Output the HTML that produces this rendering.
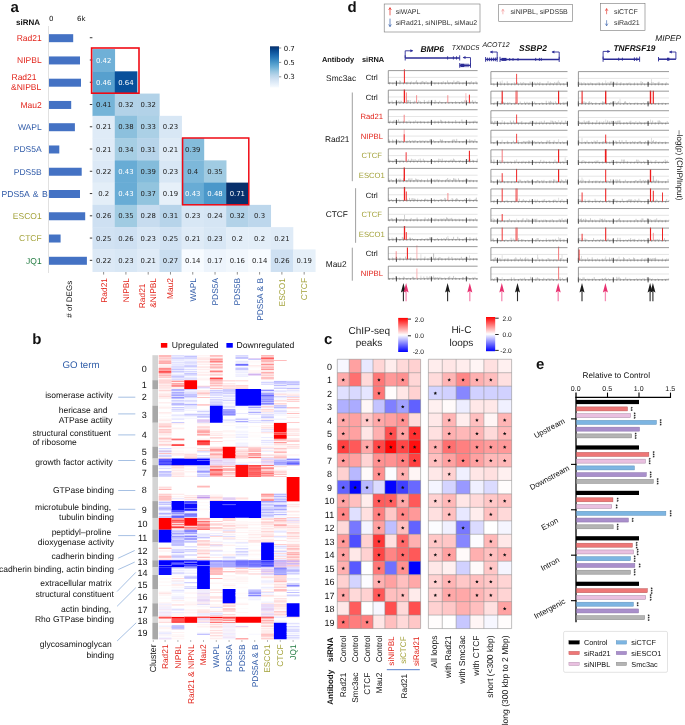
<!DOCTYPE html>
<html lang="en"><head><meta charset="utf-8"><title>Figure</title>
<style>
html,body{margin:0;padding:0;background:#fff}
body{width:685px;height:725px;overflow:hidden}
svg{display:block;text-rendering:geometricPrecision;font-family:"Liberation Sans",sans-serif}

</style></head><body>
<svg width="685" height="725" viewBox="0 0 685 725">
<rect width="685" height="725" fill="#fff"/>
<g fill="#111" style="filter:blur(0.3px)">
<g id="panel-a">
<text x="10.5" y="12.3" font-size="15" font-weight="bold">a</text>
<text x="16" y="25.4" font-size="8" font-weight="bold">siRNA</text>
<text x="49" y="20.7" font-size="7" font-family="DejaVu Sans, sans-serif">0</text>
<text x="77" y="20.7" font-size="7" font-family="DejaVu Sans, sans-serif">6k</text>
<line x1="48.5" y1="26" x2="48.5" y2="273" stroke="#d9d9d9" stroke-width="0.8"/>
<rect x="49" y="34.18" width="24.2" height="8" fill="#4472c4"/>
<text x="41.7" y="41.03" font-size="8.5" fill="#e2231a" text-anchor="end">Rad21</text>
<line x1="89.8" y1="37.73" x2="92.4" y2="37.73" stroke="#222" stroke-width="0.9"/>
<rect x="49" y="56.44" width="31" height="8" fill="#4472c4"/>
<text x="41.7" y="63.29" font-size="8.5" fill="#e2231a" text-anchor="end">NIPBL</text>
<line x1="89.8" y1="59.99" x2="92.4" y2="59.99" stroke="#222" stroke-width="0.9"/>
<rect x="49" y="78.7" width="32" height="8" fill="#4472c4"/>
<text x="11.5" y="80.25" font-size="8.5" fill="#e2231a">Rad21</text>
<text x="11" y="90.05" font-size="8.5" fill="#e2231a">&amp;NIPBL</text>
<line x1="89.8" y1="82.25" x2="92.4" y2="82.25" stroke="#222" stroke-width="0.9"/>
<rect x="49" y="100.96" width="22.2" height="8" fill="#4472c4"/>
<text x="41.7" y="107.81" font-size="8.5" fill="#e2231a" text-anchor="end">Mau2</text>
<line x1="89.8" y1="104.51" x2="92.4" y2="104.51" stroke="#222" stroke-width="0.9"/>
<rect x="49" y="123.22" width="25.9" height="8" fill="#4472c4"/>
<text x="41.7" y="130.07" font-size="8.5" fill="#2f5aa8" text-anchor="end">WAPL</text>
<line x1="89.8" y1="126.77" x2="92.4" y2="126.77" stroke="#222" stroke-width="0.9"/>
<rect x="49" y="145.48" width="10.3" height="8" fill="#4472c4"/>
<text x="41.7" y="152.33" font-size="8.5" fill="#2f5aa8" text-anchor="end">PDS5A</text>
<line x1="89.8" y1="149.03" x2="92.4" y2="149.03" stroke="#222" stroke-width="0.9"/>
<rect x="49" y="167.74" width="32.7" height="8" fill="#4472c4"/>
<text x="41.7" y="174.59" font-size="8.5" fill="#2f5aa8" text-anchor="end">PDS5B</text>
<line x1="89.8" y1="171.29" x2="92.4" y2="171.29" stroke="#222" stroke-width="0.9"/>
<rect x="49" y="190" width="31" height="8" fill="#4472c4"/>
<text x="1.5" y="196.85" font-size="8.6" fill="#2f5aa8" word-spacing="1.1">PDS5A &amp; B</text>
<line x1="89.8" y1="193.55" x2="92.4" y2="193.55" stroke="#222" stroke-width="0.9"/>
<rect x="49" y="212.26" width="36.2" height="8" fill="#4472c4"/>
<text x="41.7" y="219.11" font-size="8.5" fill="#a3a23a" text-anchor="end">ESCO1</text>
<line x1="89.8" y1="215.81" x2="92.4" y2="215.81" stroke="#222" stroke-width="0.9"/>
<rect x="49" y="234.52" width="11.6" height="8" fill="#4472c4"/>
<text x="41.7" y="241.37" font-size="8.5" fill="#a3a23a" text-anchor="end">CTCF</text>
<line x1="89.8" y1="238.07" x2="92.4" y2="238.07" stroke="#222" stroke-width="0.9"/>
<rect x="49" y="256.78" width="37.9" height="8" fill="#4472c4"/>
<text x="41.7" y="263.63" font-size="8.5" fill="#1f7a3f" text-anchor="end">JQ1</text>
<line x1="89.8" y1="260.33" x2="92.4" y2="260.33" stroke="#222" stroke-width="0.9"/>
<rect x="92.5" y="49.06" width="22.58" height="22.56" fill="#6fb0d7"/>
<rect x="92.5" y="71.32" width="22.58" height="22.56" fill="#57a0ce"/>
<rect x="114.78" y="71.32" width="22.58" height="22.56" fill="#08509b"/>
<rect x="92.5" y="93.58" width="22.58" height="22.56" fill="#75b4d8"/>
<rect x="114.78" y="93.58" width="22.58" height="22.56" fill="#b2d2e8"/>
<rect x="137.06" y="93.58" width="22.58" height="22.56" fill="#b2d2e8"/>
<rect x="92.5" y="115.84" width="22.58" height="22.56" fill="#dfebf7"/>
<rect x="114.78" y="115.84" width="22.58" height="22.56" fill="#8cc0dd"/>
<rect x="137.06" y="115.84" width="22.58" height="22.56" fill="#abd0e6"/>
<rect x="159.34" y="115.84" width="22.58" height="22.56" fill="#d8e7f5"/>
<rect x="92.5" y="138.1" width="22.58" height="22.56" fill="#dfebf7"/>
<rect x="114.78" y="138.1" width="22.58" height="22.56" fill="#a6cee4"/>
<rect x="137.06" y="138.1" width="22.58" height="22.56" fill="#b7d4ea"/>
<rect x="159.34" y="138.1" width="22.58" height="22.56" fill="#dfebf7"/>
<rect x="181.62" y="138.1" width="22.58" height="22.56" fill="#84bcdb"/>
<rect x="92.5" y="160.36" width="22.58" height="22.56" fill="#dce9f6"/>
<rect x="114.78" y="160.36" width="22.58" height="22.56" fill="#68acd5"/>
<rect x="137.06" y="160.36" width="22.58" height="22.56" fill="#84bcdb"/>
<rect x="159.34" y="160.36" width="22.58" height="22.56" fill="#d8e7f5"/>
<rect x="181.62" y="160.36" width="22.58" height="22.56" fill="#7db8da"/>
<rect x="203.9" y="160.36" width="22.58" height="22.56" fill="#a0cbe2"/>
<rect x="92.5" y="182.62" width="22.58" height="22.56" fill="#e3eef8"/>
<rect x="114.78" y="182.62" width="22.58" height="22.56" fill="#68acd5"/>
<rect x="137.06" y="182.62" width="22.58" height="22.56" fill="#92c4de"/>
<rect x="159.34" y="182.62" width="22.58" height="22.56" fill="#e6f0f9"/>
<rect x="181.62" y="182.62" width="22.58" height="22.56" fill="#68acd5"/>
<rect x="203.9" y="182.62" width="22.58" height="22.56" fill="#4b98ca"/>
<rect x="226.18" y="182.62" width="22.58" height="22.56" fill="#08306b"/>
<rect x="92.5" y="204.88" width="22.58" height="22.56" fill="#cee0f2"/>
<rect x="114.78" y="204.88" width="22.58" height="22.56" fill="#a0cbe2"/>
<rect x="137.06" y="204.88" width="22.58" height="22.56" fill="#c7dcef"/>
<rect x="159.34" y="204.88" width="22.58" height="22.56" fill="#b7d4ea"/>
<rect x="181.62" y="204.88" width="22.58" height="22.56" fill="#d8e7f5"/>
<rect x="203.9" y="204.88" width="22.58" height="22.56" fill="#d5e5f4"/>
<rect x="226.18" y="204.88" width="22.58" height="22.56" fill="#b2d2e8"/>
<rect x="248.46" y="204.88" width="22.58" height="22.56" fill="#bdd7ec"/>
<rect x="92.5" y="227.14" width="22.58" height="22.56" fill="#d1e2f3"/>
<rect x="114.78" y="227.14" width="22.58" height="22.56" fill="#cee0f2"/>
<rect x="137.06" y="227.14" width="22.58" height="22.56" fill="#d8e7f5"/>
<rect x="159.34" y="227.14" width="22.58" height="22.56" fill="#d1e2f3"/>
<rect x="181.62" y="227.14" width="22.58" height="22.56" fill="#dfebf7"/>
<rect x="203.9" y="227.14" width="22.58" height="22.56" fill="#d8e7f5"/>
<rect x="226.18" y="227.14" width="22.58" height="22.56" fill="#e3eef8"/>
<rect x="248.46" y="227.14" width="22.58" height="22.56" fill="#e3eef8"/>
<rect x="270.74" y="227.14" width="22.58" height="22.56" fill="#dfebf7"/>
<rect x="92.5" y="249.4" width="22.58" height="22.56" fill="#dce9f6"/>
<rect x="114.78" y="249.4" width="22.58" height="22.56" fill="#d8e7f5"/>
<rect x="137.06" y="249.4" width="22.58" height="22.56" fill="#dfebf7"/>
<rect x="159.34" y="249.4" width="22.58" height="22.56" fill="#cadef0"/>
<rect x="181.62" y="249.4" width="22.58" height="22.56" fill="#f7fbff"/>
<rect x="203.9" y="249.4" width="22.58" height="22.56" fill="#edf4fc"/>
<rect x="226.18" y="249.4" width="22.58" height="22.56" fill="#f1f7fd"/>
<rect x="248.46" y="249.4" width="22.58" height="22.56" fill="#f7fbff"/>
<rect x="270.74" y="249.4" width="22.58" height="22.56" fill="#cee0f2"/>
<rect x="293.02" y="249.4" width="22.58" height="22.56" fill="#e6f0f9"/>
<text x="103.64" y="62.59" font-size="6.9" fill="#fff" text-anchor="middle" font-family="DejaVu Sans, sans-serif">0.42</text>
<text x="103.64" y="84.85" font-size="6.9" fill="#fff" text-anchor="middle" font-family="DejaVu Sans, sans-serif">0.46</text>
<text x="125.92" y="84.85" font-size="6.9" fill="#fff" text-anchor="middle" font-family="DejaVu Sans, sans-serif">0.64</text>
<text x="103.64" y="107.11" font-size="6.9" fill="#222" text-anchor="middle" font-family="DejaVu Sans, sans-serif">0.41</text>
<text x="125.92" y="107.11" font-size="6.9" fill="#222" text-anchor="middle" font-family="DejaVu Sans, sans-serif">0.32</text>
<text x="148.2" y="107.11" font-size="6.9" fill="#222" text-anchor="middle" font-family="DejaVu Sans, sans-serif">0.32</text>
<text x="103.64" y="129.37" font-size="6.9" fill="#222" text-anchor="middle" font-family="DejaVu Sans, sans-serif">0.21</text>
<text x="125.92" y="129.37" font-size="6.9" fill="#222" text-anchor="middle" font-family="DejaVu Sans, sans-serif">0.38</text>
<text x="148.2" y="129.37" font-size="6.9" fill="#222" text-anchor="middle" font-family="DejaVu Sans, sans-serif">0.33</text>
<text x="170.48" y="129.37" font-size="6.9" fill="#222" text-anchor="middle" font-family="DejaVu Sans, sans-serif">0.23</text>
<text x="103.64" y="151.63" font-size="6.9" fill="#222" text-anchor="middle" font-family="DejaVu Sans, sans-serif">0.21</text>
<text x="125.92" y="151.63" font-size="6.9" fill="#222" text-anchor="middle" font-family="DejaVu Sans, sans-serif">0.34</text>
<text x="148.2" y="151.63" font-size="6.9" fill="#222" text-anchor="middle" font-family="DejaVu Sans, sans-serif">0.31</text>
<text x="170.48" y="151.63" font-size="6.9" fill="#222" text-anchor="middle" font-family="DejaVu Sans, sans-serif">0.21</text>
<text x="192.76" y="151.63" font-size="6.9" fill="#222" text-anchor="middle" font-family="DejaVu Sans, sans-serif">0.39</text>
<text x="103.64" y="173.89" font-size="6.9" fill="#222" text-anchor="middle" font-family="DejaVu Sans, sans-serif">0.22</text>
<text x="125.92" y="173.89" font-size="6.9" fill="#fff" text-anchor="middle" font-family="DejaVu Sans, sans-serif">0.43</text>
<text x="148.2" y="173.89" font-size="6.9" fill="#222" text-anchor="middle" font-family="DejaVu Sans, sans-serif">0.39</text>
<text x="170.48" y="173.89" font-size="6.9" fill="#222" text-anchor="middle" font-family="DejaVu Sans, sans-serif">0.23</text>
<text x="192.76" y="173.89" font-size="6.9" fill="#222" text-anchor="middle" font-family="DejaVu Sans, sans-serif">0.4</text>
<text x="215.04" y="173.89" font-size="6.9" fill="#222" text-anchor="middle" font-family="DejaVu Sans, sans-serif">0.35</text>
<text x="103.64" y="196.15" font-size="6.9" fill="#222" text-anchor="middle" font-family="DejaVu Sans, sans-serif">0.2</text>
<text x="125.92" y="196.15" font-size="6.9" fill="#fff" text-anchor="middle" font-family="DejaVu Sans, sans-serif">0.43</text>
<text x="148.2" y="196.15" font-size="6.9" fill="#222" text-anchor="middle" font-family="DejaVu Sans, sans-serif">0.37</text>
<text x="170.48" y="196.15" font-size="6.9" fill="#222" text-anchor="middle" font-family="DejaVu Sans, sans-serif">0.19</text>
<text x="192.76" y="196.15" font-size="6.9" fill="#fff" text-anchor="middle" font-family="DejaVu Sans, sans-serif">0.43</text>
<text x="215.04" y="196.15" font-size="6.9" fill="#fff" text-anchor="middle" font-family="DejaVu Sans, sans-serif">0.48</text>
<text x="237.32" y="196.15" font-size="6.9" fill="#fff" text-anchor="middle" font-family="DejaVu Sans, sans-serif">0.71</text>
<text x="103.64" y="218.41" font-size="6.9" fill="#222" text-anchor="middle" font-family="DejaVu Sans, sans-serif">0.26</text>
<text x="125.92" y="218.41" font-size="6.9" fill="#222" text-anchor="middle" font-family="DejaVu Sans, sans-serif">0.35</text>
<text x="148.2" y="218.41" font-size="6.9" fill="#222" text-anchor="middle" font-family="DejaVu Sans, sans-serif">0.28</text>
<text x="170.48" y="218.41" font-size="6.9" fill="#222" text-anchor="middle" font-family="DejaVu Sans, sans-serif">0.31</text>
<text x="192.76" y="218.41" font-size="6.9" fill="#222" text-anchor="middle" font-family="DejaVu Sans, sans-serif">0.23</text>
<text x="215.04" y="218.41" font-size="6.9" fill="#222" text-anchor="middle" font-family="DejaVu Sans, sans-serif">0.24</text>
<text x="237.32" y="218.41" font-size="6.9" fill="#222" text-anchor="middle" font-family="DejaVu Sans, sans-serif">0.32</text>
<text x="259.6" y="218.41" font-size="6.9" fill="#222" text-anchor="middle" font-family="DejaVu Sans, sans-serif">0.3</text>
<text x="103.64" y="240.67" font-size="6.9" fill="#222" text-anchor="middle" font-family="DejaVu Sans, sans-serif">0.25</text>
<text x="125.92" y="240.67" font-size="6.9" fill="#222" text-anchor="middle" font-family="DejaVu Sans, sans-serif">0.26</text>
<text x="148.2" y="240.67" font-size="6.9" fill="#222" text-anchor="middle" font-family="DejaVu Sans, sans-serif">0.23</text>
<text x="170.48" y="240.67" font-size="6.9" fill="#222" text-anchor="middle" font-family="DejaVu Sans, sans-serif">0.25</text>
<text x="192.76" y="240.67" font-size="6.9" fill="#222" text-anchor="middle" font-family="DejaVu Sans, sans-serif">0.21</text>
<text x="215.04" y="240.67" font-size="6.9" fill="#222" text-anchor="middle" font-family="DejaVu Sans, sans-serif">0.23</text>
<text x="237.32" y="240.67" font-size="6.9" fill="#222" text-anchor="middle" font-family="DejaVu Sans, sans-serif">0.2</text>
<text x="259.6" y="240.67" font-size="6.9" fill="#222" text-anchor="middle" font-family="DejaVu Sans, sans-serif">0.2</text>
<text x="281.88" y="240.67" font-size="6.9" fill="#222" text-anchor="middle" font-family="DejaVu Sans, sans-serif">0.21</text>
<text x="103.64" y="262.93" font-size="6.9" fill="#222" text-anchor="middle" font-family="DejaVu Sans, sans-serif">0.22</text>
<text x="125.92" y="262.93" font-size="6.9" fill="#222" text-anchor="middle" font-family="DejaVu Sans, sans-serif">0.23</text>
<text x="148.2" y="262.93" font-size="6.9" fill="#222" text-anchor="middle" font-family="DejaVu Sans, sans-serif">0.21</text>
<text x="170.48" y="262.93" font-size="6.9" fill="#222" text-anchor="middle" font-family="DejaVu Sans, sans-serif">0.27</text>
<text x="192.76" y="262.93" font-size="6.9" fill="#222" text-anchor="middle" font-family="DejaVu Sans, sans-serif">0.14</text>
<text x="215.04" y="262.93" font-size="6.9" fill="#222" text-anchor="middle" font-family="DejaVu Sans, sans-serif">0.17</text>
<text x="237.32" y="262.93" font-size="6.9" fill="#222" text-anchor="middle" font-family="DejaVu Sans, sans-serif">0.16</text>
<text x="259.6" y="262.93" font-size="6.9" fill="#222" text-anchor="middle" font-family="DejaVu Sans, sans-serif">0.14</text>
<text x="281.88" y="262.93" font-size="6.9" fill="#222" text-anchor="middle" font-family="DejaVu Sans, sans-serif">0.26</text>
<text x="304.16" y="262.93" font-size="6.9" fill="#222" text-anchor="middle" font-family="DejaVu Sans, sans-serif">0.19</text>
<rect x="91.6" y="48" width="47.4" height="45.2" fill="none" stroke="#f00a14" stroke-width="1.6"/>
<rect x="182.6" y="138" width="66.2" height="66.8" fill="none" stroke="#f00a14" stroke-width="1.5"/>
<line x1="103.64" y1="272" x2="103.64" y2="274.6" stroke="#444" stroke-width="0.6"/>
<text x="106.64" y="278" font-size="8.4" fill="#e2231a" text-anchor="end" transform="rotate(-90 106.64 278)">Rad21</text>
<line x1="125.92" y1="272" x2="125.92" y2="274.6" stroke="#444" stroke-width="0.6"/>
<text x="128.92" y="278" font-size="8.4" fill="#e2231a" text-anchor="end" transform="rotate(-90 128.92 278)">NIPBL</text>
<line x1="148.2" y1="272" x2="148.2" y2="274.6" stroke="#444" stroke-width="0.6"/>
<text x="145" y="283.5" font-size="8.4" fill="#e2231a" text-anchor="end" transform="rotate(-90 145 283.5)">Rad21</text>
<text x="155.6" y="278" font-size="8.4" fill="#e2231a" text-anchor="end" transform="rotate(-90 155.6 278)">&amp;NIPBL</text>
<line x1="170.48" y1="272" x2="170.48" y2="274.6" stroke="#444" stroke-width="0.6"/>
<text x="173.48" y="278" font-size="8.4" fill="#e2231a" text-anchor="end" transform="rotate(-90 173.48 278)">Mau2</text>
<line x1="192.76" y1="272" x2="192.76" y2="274.6" stroke="#444" stroke-width="0.6"/>
<text x="195.76" y="278" font-size="8.4" fill="#2f5aa8" text-anchor="end" transform="rotate(-90 195.76 278)">WAPL</text>
<line x1="215.04" y1="272" x2="215.04" y2="274.6" stroke="#444" stroke-width="0.6"/>
<text x="218.04" y="278" font-size="8.4" fill="#2f5aa8" text-anchor="end" transform="rotate(-90 218.04 278)">PDS5A</text>
<line x1="237.32" y1="272" x2="237.32" y2="274.6" stroke="#444" stroke-width="0.6"/>
<text x="240.32" y="278" font-size="8.4" fill="#2f5aa8" text-anchor="end" transform="rotate(-90 240.32 278)">PDS5B</text>
<line x1="259.6" y1="272" x2="259.6" y2="274.6" stroke="#444" stroke-width="0.6"/>
<text x="262.6" y="278" font-size="8.4" fill="#2f5aa8" text-anchor="end" transform="rotate(-90 262.6 278)">PDS5A &amp; B</text>
<line x1="281.88" y1="272" x2="281.88" y2="274.6" stroke="#444" stroke-width="0.6"/>
<text x="284.88" y="278" font-size="8.4" fill="#a3a23a" text-anchor="end" transform="rotate(-90 284.88 278)">ESCO1</text>
<line x1="304.16" y1="272" x2="304.16" y2="274.6" stroke="#444" stroke-width="0.6"/>
<text x="307.16" y="278" font-size="8.4" fill="#a3a23a" text-anchor="end" transform="rotate(-90 307.16 278)">CTCF</text>
<text x="71.7" y="280.8" font-size="8" text-anchor="end" transform="rotate(-90 71.7 280.8)"># of DEGs</text>
<defs><linearGradient id="gb" x1="0" y1="1" x2="0" y2="0">
<stop offset="0.0" stop-color="#f7fbff"/>
<stop offset="0.1" stop-color="#e3eef9"/>
<stop offset="0.2" stop-color="#d0e1f2"/>
<stop offset="0.3" stop-color="#b7d4ea"/>
<stop offset="0.4" stop-color="#94c4df"/>
<stop offset="0.5" stop-color="#6aaed6"/>
<stop offset="0.6" stop-color="#4a98c9"/>
<stop offset="0.7" stop-color="#2e7ebc"/>
<stop offset="0.8" stop-color="#1764ab"/>
<stop offset="0.9" stop-color="#084a91"/>
<stop offset="1.0" stop-color="#08306b"/>
</linearGradient></defs>
<rect x="270" y="46.3" width="9" height="41.2" fill="url(#gb)"/>
<line x1="279" y1="48" x2="281.2" y2="48" stroke="#444" stroke-width="0.6"/>
<text x="283.7" y="50.5" font-size="7" font-family="DejaVu Sans, sans-serif">0.7</text>
<line x1="279" y1="62.4" x2="281.2" y2="62.4" stroke="#444" stroke-width="0.6"/>
<text x="283.7" y="64.9" font-size="7" font-family="DejaVu Sans, sans-serif">0.5</text>
<line x1="279" y1="76.8" x2="281.2" y2="76.8" stroke="#444" stroke-width="0.6"/>
<text x="283.7" y="79.3" font-size="7" font-family="DejaVu Sans, sans-serif">0.3</text>
</g>
<g id="panel-b">
<path fill="#ffa4a4" d="M158.7 355.2h12.8v0.86h-12.8zM209.9 468.27h12.8v0.84h-12.8zM158.7 497.89h12.8v0.85h-12.8zM286.7 553.79h12.8v0.86h-12.8zM273.9 581.22h12.8v0.83h-12.8z"/>
<path fill="#ffafaf" d="M158.7 356.01h12.8v0.86h-12.8zM209.9 357.62h12.8v0.86h-12.8zM197.1 392.98h12.8v0.85h-12.8zM273.9 473.83h12.8v0.84h-12.8zM222.7 571.15h12.8v0.82h-12.8zM209.9 578.11h12.8v0.83h-12.8zM261.1 622.04h12.8v0.81h-12.8z"/>
<path fill="#ffa1a1" d="M158.7 356.81h12.8v0.86h-12.8zM158.7 372.94h12.8v0.86h-12.8zM197.1 523.41h12.8v0.84h-12.8zM286.7 554.6h12.8v0.86h-12.8z"/>
<path fill="#fff4f4" d="M158.7 357.62h12.8v0.86h-12.8zM158.7 361.65h12.8v0.86h-12.8zM158.7 364.07h12.8v1.66h-12.8zM197.1 377.78h12.8v0.86h-12.8zM261.1 369.72h12.8v0.86h-12.8zM261.1 371.33h12.8v0.86h-12.8zM261.1 376.17h12.8v0.86h-12.8zM261.1 379.39h12.8v0.86h-12.8zM286.7 389h12.8v0.85h-12.8zM222.7 430.7h12.8v0.85h-12.8zM171.5 448.27h12.8v0.84h-12.8zM184.3 450.63h12.8v0.84h-12.8zM209.9 452.21h12.8v0.84h-12.8zM222.7 521.83h12.8v0.84h-12.8zM248.3 521.83h12.8v0.84h-12.8zM248.3 553.79h12.8v0.86h-12.8zM171.5 575.78h12.8v0.83h-12.8zM222.7 575h12.8v0.83h-12.8zM222.7 578.89h12.8v1.61h-12.8zM222.7 586.67h12.8v0.83h-12.8zM235.5 576.56h12.8v0.83h-12.8zM235.5 578.11h12.8v0.83h-12.8zM235.5 579.67h12.8v0.83h-12.8zM184.3 603.3h12.8v0.84h-12.8zM235.5 611.97h12.8v0.84h-12.8z"/>
<path fill="#ff9c9c" d="M158.7 358.43h12.8v0.86h-12.8zM261.1 360.85h12.8v0.86h-12.8zM209.9 388.2h12.8v0.85h-12.8zM209.9 454.57h12.8v0.84h-12.8zM273.9 525.77h12.8v0.84h-12.8z"/>
<path fill="#ffd9d9" d="M158.7 359.23h12.8v0.86h-12.8zM209.9 373.75h12.8v0.86h-12.8zM158.7 443.5h12.8v0.85h-12.8zM261.1 460.15h12.8v0.88h-12.8zM222.7 537.64h12.8v0.84h-12.8zM286.7 540.81h12.8v0.84h-12.8zM158.7 547.28h12.8v0.86h-12.8zM261.1 571.92h12.8v0.82h-12.8zM273.9 578.11h12.8v0.83h-12.8zM209.9 592.18h12.8v0.84h-12.8zM261.1 628.3h12.8v0.84h-12.8z"/>
<path fill="#ffdada" d="M158.7 360.04h12.8v0.86h-12.8zM158.7 425.1h12.8v0.85h-12.8zM197.1 425.9h12.8v0.85h-12.8zM248.3 457.71h12.8v0.84h-12.8zM273.9 472.24h12.8v0.84h-12.8zM286.7 504.3h12.8v0.85h-12.8zM222.7 526.55h12.8v0.84h-12.8zM209.9 544.03h12.8v0.86h-12.8zM286.7 544.03h12.8v0.86h-12.8zM273.9 575.78h12.8v0.83h-12.8zM273.9 577.33h12.8v0.83h-12.8z"/>
<path fill="#ff9595" d="M158.7 360.85h12.8v0.86h-12.8zM261.1 372.14h12.8v0.86h-12.8zM184.3 528.13h12.8v0.84h-12.8z"/>
<path fill="#ff7676" d="M158.7 362.46h12.8v0.86h-12.8z"/>
<path fill="#ff9e9e" d="M158.7 363.26h12.8v0.86h-12.8zM209.9 449.06h12.8v0.84h-12.8z"/>
<path fill="#ffdddd" d="M158.7 365.68h12.8v0.86h-12.8zM209.9 437.9h12.8v0.85h-12.8zM286.7 445.9h12.8v0.85h-12.8zM222.7 518.69h12.8v0.84h-12.8zM273.9 540.02h12.8v0.84h-12.8zM197.1 547.28h12.8v0.86h-12.8zM158.7 592.97h12.8v0.84h-12.8z"/>
<path fill="#ffeeee" d="M158.7 366.49h12.8v0.86h-12.8zM158.7 374.55h12.8v0.86h-12.8zM197.1 361.65h12.8v0.86h-12.8zM261.1 410.56h12.8v0.86h-12.8zM286.7 408.13h12.8v0.86h-12.8zM158.7 426.7h12.8v0.85h-12.8zM171.5 442.7h12.8v0.85h-12.8zM286.7 454.57h12.8v0.84h-12.8zM197.1 520.26h12.8v0.84h-12.8zM248.3 524.19h12.8v0.84h-12.8zM261.1 519.47h12.8v0.84h-12.8zM222.7 536.84h12.8v0.84h-12.8zM261.1 530.49h12.8v0.84h-12.8zM209.9 542.4h12.8v0.86h-12.8zM222.7 585.11h12.8v0.83h-12.8zM261.1 583.56h12.8v0.83h-12.8zM171.5 597.74h12.8v0.84h-12.8zM222.7 618.99h12.8v0.81h-12.8zM222.7 620.51h12.8v1.57h-12.8zM171.5 629.09h12.8v0.84h-12.8z"/>
<path fill="#ffd2d2" d="M158.7 367.3h12.8v0.86h-12.8zM209.9 376.97h12.8v0.86h-12.8zM261.1 378.59h12.8v0.86h-12.8zM158.7 381.8h12.8v0.85h-12.8zM222.7 380.2h12.8v0.85h-12.8zM222.7 387.4h12.8v0.85h-12.8zM158.7 394.57h12.8v0.85h-12.8zM209.9 441.1h12.8v0.85h-12.8zM235.5 447.49h12.8v0.84h-12.8zM261.1 469.07h12.8v0.84h-12.8zM209.9 529.7h12.8v0.84h-12.8zM222.7 531.29h12.8v0.84h-12.8zM273.9 557.86h12.8v0.86h-12.8zM248.3 568.84h12.8v0.82h-12.8zM273.9 601.71h12.8v0.84h-12.8zM209.9 615.12h12.8v0.84h-12.8zM261.1 618.23h12.8v0.81h-12.8z"/>
<path fill="#ff8b8b" d="M158.7 368.1h12.8v0.86h-12.8zM222.7 472.24h12.8v0.84h-12.8z"/>
<path fill="#ff7d7d" d="M158.7 368.91h12.8v0.86h-12.8z"/>
<path fill="#ff8181" d="M158.7 369.72h12.8v0.86h-12.8zM261.1 500.3h12.8v0.85h-12.8zM171.5 521.05h12.8v0.84h-12.8zM197.1 525.77h12.8v0.84h-12.8z"/>
<path fill="#ff8888" d="M158.7 370.52h12.8v0.86h-12.8zM273.9 517.9h12.8v0.84h-12.8z"/>
<path fill="#ff2b2b" d="M158.7 371.33h12.8v0.86h-12.8zM171.5 618.23h12.8v0.81h-12.8z"/>
<path fill="#ff4646" d="M158.7 372.14h12.8v0.86h-12.8zM248.3 465.1h12.8v0.84h-12.8zM248.3 473.03h12.8v0.84h-12.8z"/>
<path fill="#ffa5a5" d="M158.7 373.75h12.8v0.86h-12.8zM273.9 456.93h12.8v0.84h-12.8zM235.5 572.69h12.8v0.82h-12.8z"/>
<path fill="#ff9292" d="M158.7 375.36h12.8v0.86h-12.8z"/>
<path fill="#ffd0d0" d="M158.7 376.17h12.8v0.86h-12.8zM222.7 475.41h12.8v0.84h-12.8zM273.9 465.89h12.8v0.84h-12.8zM273.9 552.98h12.8v0.86h-12.8zM158.7 622.04h12.8v0.81h-12.8zM209.9 632.23h12.8v0.84h-12.8z"/>
<path fill="#ffacac" d="M158.7 376.97h12.8v0.86h-12.8zM286.7 412.99h12.8v0.86h-12.8zM273.9 452.21h12.8v0.84h-12.8zM197.1 518.69h12.8v0.84h-12.8zM209.9 572.69h12.8v0.82h-12.8zM235.5 570.38h12.8v0.82h-12.8z"/>
<path fill="#fff7f7" d="M158.7 377.78h12.8v1.66h-12.8zM209.9 356.81h12.8v0.86h-12.8zM209.9 368.91h12.8v0.86h-12.8zM248.3 360.85h12.8v0.86h-12.8zM261.1 356.81h12.8v0.86h-12.8zM248.3 425.9h12.8v0.85h-12.8zM273.9 442.7h12.8v0.85h-12.8zM273.9 445.1h12.8v1.65h-12.8zM184.3 455.35h12.8v0.84h-12.8zM273.9 447.49h12.8v0.84h-12.8zM273.9 450.63h12.8v0.84h-12.8zM273.9 452.99h12.8v0.84h-12.8zM158.7 494.67h12.8v0.85h-12.8zM158.7 500.3h12.8v0.85h-12.8zM197.1 501.9h12.8v0.85h-12.8zM235.5 528.13h12.8v0.84h-12.8zM248.3 523.41h12.8v0.84h-12.8zM248.3 528.13h12.8v0.84h-12.8zM248.3 529.7h12.8v0.84h-12.8zM286.7 542.4h12.8v1.68h-12.8zM286.7 547.28h12.8v0.86h-12.8zM286.7 550.54h12.8v0.86h-12.8zM235.5 568.84h12.8v1.59h-12.8zM235.5 573.46h12.8v1.59h-12.8zM158.7 585.11h12.8v0.83h-12.8zM273.9 583.56h12.8v0.83h-12.8zM273.9 585.11h12.8v1.61h-12.8zM273.9 587.44h12.8v1.61h-12.8zM158.7 597.74h12.8v0.84h-12.8zM235.5 592.97h12.8v0.84h-12.8zM184.3 604.88h12.8v0.84h-12.8zM273.9 622.04h12.8v0.81h-12.8zM286.7 617.46h12.8v0.81h-12.8z"/>
<path fill="#ffc9c9" d="M158.7 379.39h12.8v0.86h-12.8zM261.1 408.94h12.8v0.86h-12.8zM158.7 427.5h12.8v0.85h-12.8zM235.5 457.71h12.8v0.84h-12.8zM261.1 473.83h12.8v0.84h-12.8zM184.3 498.69h12.8v0.85h-12.8zM222.7 524.98h12.8v0.84h-12.8zM261.1 521.83h12.8v0.84h-12.8zM261.1 531.29h12.8v0.84h-12.8zM158.7 555.42h12.8v0.86h-12.8zM197.1 544.03h12.8v0.86h-12.8zM209.9 627.51h12.8v0.84h-12.8zM209.9 629.87h12.8v0.84h-12.8z"/>
<path fill="#d6d6ff" d="M171.5 355.2h12.8v0.86h-12.8zM184.3 400.93h12.8v0.85h-12.8zM171.5 418.65h12.8v0.86h-12.8zM222.7 419.46h12.8v0.86h-12.8zM248.3 408.94h12.8v0.86h-12.8zM158.7 472.24h12.8v0.84h-12.8zM197.1 466.69h12.8v0.84h-12.8zM273.9 514.7h12.8v0.85h-12.8zM184.3 585.89h12.8v0.83h-12.8zM171.5 608.82h12.8v0.84h-12.8zM286.7 626.73h12.8v0.84h-12.8z"/>
<path fill="#f8f8ff" d="M171.5 356.01h12.8v0.86h-12.8zM171.5 360.85h12.8v0.86h-12.8zM171.5 363.26h12.8v0.86h-12.8zM171.5 372.94h12.8v1.66h-12.8zM171.5 378.59h12.8v0.86h-12.8zM184.3 356.81h12.8v0.86h-12.8zM184.3 359.23h12.8v1.66h-12.8zM184.3 367.3h12.8v1.66h-12.8zM184.3 369.72h12.8v1.66h-12.8zM184.3 372.14h12.8v0.86h-12.8zM184.3 375.36h12.8v2.47h-12.8zM222.7 559.49h12.8v0.86h-12.8zM261.1 582.78h12.8v0.83h-12.8z"/>
<path fill="#bdbdff" d="M171.5 356.81h12.8v0.86h-12.8zM184.3 391.39h12.8v0.85h-12.8zM209.9 404.9h12.8v0.85h-12.8zM273.9 396.16h12.8v0.85h-12.8zM197.1 414.6h12.8v0.86h-12.8zM261.1 417.03h12.8v0.86h-12.8zM158.7 504.3h12.8v0.85h-12.8zM184.3 548.91h12.8v0.86h-12.8zM184.3 576.56h12.8v0.83h-12.8z"/>
<path fill="#eaeaff" d="M171.5 357.62h12.8v0.86h-12.8zM235.5 371.33h12.8v0.86h-12.8zM286.7 385h12.8v0.85h-12.8zM184.3 409.75h12.8v0.86h-12.8zM235.5 405.7h12.8v0.86h-12.8zM273.9 405.7h12.8v0.86h-12.8zM235.5 437.1h12.8v0.85h-12.8zM222.7 542.4h12.8v0.86h-12.8z"/>
<path fill="#b1b1ff" d="M171.5 358.43h12.8v0.86h-12.8zM171.5 366.49h12.8v0.86h-12.8zM171.5 376.17h12.8v0.86h-12.8zM158.7 455.35h12.8v0.84h-12.8zM273.9 508.3h12.8v0.85h-12.8zM184.3 567.3h12.8v0.82h-12.8z"/>
<path fill="#e8e8ff" d="M171.5 359.23h12.8v0.86h-12.8zM171.5 364.88h12.8v0.86h-12.8zM286.7 385.8h12.8v0.85h-12.8zM222.7 396.16h12.8v0.85h-12.8zM197.1 410.56h12.8v0.86h-12.8zM171.5 514.7h12.8v0.85h-12.8zM171.5 529.7h12.8v0.84h-12.8zM171.5 554.6h12.8v0.86h-12.8zM184.3 582.78h12.8v0.83h-12.8zM197.1 589h12.8v0.84h-12.8zM197.1 591.38h12.8v0.84h-12.8zM197.1 595.36h12.8v0.84h-12.8zM261.1 593.77h12.8v0.84h-12.8zM261.1 601.71h12.8v0.84h-12.8z"/>
<path fill="#e9e9ff" d="M171.5 360.04h12.8v0.86h-12.8zM171.5 369.72h12.8v0.86h-12.8zM235.5 376.17h12.8v0.86h-12.8zM209.9 398.54h12.8v0.85h-12.8zM235.5 427.5h12.8v0.85h-12.8zM235.5 433.9h12.8v0.85h-12.8zM158.7 505.9h12.8v0.85h-12.8zM261.1 506.7h12.8v0.85h-12.8zM184.3 551.35h12.8v0.86h-12.8zM273.9 548.1h12.8v0.86h-12.8zM171.5 611.97h12.8v0.84h-12.8zM286.7 622.8h12.8v0.84h-12.8z"/>
<path fill="#e4e4ff" d="M171.5 361.65h12.8v0.86h-12.8zM171.5 377.78h12.8v0.86h-12.8zM184.3 363.26h12.8v0.86h-12.8zM286.7 391.39h12.8v0.85h-12.8zM184.3 407.32h12.8v0.86h-12.8zM248.3 409.75h12.8v0.86h-12.8zM273.9 412.99h12.8v0.86h-12.8zM222.7 558.67h12.8v0.86h-12.8zM171.5 571.92h12.8v0.82h-12.8zM171.5 573.46h12.8v0.82h-12.8zM171.5 591.38h12.8v0.84h-12.8zM171.5 609.61h12.8v0.84h-12.8z"/>
<path fill="#d3d3ff" d="M171.5 362.46h12.8v0.86h-12.8zM184.3 368.91h12.8v0.86h-12.8zM286.7 382.6h12.8v0.85h-12.8zM273.9 501.9h12.8v0.85h-12.8zM235.5 542.4h12.8v0.86h-12.8zM171.5 568.07h12.8v0.82h-12.8z"/>
<path fill="#e7e7ff" d="M171.5 364.07h12.8v0.86h-12.8zM184.3 389.8h12.8v0.85h-12.8zM184.3 398.54h12.8v0.85h-12.8zM184.3 401.72h12.8v0.85h-12.8zM184.3 403.31h12.8v0.85h-12.8zM273.9 391.39h12.8v0.85h-12.8zM184.3 408.13h12.8v0.86h-12.8zM261.1 417.84h12.8v0.86h-12.8zM273.9 530.49h12.8v1.64h-12.8zM222.7 557.86h12.8v0.86h-12.8zM286.7 628.3h12.8v0.84h-12.8z"/>
<path fill="#e2e2ff" d="M171.5 365.68h12.8v0.86h-12.8zM171.5 368.1h12.8v0.86h-12.8zM171.5 370.52h12.8v0.86h-12.8zM171.5 414.6h12.8v0.86h-12.8zM197.1 535.26h12.8v0.84h-12.8zM222.7 530.49h12.8v0.84h-12.8zM209.9 554.6h12.8v0.86h-12.8zM286.7 568.07h12.8v0.82h-12.8z"/>
<path fill="#dcdcff" d="M171.5 367.3h12.8v0.86h-12.8zM222.7 407.32h12.8v0.86h-12.8zM248.3 420.27h12.8v0.86h-12.8zM197.1 469.07h12.8v0.84h-12.8zM158.7 512.3h12.8v0.85h-12.8zM171.5 532.08h12.8v0.84h-12.8zM222.7 529.7h12.8v0.84h-12.8zM184.3 559.49h12.8v0.86h-12.8zM286.7 629.09h12.8v1.62h-12.8z"/>
<path fill="#b8b8ff" d="M171.5 368.91h12.8v0.86h-12.8zM235.5 368.91h12.8v0.86h-12.8zM273.9 388.2h12.8v0.85h-12.8zM171.5 400.13h12.8v0.85h-12.8zM273.9 498.69h12.8v0.85h-12.8zM171.5 625.16h12.8v0.84h-12.8z"/>
<path fill="#bebeff" d="M171.5 371.33h12.8v0.86h-12.8zM171.5 404.11h12.8v0.85h-12.8zM209.9 396.95h12.8v0.85h-12.8zM261.1 392.18h12.8v0.85h-12.8zM222.7 405.7h12.8v0.86h-12.8zM261.1 504.3h12.8v0.85h-12.8zM273.9 510.7h12.8v0.85h-12.8z"/>
<path fill="#ddddff" d="M171.5 372.14h12.8v0.86h-12.8zM273.9 387.4h12.8v0.85h-12.8zM184.3 392.18h12.8v0.85h-12.8zM197.1 468.27h12.8v0.84h-12.8zM273.9 494.67h12.8v0.85h-12.8zM171.5 598.53h12.8v0.84h-12.8z"/>
<path fill="#e0e0ff" d="M171.5 374.55h12.8v0.86h-12.8zM184.3 360.85h12.8v0.86h-12.8zM235.5 367.3h12.8v0.86h-12.8zM171.5 415.41h12.8v0.86h-12.8zM261.1 448.27h12.8v0.84h-12.8zM261.1 450.63h12.8v0.84h-12.8zM171.5 497.89h12.8v0.85h-12.8zM171.5 567.3h12.8v0.82h-12.8z"/>
<path fill="#d8d8ff" d="M171.5 375.36h12.8v0.86h-12.8zM235.5 363.26h12.8v0.86h-12.8zM184.3 404.9h12.8v0.85h-12.8zM261.1 401.72h12.8v0.85h-12.8zM273.9 390.59h12.8v0.85h-12.8zM248.3 406.51h12.8v0.86h-12.8zM261.1 441.9h12.8v0.85h-12.8zM158.7 514.7h12.8v0.85h-12.8zM209.9 535.26h12.8v0.84h-12.8zM171.5 550.54h12.8v0.86h-12.8zM273.9 559.49h12.8v0.86h-12.8zM197.1 604.09h12.8v0.84h-12.8zM209.9 607.24h12.8v0.84h-12.8zM209.9 614.34h12.8v0.84h-12.8zM286.7 623.59h12.8v0.84h-12.8z"/>
<path fill="#cacaff" d="M171.5 376.97h12.8v0.86h-12.8zM184.3 374.55h12.8v0.86h-12.8zM158.7 468.27h12.8v0.84h-12.8zM171.5 549.72h12.8v0.86h-12.8zM273.9 550.54h12.8v0.86h-12.8z"/>
<path fill="#bbbbff" d="M171.5 379.39h12.8v0.86h-12.8zM222.7 391.39h12.8v0.85h-12.8z"/>
<path fill="#e3e3ff" d="M184.3 355.2h12.8v0.86h-12.8zM184.3 414.6h12.8v0.86h-12.8zM235.5 412.99h12.8v0.86h-12.8zM261.1 421.89h12.8v0.86h-12.8zM209.9 532.88h12.8v0.84h-12.8zM235.5 548.91h12.8v0.86h-12.8zM273.9 555.42h12.8v0.86h-12.8zM286.7 574.23h12.8v0.82h-12.8zM261.1 580.44h12.8v0.83h-12.8zM261.1 607.24h12.8v0.84h-12.8zM261.1 615.91h12.8v0.84h-12.8z"/>
<path fill="#b3b3ff" d="M184.3 356.01h12.8v0.86h-12.8zM158.7 503.5h12.8v0.85h-12.8zM261.1 503.5h12.8v0.85h-12.8zM171.5 628.3h12.8v0.84h-12.8z"/>
<path fill="#b6b6ff" d="M184.3 357.62h12.8v0.86h-12.8zM184.3 372.94h12.8v0.86h-12.8zM273.9 383.4h12.8v0.85h-12.8zM184.3 404.11h12.8v0.85h-12.8zM261.1 390.59h12.8v0.85h-12.8zM197.1 416.22h12.8v0.86h-12.8zM273.9 406.51h12.8v0.86h-12.8zM261.1 457.71h12.8v0.84h-12.8z"/>
<path fill="#d4d4ff" d="M184.3 358.43h12.8v0.86h-12.8zM209.9 400.93h12.8v0.85h-12.8zM222.7 392.18h12.8v0.85h-12.8zM273.9 459.32h12.8v0.88h-12.8zM158.7 517.1h12.8v0.85h-12.8zM261.1 513.9h12.8v0.85h-12.8zM273.9 509.9h12.8v0.85h-12.8zM184.3 534.46h12.8v0.84h-12.8zM197.1 537.64h12.8v0.84h-12.8zM171.5 551.35h12.8v0.86h-12.8zM209.9 544.84h12.8v0.86h-12.8zM273.9 546.47h12.8v0.86h-12.8zM184.3 578.11h12.8v0.83h-12.8z"/>
<path fill="#dfdfff" d="M184.3 361.65h12.8v0.86h-12.8zM261.1 429.1h12.8v0.85h-12.8zM158.7 502.7h12.8v0.85h-12.8zM197.1 620.51h12.8v0.81h-12.8z"/>
<path fill="#c9c9ff" d="M184.3 362.46h12.8v0.86h-12.8zM261.1 382.6h12.8v0.85h-12.8zM235.5 419.46h12.8v0.86h-12.8zM158.7 476.21h12.8v0.84h-12.8zM273.9 545.65h12.8v0.86h-12.8z"/>
<path fill="#ebebff" d="M184.3 364.07h12.8v0.86h-12.8zM222.7 399.34h12.8v0.85h-12.8zM158.7 465.89h12.8v0.84h-12.8zM222.7 539.23h12.8v0.84h-12.8zM235.5 545.65h12.8v0.86h-12.8zM158.7 632.23h12.8v0.84h-12.8z"/>
<path fill="#cbcbff" d="M184.3 364.88h12.8v0.86h-12.8zM184.3 371.33h12.8v0.86h-12.8zM261.1 384.2h12.8v0.85h-12.8zM286.7 387.4h12.8v0.85h-12.8zM184.3 415.41h12.8v0.86h-12.8zM248.3 411.37h12.8v0.86h-12.8zM261.1 416.22h12.8v0.86h-12.8zM197.1 456.93h12.8v0.84h-12.8zM235.5 553.79h12.8v0.86h-12.8z"/>
<path fill="#c8c8ff" d="M184.3 365.68h12.8v0.86h-12.8zM235.5 368.1h12.8v0.86h-12.8zM286.7 381h12.8v0.85h-12.8zM184.3 400.13h12.8v0.85h-12.8zM209.9 404.11h12.8v0.85h-12.8zM158.7 473.03h12.8v0.84h-12.8zM158.7 509.1h12.8v0.85h-12.8zM273.9 502.7h12.8v0.85h-12.8zM184.3 532.08h12.8v0.84h-12.8z"/>
<path fill="#b4b4ff" d="M184.3 366.49h12.8v0.86h-12.8zM184.3 389h12.8v0.85h-12.8zM197.1 476.21h12.8v0.84h-12.8zM261.1 509.9h12.8v0.85h-12.8zM273.9 512.3h12.8v0.85h-12.8zM184.3 535.26h12.8v0.84h-12.8z"/>
<path fill="#c5c5ff" d="M184.3 373.75h12.8v0.86h-12.8zM222.7 400.13h12.8v0.85h-12.8zM171.5 408.94h12.8v0.86h-12.8zM273.9 504.3h12.8v0.85h-12.8zM197.1 533.67h12.8v0.84h-12.8zM171.5 557.05h12.8v0.86h-12.8zM184.3 546.47h12.8v0.86h-12.8zM184.3 575.78h12.8v0.83h-12.8z"/>
<path fill="#c2c2ff" d="M184.3 377.78h12.8v0.86h-12.8zM222.7 389h12.8v0.85h-12.8zM222.7 390.59h12.8v0.85h-12.8zM261.1 511.5h12.8v0.85h-12.8zM261.1 515.5h12.8v0.85h-12.8zM171.5 544.03h12.8v0.86h-12.8zM171.5 572.69h12.8v0.82h-12.8zM286.7 595.36h12.8v0.84h-12.8z"/>
<path fill="#eeeeff" d="M184.3 378.59h12.8v0.86h-12.8zM222.7 398.54h12.8v0.85h-12.8zM235.5 436.3h12.8v0.85h-12.8zM261.1 455.35h12.8v0.84h-12.8zM184.3 510.7h12.8v0.85h-12.8zM184.3 512.3h12.8v0.85h-12.8zM184.3 517.1h12.8v0.85h-12.8zM273.9 532.08h12.8v0.84h-12.8zM273.9 536.84h12.8v0.84h-12.8zM248.3 598.53h12.8v0.84h-12.8zM273.9 621.27h12.8v0.81h-12.8zM158.7 633.8h12.8v0.84h-12.8z"/>
<path fill="#d0d0ff" d="M184.3 379.39h12.8v0.86h-12.8zM235.5 356.01h12.8v0.86h-12.8zM261.1 381.8h12.8v0.85h-12.8zM222.7 402.52h12.8v0.85h-12.8zM158.7 456.14h12.8v0.84h-12.8zM273.9 458.5h12.8v0.88h-12.8zM286.7 625.94h12.8v0.84h-12.8z"/>
<path fill="#fff1f1" d="M197.1 355.2h12.8v0.86h-12.8zM273.9 395.36h12.8v0.85h-12.8zM273.9 404.11h12.8v0.85h-12.8zM171.5 427.5h12.8v0.85h-12.8zM197.1 445.1h12.8v0.85h-12.8zM261.1 445.9h12.8v0.85h-12.8zM184.3 447.49h12.8v0.84h-12.8zM273.9 466.69h12.8v0.84h-12.8zM286.7 507.5h12.8v0.85h-12.8zM235.5 522.62h12.8v0.84h-12.8zM248.3 538.43h12.8v0.84h-12.8zM248.3 550.54h12.8v0.86h-12.8zM171.5 585.11h12.8v0.83h-12.8zM261.1 596.15h12.8v0.84h-12.8zM171.5 613.55h12.8v0.84h-12.8zM184.3 604.09h12.8v0.84h-12.8zM235.5 604.09h12.8v0.84h-12.8zM273.9 603.3h12.8v0.84h-12.8zM197.1 624.37h12.8v0.84h-12.8zM261.1 626.73h12.8v0.84h-12.8z"/>
<path fill="#fff8f8" d="M197.1 356.01h12.8v0.86h-12.8zM197.1 365.68h12.8v0.86h-12.8zM197.1 370.52h12.8v0.86h-12.8zM248.3 362.46h12.8v0.86h-12.8zM158.7 419.46h12.8v0.86h-12.8zM222.7 433.9h12.8v0.85h-12.8zM248.3 432.3h12.8v0.85h-12.8zM248.3 434.7h12.8v0.85h-12.8zM171.5 449.85h12.8v0.84h-12.8zM197.1 517.1h12.8v0.85h-12.8zM286.7 503.5h12.8v0.85h-12.8zM235.5 521.05h12.8v0.84h-12.8zM248.3 517.9h12.8v0.84h-12.8zM209.9 533.67h12.8v0.84h-12.8zM248.3 555.42h12.8v0.86h-12.8zM222.7 576.56h12.8v0.83h-12.8zM222.7 581.22h12.8v0.83h-12.8zM235.5 597.74h12.8v0.84h-12.8zM171.5 615.12h12.8v0.84h-12.8zM209.9 610.39h12.8v0.84h-12.8zM171.5 637.73h12.8v0.84h-12.8z"/>
<path fill="#ffe0e0" d="M197.1 357.62h12.8v0.86h-12.8zM197.1 359.23h12.8v0.86h-12.8zM197.1 360.85h12.8v0.86h-12.8zM197.1 374.55h12.8v0.86h-12.8zM286.7 395.36h12.8v0.85h-12.8zM273.9 444.3h12.8v0.85h-12.8zM286.7 448.27h12.8v0.84h-12.8zM286.7 505.9h12.8v0.85h-12.8zM222.7 532.08h12.8v0.84h-12.8zM235.5 571.92h12.8v0.82h-12.8zM197.1 615.91h12.8v0.84h-12.8zM209.9 605.66h12.8v0.84h-12.8z"/>
<path fill="#ffe6e6" d="M197.1 358.43h12.8v0.86h-12.8zM261.1 359.23h12.8v0.86h-12.8zM158.7 383.4h12.8v0.85h-12.8zM222.7 381h12.8v0.85h-12.8zM158.7 412.18h12.8v0.86h-12.8zM261.1 427.5h12.8v0.85h-12.8zM286.7 521.05h12.8v0.84h-12.8zM286.7 522.62h12.8v0.84h-12.8zM222.7 538.43h12.8v0.84h-12.8zM261.1 532.88h12.8v0.84h-12.8zM235.5 567.3h12.8v0.82h-12.8zM273.9 582h12.8v0.83h-12.8zM171.5 604.09h12.8v0.84h-12.8zM261.1 630.66h12.8v0.84h-12.8z"/>
<path fill="#ffe1e1" d="M197.1 362.46h12.8v0.86h-12.8zM158.7 388.2h12.8v0.85h-12.8zM158.7 391.39h12.8v0.85h-12.8zM261.1 411.37h12.8v0.86h-12.8zM197.1 438.7h12.8v0.85h-12.8zM171.5 452.99h12.8v0.84h-12.8zM273.9 449.06h12.8v0.84h-12.8zM197.1 498.69h12.8v0.85h-12.8zM209.9 494.67h12.8v0.85h-12.8zM261.1 521.05h12.8v0.84h-12.8zM261.1 535.26h12.8v0.84h-12.8zM286.7 535.26h12.8v0.84h-12.8zM222.7 567.3h12.8v0.82h-12.8zM273.9 600.12h12.8v0.84h-12.8zM209.9 637.73h12.8v0.84h-12.8z"/>
<path fill="#ffefef" d="M197.1 364.07h12.8v0.86h-12.8zM248.3 372.14h12.8v0.86h-12.8zM286.7 411.37h12.8v0.86h-12.8zM286.7 415.41h12.8v0.86h-12.8zM209.9 433.1h12.8v0.85h-12.8zM222.7 431.5h12.8v0.85h-12.8zM222.7 435.5h12.8v0.85h-12.8zM286.7 429.9h12.8v0.85h-12.8zM209.9 467.48h12.8v0.84h-12.8zM209.9 474.62h12.8v0.84h-12.8zM209.9 476.21h12.8v0.84h-12.8zM171.5 496.28h12.8v0.85h-12.8zM235.5 526.55h12.8v0.84h-12.8zM261.1 526.55h12.8v0.84h-12.8zM261.1 536.84h12.8v0.84h-12.8zM273.9 535.26h12.8v0.84h-12.8zM248.3 549.72h12.8v0.86h-12.8zM273.9 549.72h12.8v0.86h-12.8zM171.5 600.12h12.8v0.84h-12.8zM184.3 601.71h12.8v0.84h-12.8zM184.3 611.97h12.8v0.84h-12.8zM171.5 632.23h12.8v0.84h-12.8zM171.5 636.16h12.8v0.84h-12.8zM261.1 636.94h12.8v0.84h-12.8z"/>
<path fill="#ffdede" d="M197.1 366.49h12.8v0.86h-12.8zM261.1 409.75h12.8v0.86h-12.8zM158.7 437.1h12.8v0.85h-12.8zM184.3 453.78h12.8v0.84h-12.8zM209.9 496.28h12.8v0.85h-12.8zM286.7 501.1h12.8v0.85h-12.8zM261.1 539.23h12.8v0.84h-12.8zM209.9 549.72h12.8v0.86h-12.8zM171.5 578.11h12.8v0.83h-12.8zM209.9 596.15h12.8v0.84h-12.8zM273.9 608.03h12.8v0.84h-12.8z"/>
<path fill="#ffe5e5" d="M197.1 367.3h12.8v0.86h-12.8zM158.7 433.9h12.8v0.85h-12.8zM171.5 423.5h12.8v0.85h-12.8zM273.9 454.57h12.8v0.84h-12.8zM171.5 493.87h12.8v0.85h-12.8zM235.5 524.98h12.8v0.84h-12.8zM222.7 534.46h12.8v0.84h-12.8zM209.9 589h12.8v0.84h-12.8zM171.5 604.88h12.8v0.84h-12.8zM197.1 603.3h12.8v0.84h-12.8zM158.7 621.27h12.8v0.81h-12.8zM209.9 626.73h12.8v0.84h-12.8zM261.1 633.01h12.8v0.84h-12.8z"/>
<path fill="#ffe9e9" d="M197.1 368.91h12.8v0.86h-12.8zM248.3 364.88h12.8v0.86h-12.8zM158.7 418.65h12.8v0.86h-12.8zM286.7 428.3h12.8v0.85h-12.8zM286.7 439.5h12.8v0.85h-12.8zM171.5 469.86h12.8v1.64h-12.8zM261.1 528.91h12.8v0.84h-12.8zM261.1 532.08h12.8v0.84h-12.8zM286.7 551.35h12.8v0.86h-12.8zM158.7 592.18h12.8v0.84h-12.8zM209.9 589.79h12.8v0.84h-12.8zM197.1 610.39h12.8v0.84h-12.8zM158.7 627.51h12.8v0.84h-12.8z"/>
<path fill="#fff9f9" d="M197.1 371.33h12.8v0.86h-12.8zM248.3 367.3h12.8v0.86h-12.8zM158.7 416.22h12.8v0.86h-12.8zM158.7 428.3h12.8v0.85h-12.8zM158.7 433.1h12.8v0.85h-12.8zM158.7 435.5h12.8v1.65h-12.8zM158.7 439.5h12.8v0.85h-12.8zM158.7 442.7h12.8v0.85h-12.8zM158.7 445.9h12.8v0.85h-12.8zM171.5 424.3h12.8v0.85h-12.8zM222.7 425.1h12.8v0.85h-12.8zM184.3 452.21h12.8v0.84h-12.8zM235.5 448.27h12.8v0.84h-12.8zM184.3 475.41h12.8v0.84h-12.8zM209.9 495.48h12.8v0.85h-12.8zM197.1 509.1h12.8v0.85h-12.8zM261.1 520.26h12.8v0.84h-12.8zM261.1 524.98h12.8v0.84h-12.8zM261.1 527.34h12.8v0.84h-12.8zM286.7 524.19h12.8v0.84h-12.8zM286.7 525.77h12.8v0.84h-12.8zM286.7 528.13h12.8v0.84h-12.8zM197.1 541.61h12.8v0.84h-12.8zM209.9 537.64h12.8v0.84h-12.8zM235.5 535.26h12.8v0.84h-12.8zM235.5 540.81h12.8v0.84h-12.8zM197.1 545.65h12.8v1.68h-12.8zM197.1 548.1h12.8v1.68h-12.8zM197.1 554.6h12.8v1.68h-12.8zM197.1 557.86h12.8v1.68h-12.8zM222.7 553.79h12.8v0.86h-12.8zM158.7 578.11h12.8v0.83h-12.8zM158.7 582h12.8v0.83h-12.8zM222.7 578.11h12.8v0.83h-12.8zM235.5 596.94h12.8v0.84h-12.8zM209.9 608.82h12.8v0.84h-12.8zM273.9 607.24h12.8v0.84h-12.8zM273.9 609.61h12.8v1.63h-12.8zM273.9 612.76h12.8v0.84h-12.8zM273.9 615.91h12.8v0.84h-12.8zM158.7 618.99h12.8v0.81h-12.8zM158.7 620.51h12.8v0.81h-12.8zM261.1 624.37h12.8v0.84h-12.8zM261.1 627.51h12.8v0.84h-12.8zM261.1 629.09h12.8v0.84h-12.8z"/>
<path fill="#ffecec" d="M197.1 372.14h12.8v0.86h-12.8zM197.1 373.75h12.8v0.86h-12.8zM158.7 440.3h12.8v0.85h-12.8zM197.1 431.5h12.8v0.85h-12.8zM197.1 433.1h12.8v0.85h-12.8zM286.7 437.9h12.8v0.85h-12.8zM171.5 451.42h12.8v0.84h-12.8zM261.1 449.85h12.8v0.84h-12.8zM273.9 446.7h12.8v0.84h-12.8zM286.7 514.7h12.8v0.85h-12.8zM184.3 525.77h12.8v0.84h-12.8zM209.9 541.61h12.8v0.84h-12.8zM261.1 540.81h12.8v0.84h-12.8zM158.7 550.54h12.8v0.86h-12.8zM209.9 557.05h12.8v0.86h-12.8zM222.7 544.84h12.8v0.86h-12.8zM286.7 555.42h12.8v0.86h-12.8zM209.9 582.78h12.8v0.83h-12.8zM273.9 582.78h12.8v0.83h-12.8zM209.9 638.51h12.8v0.84h-12.8z"/>
<path fill="#ffe7e7" d="M197.1 379.39h12.8v0.86h-12.8zM209.9 368.1h12.8v0.86h-12.8zM248.3 365.68h12.8v0.86h-12.8zM209.9 382.6h12.8v0.85h-12.8zM209.9 387.4h12.8v0.85h-12.8zM158.7 434.7h12.8v0.85h-12.8zM273.9 453.78h12.8v0.84h-12.8zM184.3 465.89h12.8v0.84h-12.8zM184.3 471.45h12.8v0.84h-12.8zM286.7 465.1h12.8v0.84h-12.8zM158.7 487.44h12.8v1.66h-12.8zM286.7 528.91h12.8v0.84h-12.8zM197.1 553.79h12.8v0.86h-12.8zM261.1 577.33h12.8v0.83h-12.8z"/>
<path fill="#ffa9a9" d="M209.9 355.2h12.8v0.86h-12.8zM261.1 472.24h12.8v0.84h-12.8zM158.7 496.28h12.8v0.85h-12.8z"/>
<path fill="#ffbaba" d="M209.9 356.01h12.8v0.86h-12.8zM261.1 361.65h12.8v0.86h-12.8zM286.7 396.95h12.8v0.85h-12.8zM273.9 439.5h12.8v0.85h-12.8zM235.5 455.35h12.8v0.84h-12.8zM261.1 469.86h12.8v0.84h-12.8zM171.5 524.98h12.8v0.84h-12.8zM222.7 603.3h12.8v0.84h-12.8zM261.1 635.37h12.8v0.84h-12.8z"/>
<path fill="#ffaaaa" d="M209.9 358.43h12.8v0.86h-12.8zM171.5 517.9h12.8v0.84h-12.8zM197.1 519.47h12.8v0.84h-12.8zM209.9 571.15h12.8v0.82h-12.8z"/>
<path fill="#ff8282" d="M209.9 359.23h12.8v0.86h-12.8zM209.9 449.85h12.8v0.84h-12.8z"/>
<path fill="#ffc6c6" d="M209.9 360.04h12.8v0.86h-12.8zM235.5 385h12.8v0.85h-12.8zM158.7 429.1h12.8v0.85h-12.8zM222.7 608.03h12.8v0.84h-12.8z"/>
<path fill="#ff5b5b" d="M209.9 360.85h12.8v0.86h-12.8z"/>
<path fill="#ff6e6e" d="M209.9 361.65h12.8v0.86h-12.8z"/>
<path fill="#ffb1b1" d="M209.9 362.46h12.8v0.86h-12.8zM209.9 364.07h12.8v0.86h-12.8zM158.7 450.63h12.8v0.84h-12.8zM222.7 469.07h12.8v0.84h-12.8zM261.1 466.69h12.8v0.84h-12.8zM184.3 526.55h12.8v0.84h-12.8zM209.9 574.23h12.8v0.82h-12.8z"/>
<path fill="#fff0f0" d="M209.9 363.26h12.8v0.86h-12.8zM209.9 364.88h12.8v0.86h-12.8zM209.9 372.14h12.8v1.66h-12.8zM158.7 387.4h12.8v0.85h-12.8zM171.5 381.8h12.8v1.65h-12.8zM171.5 386.6h12.8v2.45h-12.8zM158.7 396.95h12.8v0.85h-12.8zM158.7 441.9h12.8v0.85h-12.8zM171.5 422.7h12.8v0.85h-12.8zM184.3 452.99h12.8v0.84h-12.8zM235.5 452.21h12.8v0.84h-12.8zM248.3 451.42h12.8v1.62h-12.8zM184.3 465.1h12.8v0.84h-12.8zM261.1 465.89h12.8v0.84h-12.8zM261.1 470.65h12.8v0.84h-12.8zM171.5 498.69h12.8v0.85h-12.8zM197.1 550.54h12.8v0.86h-12.8zM248.3 558.67h12.8v0.86h-12.8zM158.7 604.88h12.8v0.84h-12.8zM158.7 609.61h12.8v0.84h-12.8zM158.7 615.91h12.8v0.84h-12.8zM184.3 609.61h12.8v0.84h-12.8zM222.7 631.44h12.8v0.84h-12.8zM222.7 635.37h12.8v0.84h-12.8z"/>
<path fill="#ff7c7c" d="M209.9 365.68h12.8v0.86h-12.8zM273.9 441.9h12.8v0.85h-12.8z"/>
<path fill="#ffd5d5" d="M209.9 366.49h12.8v0.86h-12.8zM222.7 383.4h12.8v0.85h-12.8zM235.5 380.2h12.8v0.85h-12.8zM184.3 456.14h12.8v0.84h-12.8zM209.9 497.08h12.8v0.85h-12.8zM235.5 497.89h12.8v0.85h-12.8zM286.7 511.5h12.8v0.85h-12.8zM261.1 524.19h12.8v0.84h-12.8zM261.1 576.56h12.8v0.83h-12.8zM261.1 591.38h12.8v0.84h-12.8zM273.9 600.92h12.8v0.84h-12.8zM273.9 613.55h12.8v0.84h-12.8z"/>
<path fill="#ffa2a2" d="M209.9 367.3h12.8v0.86h-12.8zM209.9 385h12.8v0.85h-12.8z"/>
<path fill="#ffeaea" d="M209.9 369.72h12.8v0.86h-12.8zM158.7 384.2h12.8v0.85h-12.8zM158.7 392.98h12.8v0.85h-12.8zM197.1 428.3h12.8v0.85h-12.8zM261.1 428.3h12.8v0.85h-12.8zM171.5 453.78h12.8v0.84h-12.8zM171.5 519.47h12.8v0.84h-12.8zM171.5 522.62h12.8v0.84h-12.8zM171.5 525.77h12.8v0.84h-12.8zM171.5 528.13h12.8v1.62h-12.8zM222.7 528.91h12.8v0.84h-12.8zM197.1 552.16h12.8v0.86h-12.8zM209.9 600.92h12.8v0.84h-12.8zM209.9 618.23h12.8v0.81h-12.8zM209.9 621.27h12.8v0.81h-12.8zM261.1 623.59h12.8v0.84h-12.8zM261.1 629.87h12.8v0.84h-12.8z"/>
<path fill="#ff8a8a" d="M209.9 370.52h12.8v0.86h-12.8zM273.9 438.7h12.8v0.85h-12.8z"/>
<path fill="#ff6a6a" d="M209.9 371.33h12.8v0.86h-12.8zM261.1 468.27h12.8v0.84h-12.8zM261.1 475.41h12.8v0.84h-12.8z"/>
<path fill="#ffbbbb" d="M209.9 374.55h12.8v0.86h-12.8zM261.1 364.88h12.8v0.86h-12.8zM261.1 372.94h12.8v0.86h-12.8zM286.7 399.34h12.8v0.85h-12.8zM273.9 456.14h12.8v0.84h-12.8zM158.7 618.23h12.8v0.81h-12.8z"/>
<path fill="#ff2e2e" d="M209.9 377.78h12.8v0.86h-12.8zM197.1 441.9h12.8v0.85h-12.8z"/>
<path fill="#ff2d2d" d="M209.9 378.59h12.8v0.86h-12.8zM158.7 616.7h12.8v0.81h-12.8zM171.5 618.99h12.8v0.81h-12.8zM197.1 617.46h12.8v0.81h-12.8z"/>
<path fill="#ffaeae" d="M209.9 379.39h12.8v0.86h-12.8zM261.1 367.3h12.8v0.86h-12.8zM273.9 471.45h12.8v0.84h-12.8zM158.7 556.23h12.8v0.86h-12.8z"/>
<path fill="#cdcdff" d="M235.5 355.2h12.8v0.86h-12.8zM184.3 511.5h12.8v0.85h-12.8zM171.5 535.26h12.8v0.84h-12.8zM286.7 631.44h12.8v0.84h-12.8z"/>
<path fill="#f4f4ff" d="M235.5 356.81h12.8v0.86h-12.8zM235.5 375.36h12.8v0.86h-12.8zM171.5 391.39h12.8v0.85h-12.8zM171.5 396.16h12.8v0.85h-12.8zM171.5 398.54h12.8v1.64h-12.8zM171.5 402.52h12.8v0.85h-12.8zM286.7 390.59h12.8v0.85h-12.8zM184.3 417.84h12.8v0.86h-12.8zM248.3 412.99h12.8v0.86h-12.8zM235.5 432.3h12.8v0.85h-12.8zM197.1 465.1h12.8v0.84h-12.8zM197.1 469.86h12.8v0.84h-12.8zM197.1 473.03h12.8v0.84h-12.8zM235.5 549.72h12.8v0.86h-12.8zM286.7 582.78h12.8v0.83h-12.8zM286.7 584.33h12.8v0.83h-12.8zM286.7 586.67h12.8v0.83h-12.8zM158.7 635.37h12.8v0.84h-12.8zM286.7 634.59h12.8v0.84h-12.8z"/>
<path fill="#9292ff" d="M235.5 357.62h12.8v0.86h-12.8zM171.5 392.18h12.8v0.85h-12.8zM171.5 513.1h12.8v0.85h-12.8z"/>
<path fill="#e6e6ff" d="M235.5 360.85h12.8v0.86h-12.8zM235.5 373.75h12.8v0.86h-12.8zM261.1 412.18h12.8v0.86h-12.8zM261.1 414.6h12.8v0.86h-12.8zM273.9 418.65h12.8v0.86h-12.8zM235.5 442.7h12.8v0.85h-12.8zM235.5 445.9h12.8v0.85h-12.8zM222.7 459.32h12.8v0.88h-12.8zM222.7 460.98h12.8v0.88h-12.8zM222.7 463.45h12.8v0.88h-12.8zM273.9 500.3h12.8v0.85h-12.8zM286.7 517.9h12.8v0.84h-12.8zM286.7 519.47h12.8v0.84h-12.8zM171.5 553.79h12.8v0.86h-12.8zM286.7 633.01h12.8v0.84h-12.8z"/>
<path fill="#dedeff" d="M235.5 361.65h12.8v0.86h-12.8zM273.9 386.6h12.8v0.85h-12.8zM171.5 401.72h12.8v0.85h-12.8zM235.5 421.89h12.8v0.86h-12.8zM261.1 505.9h12.8v0.85h-12.8zM171.5 539.23h12.8v0.84h-12.8zM222.7 536.05h12.8v0.84h-12.8z"/>
<path fill="#5b5bff" d="M235.5 364.07h12.8v0.86h-12.8z"/>
<path fill="#3d3dff" d="M235.5 364.88h12.8v0.86h-12.8z"/>
<path fill="#f6f6ff" d="M235.5 365.68h12.8v0.86h-12.8zM235.5 407.32h12.8v0.86h-12.8zM273.9 412.18h12.8v0.86h-12.8zM235.5 431.5h12.8v0.85h-12.8zM235.5 439.5h12.8v0.85h-12.8zM261.1 442.7h12.8v0.85h-12.8zM273.9 557.05h12.8v0.86h-12.8zM171.5 587.44h12.8v0.83h-12.8zM261.1 575h12.8v0.83h-12.8zM171.5 601.71h12.8v0.84h-12.8zM209.9 613.55h12.8v0.84h-12.8zM158.7 625.16h12.8v0.84h-12.8z"/>
<path fill="#cfcfff" d="M235.5 369.72h12.8v0.86h-12.8zM171.5 404.9h12.8v0.85h-12.8zM197.1 473.83h12.8v0.84h-12.8zM261.1 505.1h12.8v0.85h-12.8zM261.1 508.3h12.8v0.85h-12.8zM273.9 551.35h12.8v0.86h-12.8zM286.7 594.56h12.8v0.84h-12.8zM286.7 635.37h12.8v0.84h-12.8z"/>
<path fill="#f7f7ff" d="M235.5 370.52h12.8v0.86h-12.8zM273.9 380.2h12.8v0.85h-12.8zM273.9 385.8h12.8v0.85h-12.8zM286.7 380.2h12.8v0.85h-12.8zM286.7 386.6h12.8v0.85h-12.8zM184.3 390.59h12.8v0.85h-12.8zM184.3 397.75h12.8v0.85h-12.8zM184.3 399.34h12.8v0.85h-12.8zM184.3 402.52h12.8v0.85h-12.8zM273.9 392.98h12.8v0.85h-12.8zM235.5 406.51h12.8v0.86h-12.8zM235.5 420.27h12.8v0.86h-12.8zM273.9 408.13h12.8v2.48h-12.8zM248.3 462.62h12.8v0.88h-12.8zM273.9 497.08h12.8v0.85h-12.8zM158.7 505.1h12.8v0.85h-12.8zM158.7 510.7h12.8v1.65h-12.8zM158.7 515.5h12.8v0.85h-12.8zM261.1 502.7h12.8v0.85h-12.8zM261.1 513.1h12.8v0.85h-12.8zM261.1 517.1h12.8v0.85h-12.8zM273.9 503.5h12.8v0.85h-12.8zM273.9 507.5h12.8v0.85h-12.8zM273.9 511.5h12.8v0.85h-12.8zM273.9 513.1h12.8v0.85h-12.8zM273.9 515.5h12.8v2.45h-12.8zM171.5 545.65h12.8v3.3h-12.8zM171.5 552.98h12.8v0.86h-12.8zM171.5 557.86h12.8v0.86h-12.8zM197.1 632.23h12.8v1.62h-12.8zM248.3 633.8h12.8v0.84h-12.8z"/>
<path fill="#ececff" d="M235.5 372.14h12.8v0.86h-12.8zM273.9 547.28h12.8v0.86h-12.8zM171.5 596.94h12.8v0.84h-12.8z"/>
<path fill="#f0f0ff" d="M235.5 374.55h12.8v0.86h-12.8zM209.9 390.59h12.8v0.85h-12.8zM222.7 403.31h12.8v0.85h-12.8zM197.1 409.75h12.8v0.86h-12.8zM273.9 414.6h12.8v0.86h-12.8zM261.1 444.3h12.8v0.85h-12.8zM158.7 467.48h12.8v0.84h-12.8zM184.3 533.67h12.8v0.84h-12.8zM184.3 536.84h12.8v0.84h-12.8zM184.3 540.02h12.8v0.84h-12.8zM158.7 604.09h12.8v0.84h-12.8zM158.7 608.03h12.8v0.84h-12.8zM158.7 611.18h12.8v0.84h-12.8zM158.7 614.34h12.8v0.84h-12.8zM158.7 625.94h12.8v0.84h-12.8zM222.7 622.8h12.8v0.84h-12.8zM222.7 630.66h12.8v0.84h-12.8zM222.7 633.8h12.8v1.62h-12.8zM222.7 638.51h12.8v0.84h-12.8zM286.7 637.73h12.8v0.84h-12.8z"/>
<path fill="#cba6ec" d="M248.3 358.43h12.8v0.86h-12.8zM286.7 560.3h12.8v0.83h-12.8z"/>
<path fill="#bfbfff" d="M248.3 359.23h12.8v0.86h-12.8zM197.1 387.4h12.8v0.85h-12.8zM209.9 389.8h12.8v0.85h-12.8zM184.3 413.8h12.8v0.86h-12.8zM235.5 559.49h12.8v0.86h-12.8zM273.9 561.08h12.8v0.83h-12.8zM171.5 570.38h12.8v0.82h-12.8zM286.7 571.15h12.8v0.82h-12.8zM184.3 577.33h12.8v0.83h-12.8z"/>
<path fill="#ffeded" d="M248.3 370.52h12.8v0.86h-12.8zM235.5 381h12.8v0.85h-12.8zM286.7 397.75h12.8v0.85h-12.8zM158.7 412.99h12.8v0.86h-12.8zM261.1 425.1h12.8v0.85h-12.8zM171.5 446.7h12.8v0.84h-12.8zM235.5 449.06h12.8v0.84h-12.8zM184.3 476.21h12.8v0.84h-12.8zM235.5 497.08h12.8v0.85h-12.8zM235.5 524.19h12.8v0.84h-12.8zM248.3 530.49h12.8v0.84h-12.8zM248.3 540.81h12.8v0.84h-12.8zM286.7 557.86h12.8v0.86h-12.8zM248.3 571.15h12.8v0.82h-12.8zM248.3 574.23h12.8v0.82h-12.8zM158.7 594.56h12.8v0.84h-12.8zM158.7 602.51h12.8v0.84h-12.8zM209.9 600.12h12.8v0.84h-12.8zM273.9 596.15h12.8v0.84h-12.8zM273.9 605.66h12.8v0.84h-12.8zM273.9 608.82h12.8v0.84h-12.8z"/>
<path fill="#b37be3" d="M248.3 373.75h12.8v0.86h-12.8z"/>
<path fill="#d5b7f0" d="M248.3 374.55h12.8v0.86h-12.8zM273.9 564.19h12.8v0.83h-12.8z"/>
<path fill="#ffa3a3" d="M261.1 355.2h12.8v0.86h-12.8zM248.3 447.49h12.8v0.84h-12.8zM273.9 451.42h12.8v0.84h-12.8zM209.9 573.46h12.8v0.82h-12.8z"/>
<path fill="#ffc1c1" d="M261.1 356.01h12.8v0.86h-12.8zM261.1 363.26h12.8v0.86h-12.8zM158.7 432.3h12.8v0.85h-12.8zM209.9 457.71h12.8v0.84h-12.8zM235.5 446.7h12.8v0.84h-12.8zM158.7 493.87h12.8v0.85h-12.8zM171.5 523.41h12.8v0.84h-12.8zM197.1 552.98h12.8v0.86h-12.8zM273.9 579.67h12.8v0.83h-12.8z"/>
<path fill="#ff3232" d="M261.1 357.62h12.8v0.86h-12.8zM171.5 444.3h12.8v0.85h-12.8z"/>
<path fill="#ff3333" d="M261.1 358.43h12.8v0.86h-12.8z"/>
<path fill="#ffb7b7" d="M261.1 360.04h12.8v0.86h-12.8zM286.7 407.32h12.8v0.86h-12.8z"/>
<path fill="#ffe2e2" d="M261.1 362.46h12.8v0.86h-12.8zM261.1 370.52h12.8v0.86h-12.8zM261.1 405.7h12.8v0.86h-12.8zM261.1 419.46h12.8v0.86h-12.8zM286.7 429.1h12.8v0.85h-12.8zM209.9 499.49h12.8v0.85h-12.8zM235.5 499.49h12.8v0.85h-12.8zM222.7 571.92h12.8v0.82h-12.8z"/>
<path fill="#ff9090" d="M261.1 364.07h12.8v0.86h-12.8zM273.9 524.19h12.8v0.84h-12.8zM222.7 618.23h12.8v0.81h-12.8z"/>
<path fill="#fff5f5" d="M261.1 365.68h12.8v0.86h-12.8zM209.9 384.2h12.8v0.85h-12.8zM209.9 386.6h12.8v0.85h-12.8zM222.7 429.9h12.8v0.85h-12.8zM222.7 437.1h12.8v0.85h-12.8zM222.7 440.3h12.8v0.85h-12.8zM222.7 465.1h12.8v0.84h-12.8zM222.7 466.69h12.8v1.64h-12.8zM222.7 470.65h12.8v1.64h-12.8zM222.7 474.62h12.8v0.84h-12.8zM273.9 518.69h12.8v0.84h-12.8zM273.9 523.41h12.8v0.84h-12.8zM273.9 526.55h12.8v0.84h-12.8zM273.9 528.13h12.8v1.62h-12.8zM248.3 532.08h12.8v0.84h-12.8zM235.5 578.89h12.8v0.83h-12.8zM184.3 592.97h12.8v0.84h-12.8zM184.3 612.76h12.8v0.84h-12.8zM209.9 604.09h12.8v0.84h-12.8zM261.1 618.99h12.8v0.81h-12.8zM261.1 621.27h12.8v0.81h-12.8zM158.7 634.59h12.8v0.84h-12.8z"/>
<path fill="#ff9b9b" d="M261.1 366.49h12.8v0.86h-12.8zM222.7 469.86h12.8v0.84h-12.8zM184.3 528.91h12.8v0.84h-12.8z"/>
<path fill="#ffcece" d="M261.1 368.1h12.8v0.86h-12.8zM209.9 434.7h12.8v0.85h-12.8z"/>
<path fill="#ff7a7a" d="M261.1 368.91h12.8v0.86h-12.8z"/>
<path fill="#ffd8d8" d="M261.1 373.75h12.8v0.86h-12.8zM197.1 390.59h12.8v0.85h-12.8zM184.3 456.93h12.8v0.84h-12.8zM209.9 456.14h12.8v0.84h-12.8zM184.3 495.48h12.8v0.85h-12.8zM286.7 517.1h12.8v0.85h-12.8zM273.9 527.34h12.8v0.84h-12.8zM248.3 541.61h12.8v0.84h-12.8zM261.1 541.61h12.8v0.84h-12.8zM197.1 543.21h12.8v0.86h-12.8zM273.9 584.33h12.8v0.83h-12.8zM273.9 604.88h12.8v0.84h-12.8z"/>
<path fill="#ffd6d6" d="M261.1 374.55h12.8v0.86h-12.8zM209.9 385.8h12.8v0.85h-12.8zM222.7 388.2h12.8v0.85h-12.8zM197.1 427.5h12.8v0.85h-12.8zM197.1 429.1h12.8v0.85h-12.8zM209.9 437.1h12.8v0.85h-12.8zM286.7 446.7h12.8v0.84h-12.8zM209.9 471.45h12.8v0.84h-12.8zM286.7 527.34h12.8v0.84h-12.8zM209.9 597.74h12.8v0.84h-12.8zM286.7 616.7h12.8v0.81h-12.8zM209.9 633.01h12.8v0.84h-12.8zM261.1 637.73h12.8v0.84h-12.8z"/>
<path fill="#ffc7c7" d="M261.1 375.36h12.8v0.86h-12.8zM158.7 389.8h12.8v0.85h-12.8zM209.9 447.49h12.8v1.62h-12.8zM273.9 457.71h12.8v0.84h-12.8zM222.7 520.26h12.8v0.84h-12.8zM197.1 540.02h12.8v0.84h-12.8zM248.3 573.46h12.8v0.82h-12.8zM209.9 623.59h12.8v0.84h-12.8zM261.1 634.59h12.8v0.84h-12.8z"/>
<path fill="#ffb2b2" d="M261.1 376.97h12.8v0.86h-12.8zM197.1 396.95h12.8v0.85h-12.8zM209.9 567.3h12.8v0.82h-12.8z"/>
<path fill="#ffb5b5" d="M261.1 377.78h12.8v0.86h-12.8zM158.7 425.9h12.8v0.85h-12.8zM273.9 440.3h12.8v0.85h-12.8zM273.9 448.27h12.8v0.84h-12.8zM209.9 570.38h12.8v0.82h-12.8z"/>
<path fill="#ffbcbc" d="M273.9 360.04h12.8v0.86h-12.8zM209.9 381h12.8v0.85h-12.8zM286.7 421.89h12.8v0.86h-12.8zM158.7 438.7h12.8v0.85h-12.8zM158.7 495.48h12.8v0.85h-12.8zM209.9 527.34h12.8v0.84h-12.8zM197.1 549.72h12.8v0.86h-12.8zM286.7 556.23h12.8v0.86h-12.8zM222.7 609.61h12.8v0.84h-12.8zM273.9 611.18h12.8v0.84h-12.8z"/>
<path fill="#ffcdcd" d="M158.7 380.2h12.8v1.65h-12.8zM197.1 385.8h12.8v0.85h-12.8zM158.7 396.16h12.8v0.85h-12.8zM158.7 429.9h12.8v0.85h-12.8zM286.7 444.3h12.8v0.85h-12.8zM209.9 446.7h12.8v0.84h-12.8zM261.1 454.57h12.8v0.84h-12.8zM171.5 467.48h12.8v0.84h-12.8zM171.5 475.41h12.8v0.84h-12.8zM209.9 465.1h12.8v0.84h-12.8zM209.9 500.3h12.8v0.85h-12.8zM209.9 524.19h12.8v0.84h-12.8zM222.7 519.47h12.8v0.84h-12.8zM273.9 544.03h12.8v0.86h-12.8zM235.5 568.07h12.8v0.82h-12.8zM273.9 614.34h12.8v0.84h-12.8zM261.1 636.16h12.8v0.84h-12.8z"/>
<path fill="#ffcbcb" d="M158.7 382.6h12.8v0.85h-12.8zM171.5 380.2h12.8v0.85h-12.8zM209.9 456.93h12.8v0.84h-12.8zM235.5 450.63h12.8v0.84h-12.8zM235.5 454.57h12.8v0.84h-12.8zM222.7 528.13h12.8v0.84h-12.8zM261.1 522.62h12.8v0.84h-12.8zM286.7 530.49h12.8v0.84h-12.8zM222.7 614.34h12.8v0.84h-12.8z"/>
<path fill="#ffcccc" d="M158.7 385h12.8v0.85h-12.8zM171.5 384.2h12.8v0.85h-12.8zM197.1 404.11h12.8v0.85h-12.8zM273.9 403.31h12.8v0.85h-12.8zM197.1 429.9h12.8v0.85h-12.8zM184.3 454.57h12.8v0.84h-12.8zM209.9 455.35h12.8v0.84h-12.8zM248.3 455.35h12.8v0.84h-12.8zM171.5 473.83h12.8v0.84h-12.8zM286.7 532.88h12.8v0.84h-12.8zM286.7 561.86h12.8v0.83h-12.8zM286.7 564.97h12.8v1.61h-12.8zM273.9 576.56h12.8v0.83h-12.8zM273.9 578.89h12.8v0.83h-12.8zM273.9 606.45h12.8v0.84h-12.8zM235.5 626.73h12.8v0.84h-12.8z"/>
<path fill="#fffafa" d="M158.7 385.8h12.8v0.85h-12.8zM197.1 423.5h12.8v2.45h-12.8zM222.7 422.7h12.8v0.85h-12.8zM222.7 436.3h12.8v0.85h-12.8zM248.3 436.3h12.8v0.85h-12.8zM171.5 471.45h12.8v0.84h-12.8zM171.5 474.62h12.8v0.84h-12.8zM286.7 469.07h12.8v0.84h-12.8zM222.7 521.05h12.8v0.84h-12.8zM222.7 522.62h12.8v0.84h-12.8zM222.7 524.19h12.8v0.84h-12.8zM222.7 527.34h12.8v0.84h-12.8zM248.3 524.98h12.8v0.84h-12.8zM235.5 529.7h12.8v0.84h-12.8zM261.1 533.67h12.8v0.84h-12.8zM261.1 537.64h12.8v1.64h-12.8zM286.7 529.7h12.8v0.84h-12.8zM286.7 531.29h12.8v0.84h-12.8zM286.7 534.46h12.8v0.84h-12.8zM286.7 536.84h12.8v0.84h-12.8zM286.7 539.23h12.8v1.64h-12.8zM286.7 541.61h12.8v0.84h-12.8zM158.7 578.89h12.8v0.83h-12.8zM158.7 581.22h12.8v0.83h-12.8zM235.5 586.67h12.8v1.61h-12.8zM184.3 597.74h12.8v0.84h-12.8zM235.5 608.03h12.8v0.84h-12.8zM209.9 622.8h12.8v0.84h-12.8zM209.9 628.3h12.8v1.62h-12.8zM209.9 630.66h12.8v1.62h-12.8zM209.9 633.8h12.8v1.62h-12.8zM209.9 636.16h12.8v1.62h-12.8zM235.5 628.3h12.8v0.84h-12.8z"/>
<path fill="#ffd3d3" d="M158.7 386.6h12.8v0.85h-12.8zM197.1 393.77h12.8v0.85h-12.8zM248.3 446.7h12.8v0.84h-12.8zM171.5 466.69h12.8v0.84h-12.8zM273.9 521.05h12.8v0.84h-12.8zM261.1 536.05h12.8v0.84h-12.8zM286.7 536.05h12.8v0.84h-12.8zM286.7 549.72h12.8v0.86h-12.8zM222.7 611.18h12.8v0.84h-12.8zM273.9 611.97h12.8v0.84h-12.8zM209.9 635.37h12.8v0.84h-12.8z"/>
<path fill="#ff7979" d="M171.5 381h12.8v0.85h-12.8zM171.5 385.8h12.8v0.85h-12.8z"/>
<path fill="#ff5959" d="M171.5 383.4h12.8v0.85h-12.8zM197.1 430.7h12.8v0.85h-12.8z"/>
<path fill="#ff6f6f" d="M171.5 385h12.8v0.85h-12.8zM261.1 493.87h12.8v0.85h-12.8zM209.9 620.51h12.8v0.81h-12.8z"/>
<path fill="#ff0000" d="M184.3 380.2h12.8v8.85h-12.8zM273.9 422.7h12.8v9.65h-12.8zM273.9 434.7h12.8v4.05h-12.8zM222.7 446.7h12.8v11.85h-12.8zM286.7 477h12.8v24.15h-12.8zM158.7 517.9h12.8v11.85h-12.8zM171.5 526.55h12.8v0.84h-12.8zM171.5 616.7h12.8v1.57h-12.8zM235.5 616.7h12.8v6.15h-12.8zM248.3 616.7h12.8v6.15h-12.8z"/>
<path fill="#dfc7f3" d="M197.1 386.6h12.8v0.85h-12.8zM197.1 497.89h12.8v0.85h-12.8z"/>
<path fill="#ffa0a0" d="M209.9 380.2h12.8v0.85h-12.8z"/>
<path fill="#ffc0c0" d="M209.9 381.8h12.8v0.85h-12.8zM286.7 559.49h12.8v0.86h-12.8z"/>
<path fill="#ff9898" d="M209.9 383.4h12.8v0.85h-12.8z"/>
<path fill="#ffd7d7" d="M222.7 385h12.8v0.85h-12.8zM273.9 400.13h12.8v0.85h-12.8zM235.5 452.99h12.8v1.62h-12.8zM222.7 523.41h12.8v0.84h-12.8zM209.9 536.05h12.8v0.84h-12.8zM248.3 540.02h12.8v0.84h-12.8zM197.1 542.4h12.8v0.86h-12.8zM273.9 556.23h12.8v0.86h-12.8zM261.1 595.36h12.8v0.84h-12.8z"/>
<path fill="#ffd4d4" d="M222.7 385.8h12.8v0.85h-12.8zM158.7 424.3h12.8v0.85h-12.8zM158.7 430.7h12.8v0.85h-12.8zM273.9 455.35h12.8v0.84h-12.8zM209.9 497.89h12.8v0.85h-12.8zM286.7 526.55h12.8v0.84h-12.8zM209.9 545.65h12.8v0.86h-12.8zM261.1 625.16h12.8v0.84h-12.8z"/>
<path fill="#ffc3c3" d="M235.5 386.6h12.8v0.85h-12.8zM273.9 443.5h12.8v0.85h-12.8zM197.1 449.85h12.8v0.84h-12.8zM197.1 521.83h12.8v0.84h-12.8zM273.9 575h12.8v0.83h-12.8zM273.9 580.44h12.8v0.83h-12.8zM209.9 619.75h12.8v0.81h-12.8z"/>
<path fill="#ffcaca" d="M235.5 388.2h12.8v0.85h-12.8zM197.1 392.18h12.8v0.85h-12.8zM197.1 404.9h12.8v0.85h-12.8zM171.5 465.1h12.8v0.84h-12.8zM197.1 540.81h12.8v0.84h-12.8zM222.7 608.82h12.8v0.84h-12.8zM261.1 622.8h12.8v0.84h-12.8z"/>
<path fill="#f3f3ff" d="M261.1 383.4h12.8v0.85h-12.8zM235.5 430.7h12.8v0.85h-12.8zM235.5 445.1h12.8v0.85h-12.8zM158.7 470.65h12.8v0.84h-12.8zM158.7 473.83h12.8v0.84h-12.8zM171.5 579.67h12.8v0.83h-12.8zM171.5 592.18h12.8v0.84h-12.8zM248.3 593.77h12.8v0.84h-12.8zM197.1 615.12h12.8v0.84h-12.8z"/>
<path fill="#9f9fff" d="M273.9 381h12.8v0.85h-12.8zM248.3 594.56h12.8v0.84h-12.8z"/>
<path fill="#c1c1ff" d="M273.9 381.8h12.8v0.85h-12.8zM222.7 389.8h12.8v0.85h-12.8zM197.1 413.8h12.8v0.86h-12.8zM197.1 467.48h12.8v0.84h-12.8zM184.3 554.6h12.8v0.86h-12.8zM171.5 625.94h12.8v0.84h-12.8z"/>
<path fill="#bcbcff" d="M273.9 382.6h12.8v0.85h-12.8zM286.7 383.4h12.8v0.85h-12.8zM273.9 404.9h12.8v0.85h-12.8zM171.5 407.32h12.8v0.86h-12.8zM171.5 421.89h12.8v0.86h-12.8zM197.1 451.42h12.8v0.84h-12.8zM273.9 460.98h12.8v0.88h-12.8zM197.1 474.62h12.8v0.84h-12.8z"/>
<path fill="#e5e5ff" d="M273.9 384.2h12.8v0.85h-12.8zM209.9 400.13h12.8v0.85h-12.8zM273.9 396.95h12.8v0.85h-12.8zM158.7 454.57h12.8v0.84h-12.8zM158.7 501.1h12.8v0.85h-12.8zM171.5 534.46h12.8v0.84h-12.8zM171.5 559.49h12.8v0.86h-12.8zM222.7 556.23h12.8v0.86h-12.8zM235.5 552.16h12.8v0.86h-12.8zM171.5 582.78h12.8v0.83h-12.8zM158.7 633.01h12.8v0.84h-12.8z"/>
<path fill="#ababff" d="M273.9 385h12.8v0.85h-12.8zM171.5 403.31h12.8v0.85h-12.8z"/>
<path fill="#b9b9ff" d="M286.7 381.8h12.8v0.85h-12.8zM222.7 395.36h12.8v0.85h-12.8zM158.7 516.3h12.8v0.85h-12.8zM171.5 513.9h12.8v0.85h-12.8z"/>
<path fill="#afafff" d="M286.7 384.2h12.8v0.85h-12.8zM248.3 591.38h12.8v0.84h-12.8zM286.7 592.18h12.8v0.84h-12.8zM197.1 633.8h12.8v0.84h-12.8z"/>
<path fill="#acacff" d="M286.7 388.2h12.8v0.85h-12.8zM273.9 506.7h12.8v0.85h-12.8zM184.3 541.61h12.8v0.84h-12.8z"/>
<path fill="#ffdfdf" d="M158.7 397.75h12.8v0.85h-12.8zM158.7 402.52h12.8v0.85h-12.8zM209.9 431.5h12.8v0.85h-12.8zM286.7 438.7h12.8v0.85h-12.8zM235.5 527.34h12.8v0.84h-12.8zM273.9 521.83h12.8v0.84h-12.8zM286.7 533.67h12.8v0.84h-12.8zM197.1 609.61h12.8v0.84h-12.8zM197.1 611.18h12.8v0.84h-12.8zM222.7 604.88h12.8v0.84h-12.8zM197.1 619.75h12.8v0.81h-12.8zM197.1 621.27h12.8v0.81h-12.8z"/>
<path fill="#adadff" d="M171.5 389h12.8v0.85h-12.8zM261.1 400.13h12.8v0.85h-12.8zM158.7 451.42h12.8v0.84h-12.8zM286.7 583.56h12.8v0.83h-12.8z"/>
<path fill="#8080ff" d="M171.5 389.8h12.8v0.85h-12.8zM286.7 461.8h12.8v0.88h-12.8z"/>
<path fill="#ccccff" d="M171.5 390.59h12.8v0.85h-12.8zM209.9 399.34h12.8v0.85h-12.8zM197.1 421.89h12.8v0.86h-12.8zM273.9 410.56h12.8v0.86h-12.8zM158.7 448.27h12.8v0.84h-12.8zM184.3 558.67h12.8v0.86h-12.8zM286.7 562.63h12.8v0.83h-12.8zM184.3 568.07h12.8v0.82h-12.8z"/>
<path fill="#c0c0ff" d="M171.5 392.98h12.8v0.85h-12.8zM261.1 404.11h12.8v0.85h-12.8zM184.3 540.81h12.8v0.84h-12.8z"/>
<path fill="#9d9dff" d="M171.5 393.77h12.8v0.85h-12.8zM273.9 499.49h12.8v0.85h-12.8z"/>
<path fill="#a7a7ff" d="M171.5 394.57h12.8v0.85h-12.8zM184.3 396.16h12.8v0.85h-12.8zM261.1 392.98h12.8v0.85h-12.8zM235.5 421.08h12.8v0.86h-12.8zM273.9 460.15h12.8v0.88h-12.8zM273.9 462.62h12.8v0.88h-12.8zM273.9 493.87h12.8v0.85h-12.8z"/>
<path fill="#9595ff" d="M171.5 395.36h12.8v0.85h-12.8zM209.9 563.41h12.8v0.83h-12.8zM222.7 564.19h12.8v0.83h-12.8z"/>
<path fill="#7d7dff" d="M171.5 396.95h12.8v0.85h-12.8zM273.9 463.45h12.8v0.88h-12.8z"/>
<path fill="#8888ff" d="M171.5 397.75h12.8v0.85h-12.8zM273.9 567.3h12.8v0.82h-12.8zM273.9 569.61h12.8v0.82h-12.8zM286.7 585.11h12.8v0.83h-12.8z"/>
<path fill="#dbdbff" d="M171.5 400.93h12.8v0.85h-12.8zM209.9 401.72h12.8v0.85h-12.8zM286.7 567.3h12.8v0.82h-12.8zM286.7 573.46h12.8v0.82h-12.8zM248.3 589.79h12.8v0.84h-12.8zM261.1 592.18h12.8v0.84h-12.8zM197.1 613.55h12.8v0.84h-12.8z"/>
<path fill="#d9d9ff" d="M184.3 392.98h12.8v0.85h-12.8zM222.7 393.77h12.8v0.85h-12.8zM248.3 421.89h12.8v0.86h-12.8zM273.9 411.37h12.8v0.86h-12.8zM197.1 465.89h12.8v0.84h-12.8zM171.5 558.67h12.8v0.86h-12.8zM235.5 548.1h12.8v0.86h-12.8zM184.3 572.69h12.8v0.82h-12.8zM261.1 572.69h12.8v0.82h-12.8zM261.1 587.44h12.8v0.83h-12.8zM286.7 589.79h12.8v0.84h-12.8z"/>
<path fill="#d1d1ff" d="M184.3 393.77h12.8v0.85h-12.8zM184.3 396.95h12.8v0.85h-12.8zM171.5 410.56h12.8v0.86h-12.8zM248.3 589h12.8v0.84h-12.8zM273.9 616.7h12.8v0.81h-12.8zM286.7 636.94h12.8v0.84h-12.8z"/>
<path fill="#a1a1ff" d="M184.3 394.57h12.8v0.85h-12.8zM286.7 585.89h12.8v0.83h-12.8z"/>
<path fill="#c3c3ff" d="M184.3 395.36h12.8v0.85h-12.8zM209.9 392.98h12.8v0.85h-12.8zM235.5 464.28h12.8v0.88h-12.8zM235.5 551.35h12.8v0.86h-12.8zM184.3 582h12.8v0.83h-12.8z"/>
<path fill="#ffdcdc" d="M197.1 394.57h12.8v0.85h-12.8zM286.7 393.77h12.8v0.85h-12.8zM261.1 432.3h12.8v0.85h-12.8zM286.7 430.7h12.8v0.85h-12.8zM235.5 449.85h12.8v0.84h-12.8zM184.3 497.08h12.8v0.85h-12.8zM261.1 523.41h12.8v0.84h-12.8zM261.1 525.77h12.8v0.84h-12.8zM261.1 528.13h12.8v0.84h-12.8zM286.7 524.98h12.8v0.84h-12.8zM248.3 534.46h12.8v0.84h-12.8zM197.1 551.35h12.8v0.86h-12.8zM286.7 544.84h12.8v0.86h-12.8zM209.9 596.94h12.8v0.84h-12.8zM197.1 611.97h12.8v0.84h-12.8zM273.9 604.09h12.8v0.84h-12.8zM209.9 624.37h12.8v0.84h-12.8z"/>
<path fill="#f9f9ff" d="M209.9 389h12.8v0.85h-12.8zM209.9 393.77h12.8v0.85h-12.8zM209.9 395.36h12.8v1.64h-12.8zM209.9 397.75h12.8v0.85h-12.8zM222.7 394.57h12.8v0.85h-12.8zM222.7 396.95h12.8v0.85h-12.8zM222.7 400.93h12.8v1.64h-12.8zM222.7 404.11h12.8v1.64h-12.8zM235.5 424.3h12.8v0.85h-12.8zM261.1 439.5h12.8v0.85h-12.8zM222.7 551.35h12.8v0.86h-12.8zM171.5 568.84h12.8v1.59h-12.8zM171.5 571.15h12.8v0.82h-12.8zM171.5 574.23h12.8v0.82h-12.8zM158.7 637.73h12.8v0.84h-12.8z"/>
<path fill="#d2d2ff" d="M209.9 391.39h12.8v0.85h-12.8zM261.1 397.75h12.8v0.85h-12.8zM184.3 405.7h12.8v0.86h-12.8zM197.1 455.35h12.8v0.84h-12.8zM273.9 495.48h12.8v0.85h-12.8zM158.7 509.9h12.8v0.85h-12.8zM209.9 612.76h12.8v0.84h-12.8z"/>
<path fill="#babaff" d="M209.9 392.18h12.8v0.85h-12.8zM209.9 402.52h12.8v0.85h-12.8zM171.5 556.23h12.8v0.86h-12.8z"/>
<path fill="#c4c4ff" d="M209.9 394.57h12.8v0.85h-12.8zM222.7 392.98h12.8v0.85h-12.8z"/>
<path fill="#d5d5ff" d="M209.9 403.31h12.8v0.85h-12.8zM197.1 417.03h12.8v0.86h-12.8zM261.1 413.8h12.8v0.86h-12.8zM158.7 449.85h12.8v0.84h-12.8zM171.5 548.91h12.8v0.86h-12.8zM222.7 557.05h12.8v0.86h-12.8zM184.3 587.44h12.8v1.61h-12.8z"/>
<path fill="#e1e1ff" d="M222.7 397.75h12.8v0.85h-12.8zM286.7 389.8h12.8v0.85h-12.8zM273.9 536.05h12.8v0.84h-12.8zM273.9 554.6h12.8v0.86h-12.8zM286.7 568.84h12.8v0.82h-12.8z"/>
<path fill="#0000ff" d="M235.5 389h12.8v16.75h-12.8zM248.3 389h12.8v16.75h-12.8zM209.9 405.7h12.8v17.05h-12.8zM158.7 460.98h12.8v0.88h-12.8zM158.7 462.62h12.8v0.88h-12.8zM158.7 464.28h12.8v0.88h-12.8zM171.5 458.5h12.8v6.65h-12.8zM184.3 458.5h12.8v6.65h-12.8zM197.1 458.5h12.8v1.7h-12.8zM197.1 460.98h12.8v4.18h-12.8zM171.5 501.1h12.8v8.85h-12.8zM171.5 510.7h12.8v0.85h-12.8zM209.9 501.1h12.8v16.85h-12.8zM222.7 501.1h12.8v3.25h-12.8zM222.7 505.1h12.8v12.85h-12.8zM235.5 501.1h12.8v16.05h-12.8zM248.3 501.1h12.8v16.85h-12.8zM158.7 529.7h12.8v12.75h-12.8zM261.1 542.4h12.8v17.95h-12.8zM158.7 560.3h12.8v4.72h-12.8zM158.7 565.74h12.8v1.61h-12.8zM171.5 560.3h12.8v2.38h-12.8zM171.5 563.41h12.8v0.83h-12.8zM171.5 564.97h12.8v2.38h-12.8zM184.3 560.3h12.8v0.83h-12.8zM184.3 562.63h12.8v1.61h-12.8zM184.3 564.97h12.8v0.83h-12.8zM197.1 561.08h12.8v3.94h-12.8zM197.1 565.74h12.8v1.61h-12.8zM197.1 567.3h12.8v7.75h-12.8zM197.1 575h12.8v14.05h-12.8zM222.7 589h12.8v14.35h-12.8zM286.7 603.3h12.8v13.45h-12.8zM273.9 622.8h12.8v16.55h-12.8z"/>
<path fill="#efefff" d="M261.1 389h12.8v0.85h-12.8zM261.1 391.39h12.8v0.85h-12.8zM261.1 404.9h12.8v0.85h-12.8zM235.5 434.7h12.8v0.85h-12.8zM248.3 461.8h12.8v0.88h-12.8zM222.7 533.67h12.8v0.84h-12.8zM261.1 582h12.8v0.83h-12.8zM261.1 586.67h12.8v0.83h-12.8zM286.7 578.89h12.8v0.83h-12.8zM248.3 599.33h12.8v0.84h-12.8z"/>
<path fill="#6666ff" d="M261.1 389.8h12.8v0.85h-12.8z"/>
<path fill="#5656ff" d="M261.1 393.77h12.8v0.85h-12.8z"/>
<path fill="#b0b0ff" d="M261.1 394.57h12.8v0.85h-12.8zM171.5 530.49h12.8v0.84h-12.8zM171.5 552.16h12.8v0.86h-12.8z"/>
<path fill="#4747ff" d="M261.1 395.36h12.8v0.85h-12.8zM158.7 458.5h12.8v0.88h-12.8z"/>
<path fill="#8282ff" d="M261.1 396.16h12.8v0.85h-12.8zM222.7 410.56h12.8v0.86h-12.8zM197.1 471.45h12.8v0.84h-12.8z"/>
<path fill="#8c8cff" d="M261.1 396.95h12.8v0.85h-12.8zM273.9 461.8h12.8v0.88h-12.8zM184.3 516.3h12.8v0.85h-12.8zM273.9 568.84h12.8v0.82h-12.8z"/>
<path fill="#5959ff" d="M261.1 398.54h12.8v0.85h-12.8z"/>
<path fill="#8585ff" d="M261.1 399.34h12.8v0.85h-12.8zM158.7 471.45h12.8v0.84h-12.8zM184.3 536.05h12.8v0.84h-12.8zM273.9 568.07h12.8v0.82h-12.8zM273.9 574.23h12.8v0.82h-12.8z"/>
<path fill="#7070ff" d="M261.1 400.93h12.8v0.85h-12.8z"/>
<path fill="#9e9eff" d="M261.1 402.52h12.8v0.85h-12.8zM273.9 496.28h12.8v0.85h-12.8zM171.5 536.05h12.8v0.84h-12.8z"/>
<path fill="#6767ff" d="M261.1 403.31h12.8v0.85h-12.8zM286.7 462.62h12.8v0.88h-12.8z"/>
<path fill="#ffc5c5" d="M273.9 393.77h12.8v0.85h-12.8zM158.7 444.3h12.8v0.85h-12.8zM158.7 486.64h12.8v0.85h-12.8zM158.7 497.08h12.8v0.85h-12.8zM209.9 523.41h12.8v0.84h-12.8zM209.9 528.13h12.8v0.84h-12.8zM197.1 559.49h12.8v0.86h-12.8zM273.9 598.53h12.8v0.84h-12.8z"/>
<path fill="#f2f2ff" d="M273.9 398.54h12.8v0.85h-12.8zM248.3 417.84h12.8v0.86h-12.8zM273.9 421.89h12.8v0.86h-12.8zM235.5 444.3h12.8v0.85h-12.8zM209.9 546.47h12.8v0.86h-12.8zM235.5 543.21h12.8v0.86h-12.8zM197.1 605.66h12.8v0.84h-12.8zM273.9 620.51h12.8v0.81h-12.8zM158.7 636.94h12.8v0.84h-12.8z"/>
<path fill="#ffe4e4" d="M273.9 400.93h12.8v0.85h-12.8zM197.1 422.7h12.8v0.85h-12.8zM171.5 465.89h12.8v0.84h-12.8zM286.7 510.7h12.8v0.85h-12.8zM261.1 517.9h12.8v0.84h-12.8zM261.1 540.02h12.8v0.84h-12.8zM197.1 556.23h12.8v0.86h-12.8z"/>
<path fill="#dadaff" d="M286.7 396.16h12.8v0.85h-12.8zM222.7 420.27h12.8v0.86h-12.8zM261.1 440.3h12.8v0.85h-12.8zM261.1 510.7h12.8v0.85h-12.8zM171.5 589.79h12.8v0.84h-12.8zM286.7 638.51h12.8v0.84h-12.8z"/>
<path fill="#ffc4c4" d="M286.7 400.93h12.8v0.85h-12.8zM158.7 557.05h12.8v0.86h-12.8zM197.1 557.05h12.8v0.86h-12.8z"/>
<path fill="#fff2f2" d="M158.7 405.7h12.8v0.86h-12.8zM261.1 412.99h12.8v0.86h-12.8zM171.5 437.9h12.8v0.85h-12.8zM273.9 441.1h12.8v0.85h-12.8zM209.9 498.69h12.8v0.85h-12.8zM235.5 532.08h12.8v0.84h-12.8zM235.5 539.23h12.8v0.84h-12.8zM261.1 529.7h12.8v0.84h-12.8zM222.7 568.84h12.8v0.82h-12.8zM222.7 583.56h12.8v0.83h-12.8zM235.5 581.22h12.8v0.83h-12.8zM261.1 589h12.8v0.84h-12.8zM273.9 595.36h12.8v0.84h-12.8zM235.5 603.3h12.8v0.84h-12.8zM171.5 634.59h12.8v0.84h-12.8zM171.5 638.51h12.8v0.84h-12.8zM197.1 625.94h12.8v1.62h-12.8z"/>
<path fill="#ffebeb" d="M158.7 407.32h12.8v0.86h-12.8zM171.5 428.3h12.8v0.85h-12.8zM261.1 422.7h12.8v0.85h-12.8zM286.7 433.1h12.8v0.85h-12.8zM273.9 449.85h12.8v0.84h-12.8zM286.7 538.43h12.8v0.84h-12.8zM158.7 619.75h12.8v0.81h-12.8zM261.1 632.23h12.8v0.84h-12.8z"/>
<path fill="#fff3f3" d="M158.7 408.13h12.8v0.86h-12.8zM222.7 434.7h12.8v0.85h-12.8zM171.5 469.07h12.8v0.84h-12.8zM184.3 468.27h12.8v0.84h-12.8zM261.1 497.08h12.8v1.66h-12.8zM286.7 513.9h12.8v0.85h-12.8zM209.9 530.49h12.8v0.84h-12.8zM171.5 586.67h12.8v0.83h-12.8zM158.7 591.38h12.8v0.84h-12.8zM171.5 615.91h12.8v0.84h-12.8zM197.1 606.45h12.8v0.84h-12.8zM158.7 628.3h12.8v0.84h-12.8zM209.9 625.16h12.8v0.84h-12.8z"/>
<path fill="#fffbfb" d="M158.7 413.8h12.8v0.86h-12.8zM248.3 435.5h12.8v0.85h-12.8zM184.3 451.42h12.8v0.84h-12.8zM197.1 505.1h12.8v0.85h-12.8zM197.1 508.3h12.8v0.85h-12.8zM248.3 544.84h12.8v0.86h-12.8zM171.5 600.92h12.8v0.84h-12.8zM184.3 598.53h12.8v0.84h-12.8zM184.3 611.18h12.8v0.84h-12.8zM197.1 625.16h12.8v0.84h-12.8zM235.5 627.51h12.8v0.84h-12.8z"/>
<path fill="#ffe8e8" d="M158.7 420.27h12.8v0.86h-12.8zM286.7 417.03h12.8v0.86h-12.8zM286.7 431.5h12.8v0.85h-12.8zM171.5 468.27h12.8v0.84h-12.8zM171.5 472.24h12.8v1.64h-12.8zM273.9 469.86h12.8v0.84h-12.8zM273.9 473.03h12.8v0.84h-12.8zM286.7 523.41h12.8v0.84h-12.8zM248.3 533.67h12.8v0.84h-12.8zM248.3 536.84h12.8v0.84h-12.8zM171.5 584.33h12.8v0.83h-12.8zM197.1 594.56h12.8v0.84h-12.8zM197.1 601.71h12.8v0.84h-12.8zM273.9 615.12h12.8v0.84h-12.8zM261.1 631.44h12.8v0.84h-12.8z"/>
<path fill="#ededff" d="M171.5 417.84h12.8v0.86h-12.8zM261.1 407.32h12.8v0.86h-12.8zM261.1 437.1h12.8v0.85h-12.8zM158.7 453.78h12.8v0.84h-12.8zM235.5 462.62h12.8v0.88h-12.8zM184.3 570.38h12.8v0.82h-12.8zM261.1 581.22h12.8v0.83h-12.8zM286.7 578.11h12.8v0.83h-12.8zM286.7 579.67h12.8v0.83h-12.8zM171.5 596.15h12.8v0.84h-12.8zM158.7 631.44h12.8v0.84h-12.8z"/>
<path fill="#c7c7ff" d="M197.1 411.37h12.8v0.86h-12.8zM248.3 405.7h12.8v0.86h-12.8zM261.1 516.3h12.8v0.85h-12.8zM171.5 627.51h12.8v0.84h-12.8z"/>
<path fill="#d4b5ef" d="M197.1 419.46h12.8v0.86h-12.8z"/>
<path fill="#d8bbf1" d="M197.1 420.27h12.8v0.86h-12.8z"/>
<path fill="#dcc3f2" d="M197.1 421.08h12.8v0.86h-12.8z"/>
<path fill="#9090ff" d="M222.7 408.94h12.8v0.86h-12.8zM171.5 536.84h12.8v0.84h-12.8zM222.7 561.86h12.8v0.83h-12.8zM273.9 571.92h12.8v0.82h-12.8z"/>
<path fill="#8e8eff" d="M222.7 409.75h12.8v0.86h-12.8zM273.9 573.46h12.8v0.82h-12.8z"/>
<path fill="#7f7fff" d="M222.7 411.37h12.8v0.86h-12.8z"/>
<path fill="#8383ff" d="M222.7 412.18h12.8v0.86h-12.8z"/>
<path fill="#9191ff" d="M222.7 412.99h12.8v0.86h-12.8zM209.9 561.08h12.8v0.83h-12.8z"/>
<path fill="#7878ff" d="M222.7 413.8h12.8v0.86h-12.8zM184.3 539.23h12.8v0.84h-12.8zM248.3 592.97h12.8v0.84h-12.8z"/>
<path fill="#7e7eff" d="M222.7 414.6h12.8v0.86h-12.8zM184.3 531.29h12.8v0.84h-12.8z"/>
<path fill="#f1f1ff" d="M222.7 421.89h12.8v0.86h-12.8zM235.5 417.84h12.8v0.86h-12.8zM235.5 425.9h12.8v0.85h-12.8zM171.5 581.22h12.8v0.83h-12.8zM248.3 596.94h12.8v0.84h-12.8zM286.7 636.16h12.8v0.84h-12.8z"/>
<path fill="#fafaff" d="M235.5 408.94h12.8v0.86h-12.8zM248.3 596.15h12.8v0.84h-12.8zM286.7 624.37h12.8v1.62h-12.8zM286.7 627.51h12.8v0.84h-12.8zM286.7 632.23h12.8v0.84h-12.8zM286.7 633.8h12.8v0.84h-12.8z"/>
<path fill="#a6a6ff" d="M235.5 418.65h12.8v0.86h-12.8zM273.9 509.1h12.8v0.85h-12.8z"/>
<path fill="#8a8aff" d="M248.3 407.32h12.8v0.86h-12.8zM286.7 460.98h12.8v0.88h-12.8zM209.9 560.3h12.8v0.83h-12.8zM248.3 592.18h12.8v0.84h-12.8z"/>
<path fill="#f5f5ff" d="M248.3 408.13h12.8v0.86h-12.8zM248.3 410.56h12.8v0.86h-12.8zM171.5 537.64h12.8v0.84h-12.8zM209.9 540.81h12.8v0.84h-12.8zM273.9 552.16h12.8v0.86h-12.8zM286.7 571.92h12.8v0.82h-12.8zM261.1 579.67h12.8v0.83h-12.8zM171.5 594.56h12.8v0.84h-12.8z"/>
<path fill="#9696ff" d="M248.3 412.18h12.8v0.86h-12.8zM209.9 564.19h12.8v0.83h-12.8zM222.7 564.97h12.8v0.83h-12.8z"/>
<path fill="#d7d7ff" d="M248.3 413.8h12.8v0.86h-12.8zM261.1 415.41h12.8v0.86h-12.8zM261.1 430.7h12.8v0.85h-12.8zM209.9 550.54h12.8v0.86h-12.8zM235.5 555.42h12.8v0.86h-12.8z"/>
<path fill="#ffbebe" d="M261.1 406.51h12.8v0.86h-12.8zM235.5 451.42h12.8v0.84h-12.8zM286.7 548.91h12.8v0.86h-12.8zM286.7 557.05h12.8v0.86h-12.8z"/>
<path fill="#b5b5ff" d="M261.1 420.27h12.8v0.86h-12.8zM171.5 531.29h12.8v0.84h-12.8zM197.1 536.84h12.8v0.84h-12.8z"/>
<path fill="#aaaaff" d="M273.9 407.32h12.8v0.86h-12.8zM158.7 501.9h12.8v0.85h-12.8zM158.7 507.5h12.8v0.85h-12.8z"/>
<path fill="#ffe3e3" d="M158.7 422.7h12.8v0.85h-12.8zM171.5 454.57h12.8v0.84h-12.8zM273.9 522.62h12.8v0.84h-12.8zM222.7 554.6h12.8v0.86h-12.8zM171.5 580.44h12.8v0.83h-12.8zM261.1 603.3h12.8v0.84h-12.8zM261.1 611.97h12.8v0.84h-12.8z"/>
<path fill="#ffcfcf" d="M158.7 423.5h12.8v0.85h-12.8zM197.1 448.27h12.8v0.84h-12.8zM261.1 447.49h12.8v0.84h-12.8zM261.1 456.93h12.8v0.84h-12.8zM286.7 537.64h12.8v0.84h-12.8zM235.5 571.15h12.8v0.82h-12.8z"/>
<path fill="#ffbdbd" d="M158.7 431.5h12.8v0.85h-12.8zM248.3 448.27h12.8v0.84h-12.8zM261.1 518.69h12.8v0.84h-12.8zM286.7 558.67h12.8v0.86h-12.8z"/>
<path fill="#ffb4b4" d="M158.7 437.9h12.8v0.85h-12.8zM158.7 548.1h12.8v0.86h-12.8zM222.7 605.66h12.8v0.84h-12.8z"/>
<path fill="#ffdbdb" d="M158.7 441.1h12.8v0.85h-12.8zM158.7 445.1h12.8v0.85h-12.8zM248.3 456.14h12.8v0.84h-12.8zM171.5 476.21h12.8v0.84h-12.8zM158.7 498.69h12.8v0.85h-12.8zM209.9 524.98h12.8v0.84h-12.8zM209.9 611.18h12.8v0.84h-12.8z"/>
<path fill="#ff4444" d="M171.5 438.7h12.8v0.85h-12.8zM209.9 473.83h12.8v0.84h-12.8z"/>
<path fill="#ff4747" d="M171.5 439.5h12.8v0.85h-12.8zM273.9 433.1h12.8v0.85h-12.8z"/>
<path fill="#ff4a4a" d="M171.5 445.1h12.8v0.85h-12.8zM248.3 467.48h12.8v0.84h-12.8zM248.3 473.83h12.8v0.84h-12.8zM209.9 622.04h12.8v0.81h-12.8z"/>
<path fill="#ffc8c8" d="M197.1 426.7h12.8v0.85h-12.8zM209.9 452.99h12.8v0.84h-12.8zM248.3 449.85h12.8v0.84h-12.8zM222.7 473.83h12.8v0.84h-12.8zM222.7 517.9h12.8v0.84h-12.8z"/>
<path fill="#ff8787" d="M197.1 432.3h12.8v0.85h-12.8z"/>
<path fill="#ff9494" d="M197.1 433.9h12.8v0.85h-12.8zM197.1 526.55h12.8v0.84h-12.8z"/>
<path fill="#ff9d9d" d="M197.1 434.7h12.8v0.85h-12.8z"/>
<path fill="#ff2626" d="M197.1 440.3h12.8v0.85h-12.8z"/>
<path fill="#ff2222" d="M197.1 441.1h12.8v0.85h-12.8zM171.5 622.04h12.8v0.81h-12.8z"/>
<path fill="#ff1b1b" d="M197.1 442.7h12.8v0.85h-12.8z"/>
<path fill="#ff1616" d="M197.1 443.5h12.8v0.85h-12.8zM171.5 520.26h12.8v0.84h-12.8z"/>
<path fill="#ff1c1c" d="M197.1 444.3h12.8v0.85h-12.8z"/>
<path fill="#fff6f6" d="M209.9 442.7h12.8v0.85h-12.8zM184.3 466.69h12.8v0.84h-12.8zM184.3 469.07h12.8v0.84h-12.8zM248.3 527.34h12.8v0.84h-12.8zM235.5 536.84h12.8v0.84h-12.8zM248.3 539.23h12.8v0.84h-12.8zM222.7 575.78h12.8v0.83h-12.8zM235.5 577.33h12.8v0.83h-12.8zM235.5 582.78h12.8v0.83h-12.8zM184.3 592.18h12.8v0.84h-12.8zM184.3 596.94h12.8v0.84h-12.8zM158.7 630.66h12.8v0.84h-12.8z"/>
<path fill="#fffdfd" d="M248.3 423.5h12.8v0.85h-12.8zM248.3 437.1h12.8v0.85h-12.8zM197.1 509.9h12.8v1.65h-12.8zM235.5 592.18h12.8v0.84h-12.8zM235.5 595.36h12.8v0.84h-12.8zM235.5 631.44h12.8v0.84h-12.8z"/>
<path fill="#fffcfc" d="M248.3 439.5h12.8v0.85h-12.8zM248.3 445.1h12.8v0.85h-12.8zM235.5 593.77h12.8v0.84h-12.8zM235.5 602.51h12.8v0.84h-12.8zM184.3 606.45h12.8v0.84h-12.8zM158.7 636.16h12.8v0.84h-12.8z"/>
<path fill="#ffd1d1" d="M261.1 426.7h12.8v0.85h-12.8zM286.7 441.1h12.8v0.85h-12.8zM209.9 521.05h12.8v0.84h-12.8zM222.7 525.77h12.8v0.84h-12.8zM261.1 534.46h12.8v0.84h-12.8zM286.7 532.08h12.8v0.84h-12.8zM197.1 544.84h12.8v0.86h-12.8zM209.9 625.94h12.8v0.84h-12.8z"/>
<path fill="#ff5151" d="M273.9 432.3h12.8v0.85h-12.8z"/>
<path fill="#ff4141" d="M273.9 433.9h12.8v0.85h-12.8zM209.9 469.86h12.8v0.84h-12.8zM248.3 466.69h12.8v0.84h-12.8zM248.3 471.45h12.8v0.84h-12.8z"/>
<path fill="#ffbfbf" d="M286.7 434.7h12.8v0.85h-12.8zM248.3 449.06h12.8v0.84h-12.8zM286.7 548.1h12.8v0.86h-12.8zM286.7 552.98h12.8v0.86h-12.8zM273.9 566.52h12.8v0.83h-12.8z"/>
<path fill="#ffc2c2" d="M286.7 440.3h12.8v0.85h-12.8zM158.7 457.71h12.8v0.84h-12.8zM235.5 456.93h12.8v0.84h-12.8zM222.7 473.03h12.8v0.84h-12.8zM158.7 558.67h12.8v0.86h-12.8zM261.1 625.94h12.8v0.84h-12.8z"/>
<path fill="#ffadad" d="M158.7 452.99h12.8v0.84h-12.8zM273.9 520.26h12.8v0.84h-12.8zM209.9 568.07h12.8v0.82h-12.8zM273.9 586.67h12.8v0.83h-12.8z"/>
<path fill="#ffb8b8" d="M184.3 457.71h12.8v0.84h-12.8zM248.3 453.78h12.8v0.84h-12.8zM197.1 486.64h12.8v0.85h-12.8zM286.7 545.65h12.8v0.86h-12.8zM261.1 638.51h12.8v0.84h-12.8z"/>
<path fill="#ff9696" d="M209.9 450.63h12.8v0.84h-12.8zM261.1 619.75h12.8v0.81h-12.8z"/>
<path fill="#ffb6b6" d="M209.9 451.42h12.8v0.84h-12.8zM222.7 476.21h12.8v0.84h-12.8zM209.9 571.92h12.8v0.82h-12.8zM273.9 589.79h12.8v0.84h-12.8z"/>
<path fill="#ff8080" d="M209.9 453.78h12.8v0.84h-12.8zM209.9 465.89h12.8v0.84h-12.8zM261.1 498.69h12.8v0.85h-12.8z"/>
<path fill="#ffb9b9" d="M235.5 456.14h12.8v0.84h-12.8zM261.1 496.28h12.8v0.85h-12.8zM286.7 546.47h12.8v0.86h-12.8zM261.1 633.8h12.8v0.84h-12.8z"/>
<path fill="#ff7171" d="M248.3 450.63h12.8v0.84h-12.8zM197.1 521.05h12.8v0.84h-12.8z"/>
<path fill="#ff8383" d="M248.3 452.99h12.8v0.84h-12.8z"/>
<path fill="#ff7373" d="M248.3 454.57h12.8v0.84h-12.8zM261.1 467.48h12.8v0.84h-12.8z"/>
<path fill="#ff5454" d="M248.3 456.93h12.8v0.84h-12.8z"/>
<path fill="#4141ff" d="M158.7 459.32h12.8v0.88h-12.8zM197.1 460.15h12.8v0.88h-12.8z"/>
<path fill="#3131ff" d="M158.7 460.15h12.8v0.88h-12.8zM261.1 566.52h12.8v0.83h-12.8z"/>
<path fill="#4545ff" d="M158.7 461.8h12.8v0.88h-12.8z"/>
<path fill="#3a3aff" d="M158.7 463.45h12.8v0.88h-12.8z"/>
<path fill="#e6d4f6" d="M209.9 458.5h12.8v0.88h-12.8z"/>
<path fill="#ecdef8" d="M209.9 459.32h12.8v0.88h-12.8zM222.7 497.08h12.8v0.85h-12.8zM197.1 593.77h12.8v0.84h-12.8zM197.1 598.53h12.8v0.84h-12.8z"/>
<path fill="#d6b8f0" d="M209.9 460.15h12.8v0.88h-12.8zM261.1 570.38h12.8v0.82h-12.8z"/>
<path fill="#e5d2f6" d="M209.9 460.98h12.8v0.88h-12.8zM222.7 464.28h12.8v0.88h-12.8z"/>
<path fill="#d7baf0" d="M209.9 461.8h12.8v0.88h-12.8z"/>
<path fill="#ede0f8" d="M209.9 462.62h12.8v1.7h-12.8zM197.1 596.15h12.8v0.84h-12.8zM261.1 610.39h12.8v0.84h-12.8z"/>
<path fill="#dec6f3" d="M209.9 464.28h12.8v0.88h-12.8z"/>
<path fill="#e7d6f6" d="M222.7 458.5h12.8v0.88h-12.8zM197.1 600.12h12.8v0.84h-12.8z"/>
<path fill="#e9d8f7" d="M222.7 460.15h12.8v0.88h-12.8zM197.1 618.23h12.8v0.81h-12.8z"/>
<path fill="#e7d5f6" d="M222.7 461.8h12.8v0.88h-12.8zM197.1 592.97h12.8v0.84h-12.8z"/>
<path fill="#e2cdf4" d="M222.7 462.62h12.8v0.88h-12.8zM286.7 520.26h12.8v0.84h-12.8zM197.1 618.99h12.8v0.81h-12.8z"/>
<path fill="#ebdcf8" d="M261.1 458.5h12.8v0.88h-12.8zM261.1 604.09h12.8v0.84h-12.8z"/>
<path fill="#e0caf4" d="M261.1 459.32h12.8v0.88h-12.8zM222.7 497.89h12.8v0.85h-12.8z"/>
<path fill="#dac0f2" d="M261.1 460.98h12.8v0.88h-12.8zM286.7 566.52h12.8v0.83h-12.8zM261.1 568.84h12.8v0.82h-12.8z"/>
<path fill="#e0c9f4" d="M261.1 461.8h12.8v0.88h-12.8zM286.7 564.19h12.8v0.83h-12.8zM261.1 569.61h12.8v0.82h-12.8z"/>
<path fill="#e3cff5" d="M261.1 462.62h12.8v0.88h-12.8z"/>
<path fill="#ebddf8" d="M261.1 463.45h12.8v0.88h-12.8zM197.1 596.94h12.8v0.84h-12.8zM197.1 600.92h12.8v0.84h-12.8zM261.1 614.34h12.8v0.84h-12.8z"/>
<path fill="#eadaf7" d="M261.1 464.28h12.8v0.88h-12.8z"/>
<path fill="#9b9bff" d="M273.9 464.28h12.8v0.88h-12.8zM273.9 505.9h12.8v0.85h-12.8zM222.7 562.63h12.8v0.83h-12.8zM273.9 571.15h12.8v0.82h-12.8zM248.3 590.59h12.8v0.84h-12.8z"/>
<path fill="#a0a0ff" d="M286.7 458.5h12.8v0.88h-12.8zM273.9 501.1h12.8v0.85h-12.8z"/>
<path fill="#6464ff" d="M286.7 459.32h12.8v0.88h-12.8z"/>
<path fill="#c6c6ff" d="M286.7 460.15h12.8v0.88h-12.8zM158.7 513.9h12.8v0.85h-12.8zM171.5 540.81h12.8v0.84h-12.8zM184.3 550.54h12.8v0.86h-12.8z"/>
<path fill="#2424ff" d="M286.7 463.45h12.8v0.88h-12.8z"/>
<path fill="#7575ff" d="M286.7 464.28h12.8v0.88h-12.8z"/>
<path fill="#9898ff" d="M158.7 474.62h12.8v0.84h-12.8zM273.9 505.1h12.8v0.85h-12.8zM171.5 626.73h12.8v0.84h-12.8z"/>
<path fill="#7373ff" d="M197.1 470.65h12.8v0.84h-12.8z"/>
<path fill="#a8a8ff" d="M197.1 472.24h12.8v0.84h-12.8zM184.3 513.1h12.8v0.85h-12.8z"/>
<path fill="#ceceff" d="M197.1 475.41h12.8v0.84h-12.8zM273.9 497.89h12.8v0.85h-12.8zM171.5 542.4h12.8v0.86h-12.8zM286.7 630.66h12.8v0.84h-12.8z"/>
<path fill="#ff7f7f" d="M209.9 466.69h12.8v0.84h-12.8z"/>
<path fill="#ff4343" d="M209.9 469.07h12.8v0.84h-12.8z"/>
<path fill="#ff5050" d="M209.9 470.65h12.8v0.84h-12.8z"/>
<path fill="#ff7b7b" d="M209.9 472.24h12.8v0.84h-12.8zM261.1 495.48h12.8v0.85h-12.8zM197.1 528.13h12.8v0.84h-12.8z"/>
<path fill="#ff7777" d="M209.9 473.03h12.8v0.84h-12.8z"/>
<path fill="#ff3f3f" d="M209.9 475.41h12.8v0.84h-12.8zM248.3 476.21h12.8v0.84h-12.8z"/>
<path fill="#ff8d8d" d="M222.7 465.89h12.8v0.84h-12.8z"/>
<path fill="#ffa7a7" d="M222.7 468.27h12.8v0.84h-12.8zM261.1 494.67h12.8v0.85h-12.8zM286.7 552.16h12.8v0.86h-12.8zM209.9 569.61h12.8v0.82h-12.8z"/>
<path fill="#ff0d0d" d="M235.5 465.1h12.8v11.95h-12.8zM184.3 517.9h12.8v7.92h-12.8zM209.9 616.7h12.8v1.57h-12.8z"/>
<path fill="#ff3939" d="M248.3 465.89h12.8v0.84h-12.8zM171.5 518.69h12.8v0.84h-12.8z"/>
<path fill="#ff3131" d="M248.3 468.27h12.8v0.84h-12.8zM222.7 619.75h12.8v0.81h-12.8z"/>
<path fill="#ff4c4c" d="M248.3 469.07h12.8v0.84h-12.8z"/>
<path fill="#ff4d4d" d="M248.3 469.86h12.8v0.84h-12.8zM261.1 471.45h12.8v0.84h-12.8zM261.1 473.03h12.8v0.84h-12.8z"/>
<path fill="#ff4949" d="M248.3 470.65h12.8v0.84h-12.8zM248.3 475.41h12.8v0.84h-12.8z"/>
<path fill="#ff3535" d="M248.3 472.24h12.8v0.84h-12.8z"/>
<path fill="#ff3a3a" d="M248.3 474.62h12.8v0.84h-12.8z"/>
<path fill="#ff5e5e" d="M261.1 465.1h12.8v0.84h-12.8z"/>
<path fill="#ff6b6b" d="M261.1 474.62h12.8v0.84h-12.8z"/>
<path fill="#ffb3b3" d="M261.1 476.21h12.8v0.84h-12.8zM273.9 476.21h12.8v0.84h-12.8zM158.7 489.05h12.8v0.85h-12.8zM273.9 519.47h12.8v0.84h-12.8zM273.9 589h12.8v0.84h-12.8z"/>
<path fill="#ff9999" d="M158.7 499.49h12.8v0.85h-12.8z"/>
<path fill="#ffa8a8" d="M197.1 485.84h12.8v0.85h-12.8zM209.9 568.84h12.8v0.82h-12.8z"/>
<path fill="#c093e8" d="M197.1 495.48h12.8v0.85h-12.8z"/>
<path fill="#dfc8f3" d="M197.1 496.28h12.8v0.85h-12.8zM261.1 608.82h12.8v0.84h-12.8zM158.7 638.51h12.8v0.84h-12.8z"/>
<path fill="#ba88e6" d="M197.1 497.08h12.8v0.85h-12.8z"/>
<path fill="#d2b1ef" d="M222.7 498.69h12.8v0.85h-12.8zM286.7 561.08h12.8v0.83h-12.8z"/>
<path fill="#e1ccf4" d="M222.7 499.49h12.8v0.85h-12.8zM261.1 608.03h12.8v0.84h-12.8zM261.1 613.55h12.8v0.84h-12.8z"/>
<path fill="#ff7272" d="M261.1 499.49h12.8v0.85h-12.8z"/>
<path fill="#b2b2ff" d="M158.7 506.7h12.8v0.85h-12.8zM158.7 513.1h12.8v0.85h-12.8zM171.5 555.42h12.8v0.86h-12.8zM286.7 572.69h12.8v0.82h-12.8z"/>
<path fill="#a5a5ff" d="M158.7 508.3h12.8v0.85h-12.8zM171.5 532.88h12.8v1.64h-12.8z"/>
<path fill="#2b2bff" d="M171.5 509.9h12.8v0.85h-12.8z"/>
<path fill="#1f1fff" d="M171.5 511.5h12.8v0.85h-12.8z"/>
<path fill="#9c9cff" d="M171.5 512.3h12.8v0.85h-12.8z"/>
<path fill="#5151ff" d="M171.5 515.5h12.8v0.85h-12.8z"/>
<path fill="#3737ff" d="M171.5 516.3h12.8v0.85h-12.8z"/>
<path fill="#6c6cff" d="M171.5 517.1h12.8v0.85h-12.8zM248.3 563.41h12.8v0.83h-12.8z"/>
<path fill="#4e4eff" d="M184.3 501.1h12.8v0.85h-12.8zM248.3 564.19h12.8v0.83h-12.8zM261.1 560.3h12.8v0.83h-12.8z"/>
<path fill="#0d0dff" d="M184.3 501.9h12.8v0.85h-12.8zM184.3 503.5h12.8v4.85h-12.8zM184.3 509.1h12.8v1.65h-12.8zM158.7 567.3h12.8v7.75h-12.8z"/>
<path fill="#5050ff" d="M184.3 502.7h12.8v0.85h-12.8zM261.1 564.19h12.8v0.83h-12.8z"/>
<path fill="#4a4aff" d="M184.3 508.3h12.8v0.85h-12.8zM158.7 564.97h12.8v0.83h-12.8z"/>
<path fill="#5a5aff" d="M184.3 513.9h12.8v0.85h-12.8z"/>
<path fill="#5353ff" d="M184.3 514.7h12.8v0.85h-12.8zM235.5 561.86h12.8v0.83h-12.8zM235.5 564.19h12.8v0.83h-12.8z"/>
<path fill="#5d5dff" d="M184.3 515.5h12.8v0.85h-12.8z"/>
<path fill="#3333ff" d="M222.7 504.3h12.8v0.85h-12.8zM261.1 562.63h12.8v0.83h-12.8z"/>
<path fill="#2222ff" d="M235.5 517.1h12.8v0.85h-12.8z"/>
<path fill="#a2a2ff" d="M261.1 501.1h12.8v0.85h-12.8zM261.1 512.3h12.8v0.85h-12.8zM273.9 513.9h12.8v0.85h-12.8zM171.5 540.02h12.8v0.84h-12.8zM273.9 572.69h12.8v0.82h-12.8z"/>
<path fill="#b7b7ff" d="M261.1 501.9h12.8v0.85h-12.8zM261.1 509.1h12.8v0.85h-12.8zM184.3 538.43h12.8v0.84h-12.8zM171.5 543.21h12.8v0.86h-12.8z"/>
<path fill="#aeaeff" d="M261.1 507.5h12.8v0.85h-12.8zM171.5 544.84h12.8v0.86h-12.8z"/>
<path fill="#a4a4ff" d="M261.1 514.7h12.8v0.85h-12.8zM209.9 564.97h12.8v0.83h-12.8z"/>
<path fill="#ff3737" d="M171.5 521.83h12.8v0.84h-12.8z"/>
<path fill="#ff5c5c" d="M171.5 524.19h12.8v0.84h-12.8z"/>
<path fill="#ff1919" d="M171.5 527.34h12.8v0.84h-12.8z"/>
<path fill="#ff5353" d="M184.3 527.34h12.8v0.84h-12.8z"/>
<path fill="#ff9a9a" d="M197.1 517.9h12.8v0.84h-12.8zM273.9 524.98h12.8v0.84h-12.8z"/>
<path fill="#ff8686" d="M197.1 522.62h12.8v0.84h-12.8zM197.1 527.34h12.8v0.84h-12.8z"/>
<path fill="#ff5555" d="M197.1 524.19h12.8v0.84h-12.8zM235.5 638.51h12.8v0.84h-12.8z"/>
<path fill="#ff6565" d="M197.1 524.98h12.8v0.84h-12.8z"/>
<path fill="#ff3d3d" d="M197.1 528.91h12.8v0.84h-12.8z"/>
<path fill="#f2e9fa" d="M286.7 518.69h12.8v0.84h-12.8zM158.7 606.45h12.8v0.84h-12.8z"/>
<path fill="#f0e5fa" d="M286.7 521.83h12.8v0.84h-12.8zM261.1 611.18h12.8v0.84h-12.8zM222.7 633.01h12.8v0.84h-12.8z"/>
<path fill="#9797ff" d="M171.5 538.43h12.8v0.84h-12.8zM209.9 562.63h12.8v0.83h-12.8zM286.7 570.38h12.8v0.82h-12.8z"/>
<path fill="#8d8dff" d="M171.5 541.61h12.8v0.84h-12.8z"/>
<path fill="#8989ff" d="M184.3 529.7h12.8v0.84h-12.8zM222.7 566.52h12.8v0.83h-12.8z"/>
<path fill="#4c4cff" d="M184.3 530.49h12.8v0.84h-12.8z"/>
<path fill="#8b8bff" d="M184.3 532.88h12.8v0.84h-12.8zM209.9 565.74h12.8v0.83h-12.8z"/>
<path fill="#6060ff" d="M184.3 537.64h12.8v0.84h-12.8zM197.1 564.97h12.8v0.83h-12.8z"/>
<path fill="#3f3fff" d="M171.5 562.63h12.8v0.83h-12.8z"/>
<path fill="#2d2dff" d="M171.5 564.19h12.8v0.83h-12.8z"/>
<path fill="#3e3eff" d="M184.3 561.08h12.8v0.83h-12.8zM184.3 565.74h12.8v0.83h-12.8z"/>
<path fill="#5c5cff" d="M184.3 561.86h12.8v0.83h-12.8z"/>
<path fill="#4040ff" d="M184.3 564.19h12.8v0.83h-12.8z"/>
<path fill="#4848ff" d="M184.3 566.52h12.8v0.83h-12.8z"/>
<path fill="#3c3cff" d="M197.1 560.3h12.8v0.83h-12.8z"/>
<path fill="#a3a3ff" d="M209.9 561.86h12.8v0.83h-12.8z"/>
<path fill="#9999ff" d="M209.9 566.52h12.8v0.83h-12.8z"/>
<path fill="#9494ff" d="M222.7 560.3h12.8v0.83h-12.8z"/>
<path fill="#7c7cff" d="M222.7 561.08h12.8v0.83h-12.8z"/>
<path fill="#8686ff" d="M222.7 563.41h12.8v0.83h-12.8zM273.9 570.38h12.8v0.82h-12.8z"/>
<path fill="#9393ff" d="M222.7 565.74h12.8v0.83h-12.8z"/>
<path fill="#6e6eff" d="M235.5 560.3h12.8v0.83h-12.8zM248.3 561.08h12.8v0.83h-12.8z"/>
<path fill="#5e5eff" d="M235.5 561.08h12.8v0.83h-12.8z"/>
<path fill="#4f4fff" d="M235.5 562.63h12.8v0.83h-12.8zM261.1 565.74h12.8v0.83h-12.8z"/>
<path fill="#5454ff" d="M235.5 563.41h12.8v0.83h-12.8z"/>
<path fill="#7171ff" d="M235.5 564.97h12.8v0.83h-12.8z"/>
<path fill="#5757ff" d="M235.5 565.74h12.8v0.83h-12.8z"/>
<path fill="#7979ff" d="M235.5 566.52h12.8v0.83h-12.8z"/>
<path fill="#5555ff" d="M248.3 560.3h12.8v0.83h-12.8z"/>
<path fill="#6d6dff" d="M248.3 561.86h12.8v0.83h-12.8zM248.3 595.36h12.8v0.84h-12.8z"/>
<path fill="#4343ff" d="M248.3 562.63h12.8v0.83h-12.8z"/>
<path fill="#5858ff" d="M248.3 564.97h12.8v0.83h-12.8z"/>
<path fill="#7272ff" d="M248.3 565.74h12.8v0.83h-12.8z"/>
<path fill="#4b4bff" d="M248.3 566.52h12.8v0.83h-12.8z"/>
<path fill="#1b1bff" d="M261.1 561.08h12.8v0.83h-12.8z"/>
<path fill="#2020ff" d="M261.1 561.86h12.8v0.83h-12.8z"/>
<path fill="#3636ff" d="M261.1 563.41h12.8v0.83h-12.8z"/>
<path fill="#2727ff" d="M261.1 564.97h12.8v0.83h-12.8z"/>
<path fill="#c296e9" d="M273.9 560.3h12.8v0.83h-12.8z"/>
<path fill="#d3b3ef" d="M273.9 561.86h12.8v0.83h-12.8z"/>
<path fill="#c79eeb" d="M273.9 562.63h12.8v0.83h-12.8z"/>
<path fill="#c9a3ec" d="M273.9 563.41h12.8v0.83h-12.8z"/>
<path fill="#d2b2ef" d="M273.9 564.97h12.8v0.83h-12.8z"/>
<path fill="#d1b0ee" d="M273.9 565.74h12.8v0.83h-12.8zM261.1 573.46h12.8v0.82h-12.8z"/>
<path fill="#c398e9" d="M286.7 563.41h12.8v0.83h-12.8z"/>
<path fill="#eadbf7" d="M261.1 567.3h12.8v0.82h-12.8z"/>
<path fill="#eee1f9" d="M261.1 568.07h12.8v0.82h-12.8zM197.1 597.74h12.8v0.84h-12.8zM222.7 626.73h12.8v0.84h-12.8z"/>
<path fill="#d7b9f0" d="M261.1 571.15h12.8v0.82h-12.8z"/>
<path fill="#e2ccf4" d="M261.1 574.23h12.8v0.82h-12.8zM261.1 609.61h12.8v0.84h-12.8z"/>
<path fill="#9a9aff" d="M286.7 569.61h12.8v0.82h-12.8z"/>
<path fill="#f4ecfb" d="M197.1 589.79h12.8v1.64h-12.8zM158.7 607.24h12.8v0.84h-12.8zM222.7 625.16h12.8v0.84h-12.8zM222.7 629.87h12.8v0.84h-12.8zM222.7 637.73h12.8v0.84h-12.8z"/>
<path fill="#f1e7fa" d="M197.1 592.18h12.8v0.84h-12.8zM222.7 623.59h12.8v0.84h-12.8zM222.7 625.94h12.8v0.84h-12.8z"/>
<path fill="#e4d0f5" d="M197.1 599.33h12.8v0.84h-12.8zM197.1 622.04h12.8v0.81h-12.8z"/>
<path fill="#f1e6fa" d="M197.1 602.51h12.8v0.84h-12.8z"/>
<path fill="#ffb0b0" d="M273.9 590.59h12.8v0.84h-12.8z"/>
<path fill="#f7f0fc" d="M158.7 603.3h12.8v0.84h-12.8zM158.7 610.39h12.8v0.84h-12.8z"/>
<path fill="#f5eefb" d="M158.7 605.66h12.8v0.84h-12.8z"/>
<path fill="#efe3f9" d="M158.7 608.82h12.8v0.84h-12.8z"/>
<path fill="#eddff8" d="M158.7 611.97h12.8v0.84h-12.8z"/>
<path fill="#f0e5f9" d="M158.7 612.76h12.8v0.84h-12.8z"/>
<path fill="#f3eafb" d="M158.7 613.55h12.8v0.84h-12.8z"/>
<path fill="#f0e6fa" d="M158.7 615.12h12.8v0.84h-12.8z"/>
<path fill="#e4d1f5" d="M261.1 604.88h12.8v0.84h-12.8z"/>
<path fill="#e6d3f6" d="M261.1 605.66h12.8v0.84h-12.8z"/>
<path fill="#e3cef5" d="M261.1 606.45h12.8v0.84h-12.8z"/>
<path fill="#eadcf8" d="M261.1 612.76h12.8v0.84h-12.8z"/>
<path fill="#f2e8fa" d="M261.1 615.12h12.8v0.84h-12.8zM222.7 636.16h12.8v0.84h-12.8z"/>
<path fill="#ff1d1d" d="M158.7 617.46h12.8v0.81h-12.8z"/>
<path fill="#ff3636" d="M171.5 619.75h12.8v0.81h-12.8z"/>
<path fill="#ff1e1e" d="M171.5 620.51h12.8v0.81h-12.8z"/>
<path fill="#ff2c2c" d="M171.5 621.27h12.8v0.81h-12.8zM222.7 616.7h12.8v0.81h-12.8z"/>
<path fill="#ff0808" d="M184.3 616.7h12.8v6.15h-12.8z"/>
<path fill="#ff0b0b" d="M197.1 616.7h12.8v0.81h-12.8z"/>
<path fill="#ff8c8c" d="M209.9 618.99h12.8v0.81h-12.8z"/>
<path fill="#ff0707" d="M222.7 617.46h12.8v0.81h-12.8z"/>
<path fill="#ff6969" d="M222.7 622.04h12.8v0.81h-12.8z"/>
<path fill="#ff4242" d="M261.1 616.7h12.8v0.81h-12.8z"/>
<path fill="#ff3e3e" d="M261.1 617.46h12.8v0.81h-12.8z"/>
<path fill="#ff9797" d="M261.1 620.51h12.8v0.81h-12.8z"/>
<path fill="#f7f1fc" d="M222.7 624.37h12.8v0.84h-12.8zM222.7 627.51h12.8v0.84h-12.8z"/>
<path fill="#f7f2fc" d="M222.7 628.3h12.8v0.84h-12.8z"/>
<path fill="#f6effc" d="M222.7 629.09h12.8v0.84h-12.8z"/>
<path fill="#f8f2fc" d="M222.7 632.23h12.8v0.84h-12.8z"/>
<path fill="#ede1f9" d="M222.7 636.94h12.8v0.84h-12.8z"/>
<path fill="#e1cbf4" d="M235.5 625.94h12.8v0.84h-12.8z"/>
<rect x="152.4" y="355.2" width="5.6" height="25.1" fill="#d4d4d4"/>
<rect x="152.4" y="380.2" width="5.6" height="8.9" fill="#a8a8a8"/>
<rect x="152.4" y="389" width="5.6" height="16.8" fill="#d4d4d4"/>
<rect x="152.4" y="405.7" width="5.6" height="17.1" fill="#a8a8a8"/>
<rect x="152.4" y="422.7" width="5.6" height="24.1" fill="#d4d4d4"/>
<rect x="152.4" y="446.7" width="5.6" height="11.9" fill="#a8a8a8"/>
<rect x="152.4" y="458.5" width="5.6" height="6.7" fill="#d4d4d4"/>
<rect x="152.4" y="465.1" width="5.6" height="12" fill="#a8a8a8"/>
<rect x="152.4" y="477" width="5.6" height="24.2" fill="#d4d4d4"/>
<rect x="152.4" y="501.1" width="5.6" height="16.9" fill="#a8a8a8"/>
<rect x="152.4" y="517.9" width="5.6" height="11.9" fill="#d4d4d4"/>
<rect x="152.4" y="529.7" width="5.6" height="12.8" fill="#a8a8a8"/>
<rect x="152.4" y="542.4" width="5.6" height="18" fill="#d4d4d4"/>
<rect x="152.4" y="560.3" width="5.6" height="7.1" fill="#a8a8a8"/>
<rect x="152.4" y="567.3" width="5.6" height="7.8" fill="#d4d4d4"/>
<rect x="152.4" y="575" width="5.6" height="14.1" fill="#a8a8a8"/>
<rect x="152.4" y="589" width="5.6" height="14.4" fill="#d4d4d4"/>
<rect x="152.4" y="603.3" width="5.6" height="13.5" fill="#a8a8a8"/>
<rect x="152.4" y="616.7" width="5.6" height="6.2" fill="#d4d4d4"/>
<rect x="152.4" y="622.8" width="5.6" height="16.6" fill="#a8a8a8"/>
<text x="144.2" y="372" font-size="9" text-anchor="middle">0</text>
<text x="144.2" y="388.3" font-size="9" text-anchor="middle">1</text>
<text x="144.2" y="400.2" font-size="9" text-anchor="middle">2</text>
<text x="144.2" y="418" font-size="9" text-anchor="middle">3</text>
<text x="144.2" y="438.1" font-size="9" text-anchor="middle">4</text>
<text x="144.2" y="454.5" font-size="9" text-anchor="middle">5</text>
<text x="144.2" y="465" font-size="9" text-anchor="middle">6</text>
<text x="144.2" y="476.2" font-size="9" text-anchor="middle">7</text>
<text x="144.2" y="493.2" font-size="9" text-anchor="middle">8</text>
<text x="144.2" y="513" font-size="9" text-anchor="middle">9</text>
<text x="142.6" y="527.4" font-size="9" text-anchor="middle">10</text>
<text x="142.6" y="540.6" font-size="9" text-anchor="middle">11</text>
<text x="142.6" y="553.7" font-size="9" text-anchor="middle">12</text>
<text x="142.6" y="565.3" font-size="9" text-anchor="middle">13</text>
<text x="142.6" y="576.2" font-size="9" text-anchor="middle">14</text>
<text x="142.6" y="587.6" font-size="9" text-anchor="middle">15</text>
<text x="142.6" y="600.2" font-size="9" text-anchor="middle">16</text>
<text x="142.6" y="613.3" font-size="9" text-anchor="middle">17</text>
<text x="142.6" y="623.9" font-size="9" text-anchor="middle">18</text>
<text x="142.6" y="636.3" font-size="9" text-anchor="middle">19</text>
<rect x="160.9" y="343" width="6.4" height="4.7" fill="#ff0000"/>
<text x="171.8" y="348" font-size="8.6">Upregulated</text>
<rect x="226.4" y="343" width="6.4" height="4.7" fill="#0000ff"/>
<text x="236.5" y="348" font-size="8.6">Downregulated</text>
<text x="32.3" y="344.2" font-size="15" font-weight="bold">b</text>
<text x="62.4" y="368.3" font-size="9.7" fill="#2f5da8">GO term</text>
<text x="112.8" y="398.3" font-size="8.5" text-anchor="end">isomerase activity</text>
<text x="58.7" y="412.8" font-size="8.5">hericase and</text>
<text x="58.7" y="422.7" font-size="8.5">ATPase actiity</text>
<text x="32.4" y="435.5" font-size="8.5">structural constituent</text>
<text x="32.4" y="445.4" font-size="8.5">of ribosome</text>
<text x="112.8" y="464.5" font-size="8.5" text-anchor="end">growth factor activity</text>
<text x="113.9" y="493" font-size="8.5" text-anchor="end">GTPase binding</text>
<text x="111.2" y="510" font-size="8.5" text-anchor="end">microtubule binding,</text>
<text x="113.9" y="520" font-size="8.5" text-anchor="end">tubulin binding</text>
<text x="111.2" y="535" font-size="8.5" text-anchor="end">peptidyl–proline</text>
<text x="113.9" y="545.1" font-size="8.5" text-anchor="end">dioxygenase activity</text>
<text x="113.9" y="559" font-size="8.5" text-anchor="end">cadherin binding</text>
<text x="113.9" y="571.5" font-size="8.5" text-anchor="end">cadherin binding, actin binding</text>
<text x="111.7" y="586.3" font-size="8.5" text-anchor="end">extracellular matrix</text>
<text x="113.9" y="596.6" font-size="8.5" text-anchor="end">structural constituent</text>
<text x="111.2" y="612.2" font-size="8.5" text-anchor="end">actin binding,</text>
<text x="113.9" y="622" font-size="8.5" text-anchor="end">Rho GTPase binding</text>
<text x="111.7" y="646.8" font-size="8.5" text-anchor="end">glycosaminoglycan</text>
<text x="113.9" y="657.5" font-size="8.5" text-anchor="end">binding</text>
<line x1="118.2" y1="397.2" x2="135.3" y2="397.2" stroke="#8fb0dc" stroke-width="0.8"/>
<line x1="118.2" y1="413.9" x2="135.3" y2="413.9" stroke="#8fb0dc" stroke-width="0.8"/>
<line x1="118.2" y1="434.9" x2="135.3" y2="434.9" stroke="#8fb0dc" stroke-width="0.8"/>
<line x1="118.2" y1="460.5" x2="135.3" y2="460.5" stroke="#8fb0dc" stroke-width="0.8"/>
<line x1="118.2" y1="490.5" x2="135.3" y2="490.5" stroke="#8fb0dc" stroke-width="0.8"/>
<line x1="118.2" y1="509.3" x2="135.3" y2="509.3" stroke="#8fb0dc" stroke-width="0.8"/>
<line x1="118.2" y1="535.6" x2="135.3" y2="535.6" stroke="#8fb0dc" stroke-width="0.8"/>
<line x1="118.2" y1="558.2" x2="134.7" y2="550.5" stroke="#8fb0dc" stroke-width="0.8"/>
<line x1="118.2" y1="569.6" x2="134.7" y2="562.1" stroke="#8fb0dc" stroke-width="0.8"/>
<line x1="117.1" y1="591.5" x2="135.8" y2="572.4" stroke="#8fb0dc" stroke-width="0.8"/>
<line x1="117.1" y1="606.3" x2="135.8" y2="587.7" stroke="#8fb0dc" stroke-width="0.8"/>
<line x1="117.1" y1="641" x2="136.2" y2="622.8" stroke="#8fb0dc" stroke-width="0.8"/>
<line x1="153.3" y1="640" x2="153.3" y2="642" stroke="#888" stroke-width="0.6"/>
<text x="156.3" y="644.4" font-size="8.8" text-anchor="end" transform="rotate(-90 156.3 644.4)">Cluster</text>
<line x1="165.1" y1="640" x2="165.1" y2="642" stroke="#888" stroke-width="0.6"/>
<text x="168.1" y="644.4" font-size="8.4" fill="#e2231a" text-anchor="end" transform="rotate(-90 168.1 644.4)">Rad21</text>
<line x1="177.9" y1="640" x2="177.9" y2="642" stroke="#888" stroke-width="0.6"/>
<text x="180.9" y="644.4" font-size="8.4" fill="#e2231a" text-anchor="end" transform="rotate(-90 180.9 644.4)">NIPBL</text>
<line x1="190.7" y1="640" x2="190.7" y2="642" stroke="#888" stroke-width="0.6"/>
<text x="193.7" y="644.4" font-size="8.4" fill="#e2231a" text-anchor="end" transform="rotate(-90 193.7 644.4)">Rad21 &amp; NIPNL</text>
<line x1="203.5" y1="640" x2="203.5" y2="642" stroke="#888" stroke-width="0.6"/>
<text x="206.5" y="644.4" font-size="8.4" fill="#e2231a" text-anchor="end" transform="rotate(-90 206.5 644.4)">Mau2</text>
<line x1="216.3" y1="640" x2="216.3" y2="642" stroke="#888" stroke-width="0.6"/>
<text x="219.3" y="644.4" font-size="8.4" fill="#2f5aa8" text-anchor="end" transform="rotate(-90 219.3 644.4)">WAPL</text>
<line x1="229.1" y1="640" x2="229.1" y2="642" stroke="#888" stroke-width="0.6"/>
<text x="232.1" y="644.4" font-size="8.4" fill="#2f5aa8" text-anchor="end" transform="rotate(-90 232.1 644.4)">PDS5A</text>
<line x1="241.9" y1="640" x2="241.9" y2="642" stroke="#888" stroke-width="0.6"/>
<text x="244.9" y="644.4" font-size="8.4" fill="#2f5aa8" text-anchor="end" transform="rotate(-90 244.9 644.4)">PDS5B</text>
<line x1="254.7" y1="640" x2="254.7" y2="642" stroke="#888" stroke-width="0.6"/>
<text x="257.7" y="644.4" font-size="8.4" fill="#2f5aa8" text-anchor="end" transform="rotate(-90 257.7 644.4)">PDS5A &amp; B</text>
<line x1="267.5" y1="640" x2="267.5" y2="642" stroke="#888" stroke-width="0.6"/>
<text x="270.5" y="644.4" font-size="8.4" fill="#a3a23a" text-anchor="end" transform="rotate(-90 270.5 644.4)">ESCO1</text>
<line x1="280.3" y1="640" x2="280.3" y2="642" stroke="#888" stroke-width="0.6"/>
<text x="283.3" y="644.4" font-size="8.4" fill="#a3a23a" text-anchor="end" transform="rotate(-90 283.3 644.4)">CTCF</text>
<line x1="293.1" y1="640" x2="293.1" y2="642" stroke="#888" stroke-width="0.6"/>
<text x="296.1" y="644.4" font-size="8.4" fill="#1f7a3f" text-anchor="end" transform="rotate(-90 296.1 644.4)">JQ1</text>
</g>
<g id="panel-c">
<text x="324" y="343.8" font-size="15" font-weight="bold">c</text>
<text x="369.3" y="333.7" font-size="10" fill="#222" text-anchor="middle">ChIP-seq</text>
<text x="369" y="345.9" font-size="10" fill="#222" text-anchor="middle">peaks</text>
<text x="461.4" y="333.3" font-size="10" fill="#222" text-anchor="middle">Hi-C</text>
<text x="461.4" y="345.6" font-size="10" fill="#222" text-anchor="middle">loops</text>
<defs><linearGradient id="gr" x1="0" y1="0" x2="0" y2="1"><stop offset="0" stop-color="#f00"/><stop offset=".5" stop-color="#fff"/><stop offset="1" stop-color="#00f"/></linearGradient></defs>
<rect x="398.2" y="317.9" width="9.7" height="34.1" fill="url(#gr)"/>
<rect x="486" y="317" width="9.2" height="34.2" fill="url(#gr)"/>
<line x1="407.9" y1="319.1" x2="411" y2="319.1" stroke="#111" stroke-width="0.9"/>
<line x1="407.9" y1="335.8" x2="411" y2="335.8" stroke="#111" stroke-width="0.9"/>
<text x="424" y="321.6" font-size="6.6" text-anchor="end">2.0</text>
<text x="424" y="338.2" font-size="6.6" text-anchor="end">0.0</text>
<text x="424" y="353.6" font-size="6.6" text-anchor="end">-2.0</text>
<line x1="495.2" y1="318.2" x2="498.7" y2="318.2" stroke="#111" stroke-width="0.9"/>
<line x1="495.2" y1="334.5" x2="498.7" y2="334.5" stroke="#111" stroke-width="0.9"/>
<line x1="495.2" y1="350.4" x2="498.7" y2="350.4" stroke="#111" stroke-width="0.9"/>
<text x="511.7" y="320.6" font-size="6.6" text-anchor="end">2.0</text>
<text x="511.7" y="336.9" font-size="6.6" text-anchor="end">0.0</text>
<text x="511.7" y="352.8" font-size="6.6" text-anchor="end">-2.0</text>
<rect x="337.3" y="359.25" width="12" height="13.56" fill="#f7f7ff"/><rect x="349.2" y="359.25" width="12" height="13.56" fill="#ffa1a1"/><rect x="361.1" y="359.25" width="12" height="13.56" fill="#e8e8ff"/><rect x="373" y="359.25" width="12" height="13.56" fill="#ffd6d6"/><rect x="384.9" y="359.25" width="12" height="13.56" fill="#ffeded"/><rect x="396.8" y="359.25" width="12" height="13.56" fill="#ffd9d9"/><rect x="408.7" y="359.25" width="12" height="13.56" fill="#ffd1d1"/><rect x="337.3" y="372.71" width="12" height="13.56" fill="#ffabab"/><rect x="349.2" y="372.71" width="12" height="13.56" fill="#ff7070"/><rect x="361.1" y="372.71" width="12" height="13.56" fill="#ffd9d9"/><rect x="373" y="372.71" width="12" height="13.56" fill="#ff7878"/><rect x="384.9" y="372.71" width="12" height="13.56" fill="#ff9999"/><rect x="396.8" y="372.71" width="12" height="13.56" fill="#ff9191"/><rect x="408.7" y="372.71" width="12" height="13.56" fill="#ffd6d6"/><rect x="337.3" y="386.18" width="12" height="13.56" fill="#e0e0ff"/><rect x="349.2" y="386.18" width="12" height="13.56" fill="#d9d9ff"/><rect x="361.1" y="386.18" width="12" height="13.56" fill="#e6e6ff"/><rect x="373" y="386.18" width="12" height="13.56" fill="#ff7878"/><rect x="384.9" y="386.18" width="12" height="13.56" fill="#fffcfc"/><rect x="396.8" y="386.18" width="12" height="13.56" fill="#ffe6e6"/><rect x="408.7" y="386.18" width="12" height="13.56" fill="#ffd1d1"/><rect x="337.3" y="399.64" width="12" height="13.56" fill="#b0b0ff"/><rect x="349.2" y="399.64" width="12" height="13.56" fill="#ababff"/><rect x="361.1" y="399.64" width="12" height="13.56" fill="#fff7f7"/><rect x="373" y="399.64" width="12" height="13.56" fill="#c4c4ff"/><rect x="384.9" y="399.64" width="12" height="13.56" fill="#8080ff"/><rect x="396.8" y="399.64" width="12" height="13.56" fill="#a1a1ff"/><rect x="408.7" y="399.64" width="12" height="13.56" fill="#6161ff"/><rect x="337.3" y="413.11" width="12" height="13.56" fill="#ffa8a8"/><rect x="349.2" y="413.11" width="12" height="13.56" fill="#ffa1a1"/><rect x="361.1" y="413.11" width="12" height="13.56" fill="#ffc9c9"/><rect x="373" y="413.11" width="12" height="13.56" fill="#ffa8a8"/><rect x="384.9" y="413.11" width="12" height="13.56" fill="#ffa1a1"/><rect x="396.8" y="413.11" width="12" height="13.56" fill="#ff9191"/><rect x="408.7" y="413.11" width="12" height="13.56" fill="#ffdbdb"/><rect x="337.3" y="426.57" width="12" height="13.56" fill="#ffa3a3"/><rect x="349.2" y="426.57" width="12" height="13.56" fill="#ffa1a1"/><rect x="361.1" y="426.57" width="12" height="13.56" fill="#ffe6e6"/><rect x="373" y="426.57" width="12" height="13.56" fill="#ffb0b0"/><rect x="384.9" y="426.57" width="12" height="13.56" fill="#ff4f4f"/><rect x="396.8" y="426.57" width="12" height="13.56" fill="#ffa1a1"/><rect x="408.7" y="426.57" width="12" height="13.56" fill="#ff3030"/><rect x="337.3" y="440.04" width="12" height="13.56" fill="#ff4040"/><rect x="349.2" y="440.04" width="12" height="13.56" fill="#ff5959"/><rect x="361.1" y="440.04" width="12" height="13.56" fill="#ffa8a8"/><rect x="373" y="440.04" width="12" height="13.56" fill="#ff4747"/><rect x="384.9" y="440.04" width="12" height="13.56" fill="#ff0808"/><rect x="396.8" y="440.04" width="12" height="13.56" fill="#ff4747"/><rect x="408.7" y="440.04" width="12" height="13.56" fill="#ff0f0f"/><rect x="337.3" y="453.5" width="12" height="13.56" fill="#ff9c9c"/><rect x="349.2" y="453.5" width="12" height="13.56" fill="#ffa1a1"/><rect x="361.1" y="453.5" width="12" height="13.56" fill="#ffd4d4"/><rect x="373" y="453.5" width="12" height="13.56" fill="#ff9191"/><rect x="384.9" y="453.5" width="12" height="13.56" fill="#ff9191"/><rect x="396.8" y="453.5" width="12" height="13.56" fill="#ff8080"/><rect x="408.7" y="453.5" width="12" height="13.56" fill="#ff4040"/><rect x="337.3" y="466.97" width="12" height="13.56" fill="#ffd1d1"/><rect x="349.2" y="466.97" width="12" height="13.56" fill="#b8b8ff"/><rect x="361.1" y="466.97" width="12" height="13.56" fill="#fffafa"/><rect x="373" y="466.97" width="12" height="13.56" fill="#ff9191"/><rect x="384.9" y="466.97" width="12" height="13.56" fill="#fcfcff"/><rect x="396.8" y="466.97" width="12" height="13.56" fill="#ffb0b0"/><rect x="408.7" y="466.97" width="12" height="13.56" fill="#fff5f5"/><rect x="337.3" y="480.44" width="12" height="13.56" fill="#6363ff"/><rect x="349.2" y="480.44" width="12" height="13.56" fill="#0505ff"/><rect x="361.1" y="480.44" width="12" height="13.56" fill="#b8b8ff"/><rect x="373" y="480.44" width="12" height="13.56" fill="#dbdbff"/><rect x="384.9" y="480.44" width="12" height="13.56" fill="#0303ff"/><rect x="396.8" y="480.44" width="12" height="13.56" fill="#4040ff"/><rect x="408.7" y="480.44" width="12" height="13.56" fill="#6969ff"/><rect x="337.3" y="493.9" width="12" height="13.56" fill="#ffa3a3"/><rect x="349.2" y="493.9" width="12" height="13.56" fill="#ffbfbf"/><rect x="361.1" y="493.9" width="12" height="13.56" fill="#ffeded"/><rect x="373" y="493.9" width="12" height="13.56" fill="#ff5c5c"/><rect x="384.9" y="493.9" width="12" height="13.56" fill="#ff6161"/><rect x="396.8" y="493.9" width="12" height="13.56" fill="#ffa8a8"/><rect x="408.7" y="493.9" width="12" height="13.56" fill="#ff5959"/><rect x="337.3" y="507.37" width="12" height="13.56" fill="#ff8787"/><rect x="349.2" y="507.37" width="12" height="13.56" fill="#e0e0ff"/><rect x="361.1" y="507.37" width="12" height="13.56" fill="#ffe0e0"/><rect x="373" y="507.37" width="12" height="13.56" fill="#ff8080"/><rect x="384.9" y="507.37" width="12" height="13.56" fill="#ffc7c7"/><rect x="396.8" y="507.37" width="12" height="13.56" fill="#ff8787"/><rect x="408.7" y="507.37" width="12" height="13.56" fill="#ff9999"/><rect x="337.3" y="520.83" width="12" height="13.56" fill="#ffd9d9"/><rect x="349.2" y="520.83" width="12" height="13.56" fill="#7878ff"/><rect x="361.1" y="520.83" width="12" height="13.56" fill="#f5f5ff"/><rect x="373" y="520.83" width="12" height="13.56" fill="#ffa1a1"/><rect x="384.9" y="520.83" width="12" height="13.56" fill="#bfbfff"/><rect x="396.8" y="520.83" width="12" height="13.56" fill="#ffbfbf"/><rect x="408.7" y="520.83" width="12" height="13.56" fill="#6363ff"/><rect x="337.3" y="534.29" width="12" height="13.56" fill="#ff9999"/><rect x="349.2" y="534.29" width="12" height="13.56" fill="#4f4fff"/><rect x="361.1" y="534.29" width="12" height="13.56" fill="#ffd1d1"/><rect x="373" y="534.29" width="12" height="13.56" fill="#ff3838"/><rect x="384.9" y="534.29" width="12" height="13.56" fill="#ffe0e0"/><rect x="396.8" y="534.29" width="12" height="13.56" fill="#ff6969"/><rect x="408.7" y="534.29" width="12" height="13.56" fill="#ffb0b0"/><rect x="337.3" y="547.76" width="12" height="13.56" fill="#ffa1a1"/><rect x="349.2" y="547.76" width="12" height="13.56" fill="#ffe8e8"/><rect x="361.1" y="547.76" width="12" height="13.56" fill="#ffd1d1"/><rect x="373" y="547.76" width="12" height="13.56" fill="#ff4747"/><rect x="384.9" y="547.76" width="12" height="13.56" fill="#ff8585"/><rect x="396.8" y="547.76" width="12" height="13.56" fill="#ff6b6b"/><rect x="408.7" y="547.76" width="12" height="13.56" fill="#ff5959"/><rect x="337.3" y="561.23" width="12" height="13.56" fill="#ffb0b0"/><rect x="349.2" y="561.23" width="12" height="13.56" fill="#5959ff"/><rect x="361.1" y="561.23" width="12" height="13.56" fill="#ffffff"/><rect x="373" y="561.23" width="12" height="13.56" fill="#ff7878"/><rect x="384.9" y="561.23" width="12" height="13.56" fill="#7070ff"/><rect x="396.8" y="561.23" width="12" height="13.56" fill="#ff9191"/><rect x="408.7" y="561.23" width="12" height="13.56" fill="#0000ff"/><rect x="337.3" y="574.69" width="12" height="13.56" fill="#ffd1d1"/><rect x="349.2" y="574.69" width="12" height="13.56" fill="#d4d4ff"/><rect x="361.1" y="574.69" width="12" height="13.56" fill="#fcfcff"/><rect x="373" y="574.69" width="12" height="13.56" fill="#ffb0b0"/><rect x="384.9" y="574.69" width="12" height="13.56" fill="#ffa1a1"/><rect x="396.8" y="574.69" width="12" height="13.56" fill="#ffbfbf"/><rect x="408.7" y="574.69" width="12" height="13.56" fill="#ffa8a8"/><rect x="337.3" y="588.15" width="12" height="13.56" fill="#ffa8a8"/><rect x="349.2" y="588.15" width="12" height="13.56" fill="#ffd9d9"/><rect x="361.1" y="588.15" width="12" height="13.56" fill="#ffd1d1"/><rect x="373" y="588.15" width="12" height="13.56" fill="#ff5959"/><rect x="384.9" y="588.15" width="12" height="13.56" fill="#ffbfbf"/><rect x="396.8" y="588.15" width="12" height="13.56" fill="#ffbfbf"/><rect x="408.7" y="588.15" width="12" height="13.56" fill="#ffebeb"/><rect x="337.3" y="601.62" width="12" height="13.56" fill="#ffe8e8"/><rect x="349.2" y="601.62" width="12" height="13.56" fill="#ff5c5c"/><rect x="361.1" y="601.62" width="12" height="13.56" fill="#ffffff"/><rect x="373" y="601.62" width="12" height="13.56" fill="#f7f7ff"/><rect x="384.9" y="601.62" width="12" height="13.56" fill="#ff4f4f"/><rect x="396.8" y="601.62" width="12" height="13.56" fill="#ffd9d9"/><rect x="408.7" y="601.62" width="12" height="13.56" fill="#ff4f4f"/><rect x="337.3" y="615.09" width="12" height="13.56" fill="#ff7373"/><rect x="349.2" y="615.09" width="12" height="13.56" fill="#ff7d7d"/><rect x="361.1" y="615.09" width="12" height="13.56" fill="#ff8080"/><rect x="373" y="615.09" width="12" height="13.56" fill="#ffe6e6"/><rect x="384.9" y="615.09" width="12" height="13.56" fill="#ffbfbf"/><rect x="396.8" y="615.09" width="12" height="13.56" fill="#ffd9d9"/><rect x="408.7" y="615.09" width="12" height="13.56" fill="#ffc7c7"/><path d="M337.3 359.25v269.3M349.2 359.25v269.3M361.1 359.25v269.3M373 359.25v269.3M384.9 359.25v269.3M396.8 359.25v269.3M408.7 359.25v269.3M420.6 359.25v269.3M337.3 359.25h83.3M337.3 372.71h83.3M337.3 386.18h83.3M337.3 399.64h83.3M337.3 413.11h83.3M337.3 426.57h83.3M337.3 440.04h83.3M337.3 453.5h83.3M337.3 466.97h83.3M337.3 480.44h83.3M337.3 493.9h83.3M337.3 507.37h83.3M337.3 520.83h83.3M337.3 534.29h83.3M337.3 547.76h83.3M337.3 561.23h83.3M337.3 574.69h83.3M337.3 588.15h83.3M337.3 601.62h83.3M337.3 615.09h83.3M337.3 628.55h83.3" stroke="#8c8c8c" stroke-width="0.55" fill="none"/><polygon points="343.25,377.95 343.76,379.14 345.06,379.26 344.08,380.12 344.37,381.38 343.25,380.72 342.13,381.38 342.42,380.12 341.44,379.26 342.74,379.14" fill="#111"/><polygon points="378.95,377.95 379.46,379.14 380.76,379.26 379.78,380.12 380.07,381.38 378.95,380.72 377.83,381.38 378.12,380.12 377.14,379.26 378.44,379.14" fill="#111"/><polygon points="402.75,377.95 403.26,379.14 404.56,379.26 403.58,380.12 403.87,381.38 402.75,380.72 401.63,381.38 401.92,380.12 400.94,379.26 402.24,379.14" fill="#111"/><polygon points="378.95,391.41 379.46,392.61 380.76,392.73 379.78,393.58 380.07,394.85 378.95,394.19 377.83,394.85 378.12,393.58 377.14,392.73 378.44,392.61" fill="#111"/><polygon points="402.75,404.88 403.26,406.07 404.56,406.19 403.58,407.05 403.87,408.31 402.75,407.65 401.63,408.31 401.92,407.05 400.94,406.19 402.24,406.07" fill="#111"/><polygon points="343.25,418.34 343.76,419.54 345.06,419.66 344.08,420.51 344.37,421.78 343.25,421.12 342.13,421.78 342.42,420.51 341.44,419.66 342.74,419.54" fill="#111"/><polygon points="367.05,418.34 367.56,419.54 368.86,419.66 367.88,420.51 368.17,421.78 367.05,421.12 365.93,421.78 366.22,420.51 365.24,419.66 366.54,419.54" fill="#111"/><polygon points="378.95,418.34 379.46,419.54 380.76,419.66 379.78,420.51 380.07,421.78 378.95,421.12 377.83,421.78 378.12,420.51 377.14,419.66 378.44,419.54" fill="#111"/><polygon points="402.75,418.34 403.26,419.54 404.56,419.66 403.58,420.51 403.87,421.78 402.75,421.12 401.63,421.78 401.92,420.51 400.94,419.66 402.24,419.54" fill="#111"/><polygon points="343.25,431.81 343.76,433 345.06,433.12 344.08,433.98 344.37,435.24 343.25,434.58 342.13,435.24 342.42,433.98 341.44,433.12 342.74,433" fill="#111"/><polygon points="390.85,431.81 391.36,433 392.66,433.12 391.68,433.98 391.97,435.24 390.85,434.58 389.73,435.24 390.02,433.98 389.04,433.12 390.34,433" fill="#111"/><polygon points="402.75,431.81 403.26,433 404.56,433.12 403.58,433.98 403.87,435.24 402.75,434.58 401.63,435.24 401.92,433.98 400.94,433.12 402.24,433" fill="#111"/><polygon points="414.65,431.81 415.16,433 416.46,433.12 415.48,433.98 415.77,435.24 414.65,434.58 413.53,435.24 413.82,433.98 412.84,433.12 414.14,433" fill="#111"/><polygon points="343.25,445.27 343.76,446.47 345.06,446.59 344.08,447.44 344.37,448.71 343.25,448.05 342.13,448.71 342.42,447.44 341.44,446.59 342.74,446.47" fill="#111"/><polygon points="367.05,445.27 367.56,446.47 368.86,446.59 367.88,447.44 368.17,448.71 367.05,448.05 365.93,448.71 366.22,447.44 365.24,446.59 366.54,446.47" fill="#111"/><polygon points="378.95,445.27 379.46,446.47 380.76,446.59 379.78,447.44 380.07,448.71 378.95,448.05 377.83,448.71 378.12,447.44 377.14,446.59 378.44,446.47" fill="#111"/><polygon points="390.85,445.27 391.36,446.47 392.66,446.59 391.68,447.44 391.97,448.71 390.85,448.05 389.73,448.71 390.02,447.44 389.04,446.59 390.34,446.47" fill="#111"/><polygon points="402.75,445.27 403.26,446.47 404.56,446.59 403.58,447.44 403.87,448.71 402.75,448.05 401.63,448.71 401.92,447.44 400.94,446.59 402.24,446.47" fill="#111"/><polygon points="414.65,445.27 415.16,446.47 416.46,446.59 415.48,447.44 415.77,448.71 414.65,448.05 413.53,448.71 413.82,447.44 412.84,446.59 414.14,446.47" fill="#111"/><polygon points="343.25,458.74 343.76,459.93 345.06,460.05 344.08,460.91 344.37,462.17 343.25,461.51 342.13,462.17 342.42,460.91 341.44,460.05 342.74,459.93" fill="#111"/><polygon points="378.95,458.74 379.46,459.93 380.76,460.05 379.78,460.91 380.07,462.17 378.95,461.51 377.83,462.17 378.12,460.91 377.14,460.05 378.44,459.93" fill="#111"/><polygon points="402.75,458.74 403.26,459.93 404.56,460.05 403.58,460.91 403.87,462.17 402.75,461.51 401.63,462.17 401.92,460.91 400.94,460.05 402.24,459.93" fill="#111"/><polygon points="414.65,458.74 415.16,459.93 416.46,460.05 415.48,460.91 415.77,462.17 414.65,461.51 413.53,462.17 413.82,460.91 412.84,460.05 414.14,459.93" fill="#111"/><polygon points="378.95,472.2 379.46,473.4 380.76,473.52 379.78,474.37 380.07,475.64 378.95,474.98 377.83,475.64 378.12,474.37 377.14,473.52 378.44,473.4" fill="#111"/><polygon points="402.75,472.2 403.26,473.4 404.56,473.52 403.58,474.37 403.87,475.64 402.75,474.98 401.63,475.64 401.92,474.37 400.94,473.52 402.24,473.4" fill="#111"/><polygon points="343.25,485.67 343.76,486.86 345.06,486.98 344.08,487.84 344.37,489.1 343.25,488.44 342.13,489.1 342.42,487.84 341.44,486.98 342.74,486.86" fill="#111"/><polygon points="355.15,485.67 355.66,486.86 356.96,486.98 355.98,487.84 356.27,489.1 355.15,488.44 354.03,489.1 354.32,487.84 353.34,486.98 354.64,486.86" fill="#111"/><polygon points="367.05,485.67 367.56,486.86 368.86,486.98 367.88,487.84 368.17,489.1 367.05,488.44 365.93,489.1 366.22,487.84 365.24,486.98 366.54,486.86" fill="#111"/><polygon points="402.75,485.67 403.26,486.86 404.56,486.98 403.58,487.84 403.87,489.1 402.75,488.44 401.63,489.1 401.92,487.84 400.94,486.98 402.24,486.86" fill="#111"/><polygon points="343.25,499.13 343.76,500.33 345.06,500.45 344.08,501.3 344.37,502.57 343.25,501.91 342.13,502.57 342.42,501.3 341.44,500.45 342.74,500.33" fill="#111"/><polygon points="378.95,499.13 379.46,500.33 380.76,500.45 379.78,501.3 380.07,502.57 378.95,501.91 377.83,502.57 378.12,501.3 377.14,500.45 378.44,500.33" fill="#111"/><polygon points="390.85,499.13 391.36,500.33 392.66,500.45 391.68,501.3 391.97,502.57 390.85,501.91 389.73,502.57 390.02,501.3 389.04,500.45 390.34,500.33" fill="#111"/><polygon points="402.75,499.13 403.26,500.33 404.56,500.45 403.58,501.3 403.87,502.57 402.75,501.91 401.63,502.57 401.92,501.3 400.94,500.45 402.24,500.33" fill="#111"/><polygon points="343.25,512.6 343.76,513.79 345.06,513.91 344.08,514.77 344.37,516.03 343.25,515.37 342.13,516.03 342.42,514.77 341.44,513.91 342.74,513.79" fill="#111"/><polygon points="378.95,512.6 379.46,513.79 380.76,513.91 379.78,514.77 380.07,516.03 378.95,515.37 377.83,516.03 378.12,514.77 377.14,513.91 378.44,513.79" fill="#111"/><polygon points="402.75,512.6 403.26,513.79 404.56,513.91 403.58,514.77 403.87,516.03 402.75,515.37 401.63,516.03 401.92,514.77 400.94,513.91 402.24,513.79" fill="#111"/><polygon points="378.95,526.06 379.46,527.26 380.76,527.38 379.78,528.23 380.07,529.5 378.95,528.84 377.83,529.5 378.12,528.23 377.14,527.38 378.44,527.26" fill="#111"/><polygon points="402.75,526.06 403.26,527.26 404.56,527.38 403.58,528.23 403.87,529.5 402.75,528.84 401.63,529.5 401.92,528.23 400.94,527.38 402.24,527.26" fill="#111"/><polygon points="343.25,539.53 343.76,540.72 345.06,540.84 344.08,541.7 344.37,542.96 343.25,542.3 342.13,542.96 342.42,541.7 341.44,540.84 342.74,540.72" fill="#111"/><polygon points="378.95,539.53 379.46,540.72 380.76,540.84 379.78,541.7 380.07,542.96 378.95,542.3 377.83,542.96 378.12,541.7 377.14,540.84 378.44,540.72" fill="#111"/><polygon points="402.75,539.53 403.26,540.72 404.56,540.84 403.58,541.7 403.87,542.96 402.75,542.3 401.63,542.96 401.92,541.7 400.94,540.84 402.24,540.72" fill="#111"/><polygon points="343.25,552.99 343.76,554.19 345.06,554.31 344.08,555.16 344.37,556.43 343.25,555.77 342.13,556.43 342.42,555.16 341.44,554.31 342.74,554.19" fill="#111"/><polygon points="378.95,552.99 379.46,554.19 380.76,554.31 379.78,555.16 380.07,556.43 378.95,555.77 377.83,556.43 378.12,555.16 377.14,554.31 378.44,554.19" fill="#111"/><polygon points="402.75,552.99 403.26,554.19 404.56,554.31 403.58,555.16 403.87,556.43 402.75,555.77 401.63,556.43 401.92,555.16 400.94,554.31 402.24,554.19" fill="#111"/><polygon points="343.25,566.46 343.76,567.65 345.06,567.77 344.08,568.63 344.37,569.89 343.25,569.23 342.13,569.89 342.42,568.63 341.44,567.77 342.74,567.65" fill="#111"/><polygon points="378.95,566.46 379.46,567.65 380.76,567.77 379.78,568.63 380.07,569.89 378.95,569.23 377.83,569.89 378.12,568.63 377.14,567.77 378.44,567.65" fill="#111"/><polygon points="402.75,566.46 403.26,567.65 404.56,567.77 403.58,568.63 403.87,569.89 402.75,569.23 401.63,569.89 401.92,568.63 400.94,567.77 402.24,567.65" fill="#111"/><polygon points="378.95,579.92 379.46,581.12 380.76,581.24 379.78,582.09 380.07,583.36 378.95,582.7 377.83,583.36 378.12,582.09 377.14,581.24 378.44,581.12" fill="#111"/><polygon points="343.25,593.39 343.76,594.58 345.06,594.7 344.08,595.56 344.37,596.82 343.25,596.16 342.13,596.82 342.42,595.56 341.44,594.7 342.74,594.58" fill="#111"/><polygon points="378.95,593.39 379.46,594.58 380.76,594.7 379.78,595.56 380.07,596.82 378.95,596.16 377.83,596.82 378.12,595.56 377.14,594.7 378.44,594.58" fill="#111"/><polygon points="402.75,593.39 403.26,594.58 404.56,594.7 403.58,595.56 403.87,596.82 402.75,596.16 401.63,596.82 401.92,595.56 400.94,594.7 402.24,594.58" fill="#111"/><polygon points="343.25,620.32 343.76,621.51 345.06,621.63 344.08,622.49 344.37,623.75 343.25,623.09 342.13,623.75 342.42,622.49 341.44,621.63 342.74,621.51" fill="#111"/><polygon points="367.05,620.32 367.56,621.51 368.86,621.63 367.88,622.49 368.17,623.75 367.05,623.09 365.93,623.75 366.22,622.49 365.24,621.63 366.54,621.51" fill="#111"/>
<rect x="428.4" y="359.25" width="13.97" height="13.56" fill="#ffeded"/><rect x="442.27" y="359.25" width="13.97" height="13.56" fill="#ffe6e6"/><rect x="456.14" y="359.25" width="13.97" height="13.56" fill="#ffeded"/><rect x="470.01" y="359.25" width="13.97" height="13.56" fill="#fff5f5"/><rect x="483.88" y="359.25" width="13.97" height="13.56" fill="#ffe0e0"/><rect x="497.75" y="359.25" width="13.97" height="13.56" fill="#fff0f0"/><rect x="428.4" y="372.71" width="13.97" height="13.56" fill="#ffdbdb"/><rect x="442.27" y="372.71" width="13.97" height="13.56" fill="#ffb5b5"/><rect x="456.14" y="372.71" width="13.97" height="13.56" fill="#ff8787"/><rect x="470.01" y="372.71" width="13.97" height="13.56" fill="#ffb0b0"/><rect x="483.88" y="372.71" width="13.97" height="13.56" fill="#ffbdbd"/><rect x="497.75" y="372.71" width="13.97" height="13.56" fill="#ffe0e0"/><rect x="428.4" y="386.18" width="13.97" height="13.56" fill="#d4d4ff"/><rect x="442.27" y="386.18" width="13.97" height="13.56" fill="#d1d1ff"/><rect x="456.14" y="386.18" width="13.97" height="13.56" fill="#8787ff"/><rect x="470.01" y="386.18" width="13.97" height="13.56" fill="#d1d1ff"/><rect x="483.88" y="386.18" width="13.97" height="13.56" fill="#d1d1ff"/><rect x="497.75" y="386.18" width="13.97" height="13.56" fill="#d1d1ff"/><rect x="428.4" y="399.64" width="13.97" height="13.56" fill="#fff0f0"/><rect x="442.27" y="399.64" width="13.97" height="13.56" fill="#fffafa"/><rect x="456.14" y="399.64" width="13.97" height="13.56" fill="#ededff"/><rect x="470.01" y="399.64" width="13.97" height="13.56" fill="#ffe8e8"/><rect x="483.88" y="399.64" width="13.97" height="13.56" fill="#ffe8e8"/><rect x="497.75" y="399.64" width="13.97" height="13.56" fill="#f0f0ff"/><rect x="428.4" y="413.11" width="13.97" height="13.56" fill="#ffe8e8"/><rect x="442.27" y="413.11" width="13.97" height="13.56" fill="#ffb5b5"/><rect x="456.14" y="413.11" width="13.97" height="13.56" fill="#ffeded"/><rect x="470.01" y="413.11" width="13.97" height="13.56" fill="#ffbfbf"/><rect x="483.88" y="413.11" width="13.97" height="13.56" fill="#fff5f5"/><rect x="497.75" y="413.11" width="13.97" height="13.56" fill="#ffb5b5"/><rect x="428.4" y="426.57" width="13.97" height="13.56" fill="#ffe0e0"/><rect x="442.27" y="426.57" width="13.97" height="13.56" fill="#ffb0b0"/><rect x="456.14" y="426.57" width="13.97" height="13.56" fill="#ffb8b8"/><rect x="470.01" y="426.57" width="13.97" height="13.56" fill="#ffb5b5"/><rect x="483.88" y="426.57" width="13.97" height="13.56" fill="#ffd9d9"/><rect x="497.75" y="426.57" width="13.97" height="13.56" fill="#ffb8b8"/><rect x="428.4" y="440.04" width="13.97" height="13.56" fill="#ffb0b0"/><rect x="442.27" y="440.04" width="13.97" height="13.56" fill="#ff7070"/><rect x="456.14" y="440.04" width="13.97" height="13.56" fill="#ff8080"/><rect x="470.01" y="440.04" width="13.97" height="13.56" fill="#ff9191"/><rect x="483.88" y="440.04" width="13.97" height="13.56" fill="#ff9c9c"/><rect x="497.75" y="440.04" width="13.97" height="13.56" fill="#ff9999"/><rect x="428.4" y="453.5" width="13.97" height="13.56" fill="#ffbfbf"/><rect x="442.27" y="453.5" width="13.97" height="13.56" fill="#ffa1a1"/><rect x="456.14" y="453.5" width="13.97" height="13.56" fill="#ff8585"/><rect x="470.01" y="453.5" width="13.97" height="13.56" fill="#ffa1a1"/><rect x="483.88" y="453.5" width="13.97" height="13.56" fill="#ffb8b8"/><rect x="497.75" y="453.5" width="13.97" height="13.56" fill="#ffb8b8"/><rect x="428.4" y="466.97" width="13.97" height="13.56" fill="#ffe8e8"/><rect x="442.27" y="466.97" width="13.97" height="13.56" fill="#ffd1d1"/><rect x="456.14" y="466.97" width="13.97" height="13.56" fill="#f0f0ff"/><rect x="470.01" y="466.97" width="13.97" height="13.56" fill="#ffe6e6"/><rect x="483.88" y="466.97" width="13.97" height="13.56" fill="#ffe0e0"/><rect x="497.75" y="466.97" width="13.97" height="13.56" fill="#fff0f0"/><rect x="428.4" y="480.44" width="13.97" height="13.56" fill="#f5f5ff"/><rect x="442.27" y="480.44" width="13.97" height="13.56" fill="#d4d4ff"/><rect x="456.14" y="480.44" width="13.97" height="13.56" fill="#9999ff"/><rect x="470.01" y="480.44" width="13.97" height="13.56" fill="#f0f0ff"/><rect x="483.88" y="480.44" width="13.97" height="13.56" fill="#dbdbff"/><rect x="497.75" y="480.44" width="13.97" height="13.56" fill="#fffcfc"/><rect x="428.4" y="493.9" width="13.97" height="13.56" fill="#ffd1d1"/><rect x="442.27" y="493.9" width="13.97" height="13.56" fill="#ffb8b8"/><rect x="456.14" y="493.9" width="13.97" height="13.56" fill="#ffe6e6"/><rect x="470.01" y="493.9" width="13.97" height="13.56" fill="#ffd9d9"/><rect x="483.88" y="493.9" width="13.97" height="13.56" fill="#ffc7c7"/><rect x="497.75" y="493.9" width="13.97" height="13.56" fill="#ffbfbf"/><rect x="428.4" y="507.37" width="13.97" height="13.56" fill="#ffe0e0"/><rect x="442.27" y="507.37" width="13.97" height="13.56" fill="#ffbfbf"/><rect x="456.14" y="507.37" width="13.97" height="13.56" fill="#e8e8ff"/><rect x="470.01" y="507.37" width="13.97" height="13.56" fill="#ffeded"/><rect x="483.88" y="507.37" width="13.97" height="13.56" fill="#ffbfbf"/><rect x="497.75" y="507.37" width="13.97" height="13.56" fill="#ffd9d9"/><rect x="428.4" y="520.83" width="13.97" height="13.56" fill="#fcfcff"/><rect x="442.27" y="520.83" width="13.97" height="13.56" fill="#f0f0ff"/><rect x="456.14" y="520.83" width="13.97" height="13.56" fill="#7878ff"/><rect x="470.01" y="520.83" width="13.97" height="13.56" fill="#dbdbff"/><rect x="483.88" y="520.83" width="13.97" height="13.56" fill="#ffffff"/><rect x="497.75" y="520.83" width="13.97" height="13.56" fill="#f5f5ff"/><rect x="428.4" y="534.29" width="13.97" height="13.56" fill="#ffc7c7"/><rect x="442.27" y="534.29" width="13.97" height="13.56" fill="#ffc7c7"/><rect x="456.14" y="534.29" width="13.97" height="13.56" fill="#8787ff"/><rect x="470.01" y="534.29" width="13.97" height="13.56" fill="#fcfcff"/><rect x="483.88" y="534.29" width="13.97" height="13.56" fill="#ffb8b8"/><rect x="497.75" y="534.29" width="13.97" height="13.56" fill="#ffe8e8"/><rect x="428.4" y="547.76" width="13.97" height="13.56" fill="#ffc7c7"/><rect x="442.27" y="547.76" width="13.97" height="13.56" fill="#ffa1a1"/><rect x="456.14" y="547.76" width="13.97" height="13.56" fill="#fffafa"/><rect x="470.01" y="547.76" width="13.97" height="13.56" fill="#ffb0b0"/><rect x="483.88" y="547.76" width="13.97" height="13.56" fill="#ffbfbf"/><rect x="497.75" y="547.76" width="13.97" height="13.56" fill="#ffb0b0"/><rect x="428.4" y="561.23" width="13.97" height="13.56" fill="#ffe8e8"/><rect x="442.27" y="561.23" width="13.97" height="13.56" fill="#fff0f0"/><rect x="456.14" y="561.23" width="13.97" height="13.56" fill="#d1d1ff"/><rect x="470.01" y="561.23" width="13.97" height="13.56" fill="#fffafa"/><rect x="483.88" y="561.23" width="13.97" height="13.56" fill="#ffc7c7"/><rect x="497.75" y="561.23" width="13.97" height="13.56" fill="#f5f5ff"/><rect x="428.4" y="574.69" width="13.97" height="13.56" fill="#ffd1d1"/><rect x="442.27" y="574.69" width="13.97" height="13.56" fill="#ffb5b5"/><rect x="456.14" y="574.69" width="13.97" height="13.56" fill="#ffc7c7"/><rect x="470.01" y="574.69" width="13.97" height="13.56" fill="#ffbfbf"/><rect x="483.88" y="574.69" width="13.97" height="13.56" fill="#ffc7c7"/><rect x="497.75" y="574.69" width="13.97" height="13.56" fill="#ffd4d4"/><rect x="428.4" y="588.15" width="13.97" height="13.56" fill="#ffd1d1"/><rect x="442.27" y="588.15" width="13.97" height="13.56" fill="#ffa8a8"/><rect x="456.14" y="588.15" width="13.97" height="13.56" fill="#ffa8a8"/><rect x="470.01" y="588.15" width="13.97" height="13.56" fill="#ffb5b5"/><rect x="483.88" y="588.15" width="13.97" height="13.56" fill="#ffc4c4"/><rect x="497.75" y="588.15" width="13.97" height="13.56" fill="#ffd4d4"/><rect x="428.4" y="601.62" width="13.97" height="13.56" fill="#ffd1d1"/><rect x="442.27" y="601.62" width="13.97" height="13.56" fill="#ffc7c7"/><rect x="456.14" y="601.62" width="13.97" height="13.56" fill="#ffb0b0"/><rect x="470.01" y="601.62" width="13.97" height="13.56" fill="#ffbfbf"/><rect x="483.88" y="601.62" width="13.97" height="13.56" fill="#ffe0e0"/><rect x="497.75" y="601.62" width="13.97" height="13.56" fill="#ffa3a3"/><rect x="428.4" y="615.09" width="13.97" height="13.56" fill="#fffcfc"/><rect x="442.27" y="615.09" width="13.97" height="13.56" fill="#ffffff"/><rect x="456.14" y="615.09" width="13.97" height="13.56" fill="#c7c7ff"/><rect x="470.01" y="615.09" width="13.97" height="13.56" fill="#fff5f5"/><rect x="483.88" y="615.09" width="13.97" height="13.56" fill="#f7f7ff"/><rect x="497.75" y="615.09" width="13.97" height="13.56" fill="#fffcfc"/><path d="M428.4 359.25v269.3M442.27 359.25v269.3M456.14 359.25v269.3M470.01 359.25v269.3M483.88 359.25v269.3M497.75 359.25v269.3M511.62 359.25v269.3M428.4 359.25h83.22M428.4 372.71h83.22M428.4 386.18h83.22M428.4 399.64h83.22M428.4 413.11h83.22M428.4 426.57h83.22M428.4 440.04h83.22M428.4 453.5h83.22M428.4 466.97h83.22M428.4 480.44h83.22M428.4 493.9h83.22M428.4 507.37h83.22M428.4 520.83h83.22M428.4 534.29h83.22M428.4 547.76h83.22M428.4 561.23h83.22M428.4 574.69h83.22M428.4 588.15h83.22M428.4 601.62h83.22M428.4 615.09h83.22M428.4 628.55h83.22" stroke="#8c8c8c" stroke-width="0.55" fill="none"/><polygon points="449.2,377.95 449.72,379.14 451.01,379.26 450.04,380.12 450.32,381.38 449.2,380.72 448.09,381.38 448.37,380.12 447.4,379.26 448.69,379.14" fill="#111"/><polygon points="463.07,377.95 463.59,379.14 464.88,379.26 463.91,380.12 464.19,381.38 463.07,380.72 461.96,381.38 462.24,380.12 461.27,379.26 462.56,379.14" fill="#111"/><polygon points="476.94,377.95 477.46,379.14 478.75,379.26 477.78,380.12 478.06,381.38 476.94,380.72 475.83,381.38 476.11,380.12 475.14,379.26 476.43,379.14" fill="#111"/><polygon points="490.81,377.95 491.33,379.14 492.62,379.26 491.65,380.12 491.93,381.38 490.81,380.72 489.7,381.38 489.98,380.12 489.01,379.26 490.3,379.14" fill="#111"/><polygon points="435.33,391.41 435.85,392.61 437.14,392.73 436.17,393.58 436.45,394.85 435.33,394.19 434.22,394.85 434.5,393.58 433.53,392.73 434.82,392.61" fill="#111"/><polygon points="449.2,418.34 449.72,419.54 451.01,419.66 450.04,420.51 450.32,421.78 449.2,421.12 448.09,421.78 448.37,420.51 447.4,419.66 448.69,419.54" fill="#111"/><polygon points="476.94,418.34 477.46,419.54 478.75,419.66 477.78,420.51 478.06,421.78 476.94,421.12 475.83,421.78 476.11,420.51 475.14,419.66 476.43,419.54" fill="#111"/><polygon points="504.68,418.34 505.2,419.54 506.49,419.66 505.52,420.51 505.8,421.78 504.68,421.12 503.57,421.78 503.85,420.51 502.88,419.66 504.17,419.54" fill="#111"/><polygon points="449.2,431.81 449.72,433 451.01,433.12 450.04,433.98 450.32,435.24 449.2,434.58 448.09,435.24 448.37,433.98 447.4,433.12 448.69,433" fill="#111"/><polygon points="476.94,431.81 477.46,433 478.75,433.12 477.78,433.98 478.06,435.24 476.94,434.58 475.83,435.24 476.11,433.98 475.14,433.12 476.43,433" fill="#111"/><polygon points="504.68,431.81 505.2,433 506.49,433.12 505.52,433.98 505.8,435.24 504.68,434.58 503.57,435.24 503.85,433.98 502.88,433.12 504.17,433" fill="#111"/><polygon points="435.33,445.27 435.85,446.47 437.14,446.59 436.17,447.44 436.45,448.71 435.33,448.05 434.22,448.71 434.5,447.44 433.53,446.59 434.82,446.47" fill="#111"/><polygon points="449.2,445.27 449.72,446.47 451.01,446.59 450.04,447.44 450.32,448.71 449.2,448.05 448.09,448.71 448.37,447.44 447.4,446.59 448.69,446.47" fill="#111"/><polygon points="476.94,445.27 477.46,446.47 478.75,446.59 477.78,447.44 478.06,448.71 476.94,448.05 475.83,448.71 476.11,447.44 475.14,446.59 476.43,446.47" fill="#111"/><polygon points="490.81,445.27 491.33,446.47 492.62,446.59 491.65,447.44 491.93,448.71 490.81,448.05 489.7,448.71 489.98,447.44 489.01,446.59 490.3,446.47" fill="#111"/><polygon points="504.68,445.27 505.2,446.47 506.49,446.59 505.52,447.44 505.8,448.71 504.68,448.05 503.57,448.71 503.85,447.44 502.88,446.59 504.17,446.47" fill="#111"/><polygon points="435.33,458.74 435.85,459.93 437.14,460.05 436.17,460.91 436.45,462.17 435.33,461.51 434.22,462.17 434.5,460.91 433.53,460.05 434.82,459.93" fill="#111"/><polygon points="449.2,458.74 449.72,459.93 451.01,460.05 450.04,460.91 450.32,462.17 449.2,461.51 448.09,462.17 448.37,460.91 447.4,460.05 448.69,459.93" fill="#111"/><polygon points="463.07,458.74 463.59,459.93 464.88,460.05 463.91,460.91 464.19,462.17 463.07,461.51 461.96,462.17 462.24,460.91 461.27,460.05 462.56,459.93" fill="#111"/><polygon points="476.94,458.74 477.46,459.93 478.75,460.05 477.78,460.91 478.06,462.17 476.94,461.51 475.83,462.17 476.11,460.91 475.14,460.05 476.43,459.93" fill="#111"/><polygon points="490.81,458.74 491.33,459.93 492.62,460.05 491.65,460.91 491.93,462.17 490.81,461.51 489.7,462.17 489.98,460.91 489.01,460.05 490.3,459.93" fill="#111"/><polygon points="504.68,458.74 505.2,459.93 506.49,460.05 505.52,460.91 505.8,462.17 504.68,461.51 503.57,462.17 503.85,460.91 502.88,460.05 504.17,459.93" fill="#111"/><polygon points="449.2,472.2 449.72,473.4 451.01,473.52 450.04,474.37 450.32,475.64 449.2,474.98 448.09,475.64 448.37,474.37 447.4,473.52 448.69,473.4" fill="#111"/><polygon points="435.33,499.13 435.85,500.33 437.14,500.45 436.17,501.3 436.45,502.57 435.33,501.91 434.22,502.57 434.5,501.3 433.53,500.45 434.82,500.33" fill="#111"/><polygon points="449.2,499.13 449.72,500.33 451.01,500.45 450.04,501.3 450.32,502.57 449.2,501.91 448.09,502.57 448.37,501.3 447.4,500.45 448.69,500.33" fill="#111"/><polygon points="490.81,499.13 491.33,500.33 492.62,500.45 491.65,501.3 491.93,502.57 490.81,501.91 489.7,502.57 489.98,501.3 489.01,500.45 490.3,500.33" fill="#111"/><polygon points="504.68,499.13 505.2,500.33 506.49,500.45 505.52,501.3 505.8,502.57 504.68,501.91 503.57,502.57 503.85,501.3 502.88,500.45 504.17,500.33" fill="#111"/><polygon points="449.2,512.6 449.72,513.79 451.01,513.91 450.04,514.77 450.32,516.03 449.2,515.37 448.09,516.03 448.37,514.77 447.4,513.91 448.69,513.79" fill="#111"/><polygon points="490.81,512.6 491.33,513.79 492.62,513.91 491.65,514.77 491.93,516.03 490.81,515.37 489.7,516.03 489.98,514.77 489.01,513.91 490.3,513.79" fill="#111"/><polygon points="463.07,526.06 463.59,527.26 464.88,527.38 463.91,528.23 464.19,529.5 463.07,528.84 461.96,529.5 462.24,528.23 461.27,527.38 462.56,527.26" fill="#111"/><polygon points="435.33,539.53 435.85,540.72 437.14,540.84 436.17,541.7 436.45,542.96 435.33,542.3 434.22,542.96 434.5,541.7 433.53,540.84 434.82,540.72" fill="#111"/><polygon points="490.81,539.53 491.33,540.72 492.62,540.84 491.65,541.7 491.93,542.96 490.81,542.3 489.7,542.96 489.98,541.7 489.01,540.84 490.3,540.72" fill="#111"/><polygon points="435.33,552.99 435.85,554.19 437.14,554.31 436.17,555.16 436.45,556.43 435.33,555.77 434.22,556.43 434.5,555.16 433.53,554.31 434.82,554.19" fill="#111"/><polygon points="449.2,552.99 449.72,554.19 451.01,554.31 450.04,555.16 450.32,556.43 449.2,555.77 448.09,556.43 448.37,555.16 447.4,554.31 448.69,554.19" fill="#111"/><polygon points="490.81,552.99 491.33,554.19 492.62,554.31 491.65,555.16 491.93,556.43 490.81,555.77 489.7,556.43 489.98,555.16 489.01,554.31 490.3,554.19" fill="#111"/><polygon points="504.68,552.99 505.2,554.19 506.49,554.31 505.52,555.16 505.8,556.43 504.68,555.77 503.57,556.43 503.85,555.16 502.88,554.31 504.17,554.19" fill="#111"/><polygon points="490.81,566.46 491.33,567.65 492.62,567.77 491.65,568.63 491.93,569.89 490.81,569.23 489.7,569.89 489.98,568.63 489.01,567.77 490.3,567.65" fill="#111"/><polygon points="435.33,579.92 435.85,581.12 437.14,581.24 436.17,582.09 436.45,583.36 435.33,582.7 434.22,583.36 434.5,582.09 433.53,581.24 434.82,581.12" fill="#111"/><polygon points="449.2,579.92 449.72,581.12 451.01,581.24 450.04,582.09 450.32,583.36 449.2,582.7 448.09,583.36 448.37,582.09 447.4,581.24 448.69,581.12" fill="#111"/><polygon points="476.94,579.92 477.46,581.12 478.75,581.24 477.78,582.09 478.06,583.36 476.94,582.7 475.83,583.36 476.11,582.09 475.14,581.24 476.43,581.12" fill="#111"/><polygon points="490.81,579.92 491.33,581.12 492.62,581.24 491.65,582.09 491.93,583.36 490.81,582.7 489.7,583.36 489.98,582.09 489.01,581.24 490.3,581.12" fill="#111"/><polygon points="435.33,593.39 435.85,594.58 437.14,594.7 436.17,595.56 436.45,596.82 435.33,596.16 434.22,596.82 434.5,595.56 433.53,594.7 434.82,594.58" fill="#111"/><polygon points="449.2,593.39 449.72,594.58 451.01,594.7 450.04,595.56 450.32,596.82 449.2,596.16 448.09,596.82 448.37,595.56 447.4,594.7 448.69,594.58" fill="#111"/><polygon points="476.94,593.39 477.46,594.58 478.75,594.7 477.78,595.56 478.06,596.82 476.94,596.16 475.83,596.82 476.11,595.56 475.14,594.7 476.43,594.58" fill="#111"/><polygon points="490.81,593.39 491.33,594.58 492.62,594.7 491.65,595.56 491.93,596.82 490.81,596.16 489.7,596.82 489.98,595.56 489.01,594.7 490.3,594.58" fill="#111"/><polygon points="504.68,606.85 505.2,608.05 506.49,608.17 505.52,609.02 505.8,610.29 504.68,609.63 503.57,610.29 503.85,609.02 502.88,608.17 504.17,608.05" fill="#111"/>
<text x="329.5" y="369.68" font-size="9" text-anchor="middle">0</text>
<text x="329.5" y="383.15" font-size="9" text-anchor="middle">1</text>
<text x="329.5" y="396.61" font-size="9" text-anchor="middle">2</text>
<text x="329.5" y="410.08" font-size="9" text-anchor="middle">3</text>
<text x="329.5" y="423.54" font-size="9" text-anchor="middle">4</text>
<text x="329.5" y="437.01" font-size="9" text-anchor="middle">5</text>
<text x="329.5" y="450.47" font-size="9" text-anchor="middle">6</text>
<text x="329.5" y="463.94" font-size="9" text-anchor="middle">7</text>
<text x="329.5" y="477.4" font-size="9" text-anchor="middle">8</text>
<text x="329.5" y="490.87" font-size="9" text-anchor="middle">9</text>
<text x="329.5" y="504.33" font-size="9" text-anchor="middle">10</text>
<text x="329.5" y="517.8" font-size="9" text-anchor="middle">11</text>
<text x="329.5" y="531.26" font-size="9" text-anchor="middle">12</text>
<text x="329.5" y="544.73" font-size="9" text-anchor="middle">13</text>
<text x="329.5" y="558.19" font-size="9" text-anchor="middle">14</text>
<text x="329.5" y="571.66" font-size="9" text-anchor="middle">15</text>
<text x="329.5" y="585.12" font-size="9" text-anchor="middle">16</text>
<text x="329.5" y="598.59" font-size="9" text-anchor="middle">17</text>
<text x="329.5" y="612.05" font-size="9" text-anchor="middle">18</text>
<text x="329.5" y="625.52" font-size="9" text-anchor="middle">19</text>
<text x="333.3" y="637.3" font-size="8.2" text-anchor="end" font-weight="bold" transform="rotate(-90 333.3 637.3)">siRNA</text>
<text x="333.3" y="669.7" font-size="8.1" text-anchor="end" font-weight="bold" transform="rotate(-90 333.3 669.7)">Antibody</text>
<text x="346.3" y="635.6" font-size="8.25" text-anchor="end" transform="rotate(-90 346.3 635.6)">Control</text>
<text x="358.2" y="635.6" font-size="8.25" text-anchor="end" transform="rotate(-90 358.2 635.6)">Control</text>
<text x="370.1" y="635.6" font-size="8.25" text-anchor="end" transform="rotate(-90 370.1 635.6)">Control</text>
<text x="382" y="635.6" font-size="8.25" text-anchor="end" transform="rotate(-90 382 635.6)">Control</text>
<text x="346.3" y="672.7" font-size="8.3" text-anchor="end" transform="rotate(-90 346.3 672.7)">Rad21</text>
<text x="358.2" y="672.7" font-size="8.3" text-anchor="end" transform="rotate(-90 358.2 672.7)">Smc3ac</text>
<text x="370.1" y="672.7" font-size="8.3" text-anchor="end" transform="rotate(-90 370.1 672.7)">CTCF</text>
<text x="382" y="672.7" font-size="8.3" text-anchor="end" transform="rotate(-90 382 672.7)">Mau2</text>
<text x="393.9" y="636.4" font-size="8.1" fill="#e2231a" text-anchor="end" transform="rotate(-90 393.9 636.4)">siNIPBL</text>
<text x="406" y="636.4" font-size="8.1" fill="#a3a23a" text-anchor="end" transform="rotate(-90 406 636.4)">siCTCF</text>
<text x="418.7" y="636.4" font-size="8.1" fill="#e2231a" text-anchor="end" transform="rotate(-90 418.7 636.4)">siRad21</text>
<line x1="386.8" y1="669.7" x2="419.8" y2="669.7" stroke="#4472c4" stroke-width="0.9"/>
<text x="407.3" y="674" font-size="8.3" text-anchor="end" transform="rotate(-90 407.3 674)">Rad21</text>
<text x="436.7" y="635.5" font-size="8.5" text-anchor="end" transform="rotate(-90 436.7 635.5)">All loops</text>
<text x="451.3" y="635.5" font-size="8.5" text-anchor="end" transform="rotate(-90 451.3 635.5)">with Rad21</text>
<text x="464.6" y="635.5" font-size="8.5" text-anchor="end" transform="rotate(-90 464.6 635.5)">with Smc3ac</text>
<text x="478.6" y="635.5" font-size="8.5" text-anchor="end" transform="rotate(-90 478.6 635.5)">with CTCF</text>
<text x="492.9" y="635.5" font-size="8.5" text-anchor="end" transform="rotate(-90 492.9 635.5)">short (&lt;300 kbp)</text>
<text x="507.8" y="635.5" font-size="8.5" text-anchor="end" transform="rotate(-90 507.8 635.5)">long (300 kbp to 2 Mbp)</text>
</g>
<g id="panel-d">
<text x="347.5" y="12" font-size="15" font-weight="bold">d</text>
<rect x="384.2" y="4" width="95.8" height="28" fill="#fff" stroke="#777" stroke-width="0.6"/>
<line x1="390" y1="15.3" x2="390" y2="7.7" stroke="#e2231a" stroke-width="0.7"/><path d="M388.7 9.9L390 7.7L391.3 9.9" fill="none" stroke="#e2231a" stroke-width="0.7"/>
<line x1="390" y1="18.6" x2="390" y2="26.6" stroke="#2f5aa8" stroke-width="0.7"/><path d="M388.7 24.4L390 26.6L391.3 24.4" fill="none" stroke="#2f5aa8" stroke-width="0.7"/>
<text x="395.8" y="13.8" font-size="7" fill="#333">siWAPL</text>
<text x="395.8" y="24.6" font-size="7" fill="#333">siRad21, siNIPBL, siMau2</text>
<rect x="498.7" y="4.3" width="73.9" height="17.3" fill="#fff" stroke="#777" stroke-width="0.6"/>
<line x1="502.9" y1="14.3" x2="502.9" y2="9.2" stroke="#f08a8a" stroke-width="0.6"/><path d="M501.6 11.4L502.9 9.2L504.2 11.4" fill="none" stroke="#f08a8a" stroke-width="0.6"/>
<text x="510.6" y="14.2" font-size="7" fill="#333">siNIPBL, siPDS5B</text>
<rect x="600.4" y="3.6" width="44.6" height="26.7" fill="#fff" stroke="#777" stroke-width="0.6"/>
<line x1="606.6" y1="14.2" x2="606.6" y2="8.6" stroke="#e2231a" stroke-width="0.6"/><path d="M605.3 10.8L606.6 8.6L607.9 10.8" fill="none" stroke="#e2231a" stroke-width="0.6"/>
<line x1="606.6" y1="20.2" x2="606.6" y2="25.8" stroke="#2f5aa8" stroke-width="0.6"/><path d="M605.3 23.6L606.6 25.8L607.9 23.6" fill="none" stroke="#2f5aa8" stroke-width="0.6"/>
<text x="614" y="13.8" font-size="7" fill="#333">siCTCF</text>
<text x="614" y="25.3" font-size="7" fill="#333">siRad21</text>
<line x1="405.2" y1="57.9" x2="459.7" y2="57.9" stroke="#2b2b96" stroke-width="1.5"/><line x1="405.2" y1="55.3" x2="405.2" y2="60.5" stroke="#2b2b96" stroke-width="0.9"/><line x1="459.7" y1="55.3" x2="459.7" y2="60.5" stroke="#2b2b96" stroke-width="0.9"/><line x1="447.6" y1="56.3" x2="447.6" y2="59.5" stroke="#2b2b96" stroke-width="0.9"/><line x1="453.4" y1="56.3" x2="453.4" y2="59.5" stroke="#2b2b96" stroke-width="0.9"/><line x1="456.5" y1="56.3" x2="456.5" y2="59.5" stroke="#2b2b96" stroke-width="0.9"/><path d="M405.2 57.9V50.8H412.6" fill="none" stroke="#2b2b96" stroke-width="0.9"/><path d="M413.2 50.8L410.4 49.3V52.3Z" fill="#2b2b96"/>
<text x="420.4" y="51.5" font-size="8.5" font-weight="bold" font-style="italic">BMP6</text>
<text x="451.7" y="50" font-size="6.9" font-style="italic">TXNDC5</text>
<line x1="459.7" y1="65.4" x2="470.5" y2="65.4" stroke="#2b2b96" stroke-width="1.5"/><line x1="459.7" y1="63" x2="459.7" y2="67.8" stroke="#2b2b96" stroke-width="0.9"/><line x1="470.5" y1="63" x2="470.5" y2="67.8" stroke="#2b2b96" stroke-width="0.9"/><line x1="466" y1="63.6" x2="466" y2="67.2" stroke="#2b2b96" stroke-width="0.9"/><line x1="468" y1="63.6" x2="468" y2="67.2" stroke="#2b2b96" stroke-width="0.9"/><rect x="460.4" y="63.7" width="4.2" height="3.4" fill="#2b2b96"/><path d="M470.5 65.4V57.6H463.3" fill="none" stroke="#2b2b96" stroke-width="0.9"/><path d="M462.7 57.6L465.5 56.1V59.1Z" fill="#2b2b96"/>
<text x="482.4" y="46.9" font-size="7" font-style="italic">ACOT12</text>
<line x1="485.6" y1="59.4" x2="497.2" y2="59.4" stroke="#2b2b96" stroke-width="1.5"/><line x1="485.6" y1="57" x2="485.6" y2="61.8" stroke="#2b2b96" stroke-width="0.9"/><line x1="497.2" y1="57" x2="497.2" y2="61.8" stroke="#2b2b96" stroke-width="0.9"/><line x1="487.6" y1="57.6" x2="487.6" y2="61.2" stroke="#2b2b96" stroke-width="0.9"/><line x1="489.6" y1="57.6" x2="489.6" y2="61.2" stroke="#2b2b96" stroke-width="0.9"/><line x1="491.6" y1="57.6" x2="491.6" y2="61.2" stroke="#2b2b96" stroke-width="0.9"/><line x1="493.6" y1="57.6" x2="493.6" y2="61.2" stroke="#2b2b96" stroke-width="0.9"/><line x1="495.4" y1="57.6" x2="495.4" y2="61.2" stroke="#2b2b96" stroke-width="0.9"/><path d="M497.2 59.4V52H490.4" fill="none" stroke="#2b2b96" stroke-width="0.9"/><path d="M489.8 52L492.6 50.5V53.5Z" fill="#2b2b96"/>
<line x1="500" y1="59.4" x2="559.2" y2="59.4" stroke="#2b2b96" stroke-width="1.5"/><line x1="500" y1="56.8" x2="500" y2="62" stroke="#2b2b96" stroke-width="0.9"/><line x1="559.2" y1="56.8" x2="559.2" y2="62" stroke="#2b2b96" stroke-width="0.9"/><line x1="509.7" y1="58" x2="509.7" y2="60.8" stroke="#2b2b96" stroke-width="0.9"/><line x1="513" y1="58" x2="513" y2="60.8" stroke="#2b2b96" stroke-width="0.9"/><line x1="518" y1="58" x2="518" y2="60.8" stroke="#2b2b96" stroke-width="0.9"/><line x1="535.7" y1="57.9" x2="535.7" y2="60.9" stroke="#2b2b96" stroke-width="0.9"/><line x1="539.4" y1="57.9" x2="539.4" y2="60.9" stroke="#2b2b96" stroke-width="0.9"/><line x1="541.3" y1="57.9" x2="541.3" y2="60.9" stroke="#2b2b96" stroke-width="0.9"/><rect x="501.5" y="57.9" width="5" height="3" fill="#2b2b96"/><path d="M559.2 59.4V52H552.2" fill="none" stroke="#2b2b96" stroke-width="0.9"/><path d="M551.6 52L554.4 50.5V53.5Z" fill="#2b2b96"/>
<text x="519" y="51.4" font-size="8.5" font-weight="bold" font-style="italic">SSBP2</text>
<line x1="603.1" y1="59.2" x2="639.6" y2="59.2" stroke="#2b2b96" stroke-width="1.5"/><line x1="603.1" y1="56.6" x2="603.1" y2="61.8" stroke="#2b2b96" stroke-width="0.9"/><line x1="639.6" y1="56.6" x2="639.6" y2="61.8" stroke="#2b2b96" stroke-width="0.9"/><line x1="618.7" y1="57.7" x2="618.7" y2="60.7" stroke="#2b2b96" stroke-width="0.9"/><line x1="622.4" y1="57.7" x2="622.4" y2="60.7" stroke="#2b2b96" stroke-width="0.9"/><line x1="634.4" y1="57.4" x2="634.4" y2="61" stroke="#2b2b96" stroke-width="0.9"/><line x1="636.8" y1="57.4" x2="636.8" y2="61" stroke="#2b2b96" stroke-width="0.9"/><path d="M603.1 59.2V51.4H609.6" fill="none" stroke="#2b2b96" stroke-width="0.9"/><path d="M610.2 51.4L607.4 49.9V52.9Z" fill="#2b2b96"/>
<text x="613.5" y="51.4" font-size="8.3" font-weight="bold" font-style="italic">TNFRSF19</text>
<line x1="658.5" y1="59.2" x2="675.9" y2="59.2" stroke="#2b2b96" stroke-width="1.5"/><line x1="658.5" y1="57" x2="658.5" y2="61.4" stroke="#2b2b96" stroke-width="0.9"/><rect x="667" y="57.7" width="2.4" height="3" fill="#2b2b96"/><path d="M675.9 59.2V52H669.6" fill="none" stroke="#2b2b96" stroke-width="0.9"/><path d="M669 52L671.8 50.5V53.5Z" fill="#2b2b96"/>
<text x="655.3" y="40.8" font-size="8.3" font-style="italic">MIPEP</text>
<text x="322" y="62" font-size="7.4" font-weight="bold">Antibody</text>
<text x="362" y="62" font-size="7.4" font-weight="bold">siRNA</text>
<text x="371.8" y="80.2" font-size="7.7" text-anchor="middle">Ctrl</text>
<text x="371.8" y="99.76" font-size="7.7" text-anchor="middle">Ctrl</text>
<text x="371.8" y="119.32" font-size="7.7" fill="#e2231a" text-anchor="middle">Rad21</text>
<text x="371.8" y="138.88" font-size="7.7" fill="#e2231a" text-anchor="middle">NIPBL</text>
<text x="371.8" y="158.44" font-size="7.7" fill="#a3a23a" text-anchor="middle">CTCF</text>
<text x="371.8" y="178" font-size="7.7" fill="#a3a23a" text-anchor="middle">ESCO1</text>
<text x="371.8" y="197.56" font-size="7.7" text-anchor="middle">Ctrl</text>
<text x="371.8" y="217.12" font-size="7.7" fill="#a3a23a" text-anchor="middle">CTCF</text>
<text x="371.8" y="236.68" font-size="7.7" fill="#a3a23a" text-anchor="middle">ESCO1</text>
<text x="371.8" y="256.24" font-size="7.7" text-anchor="middle">Ctrl</text>
<text x="371.8" y="275.8" font-size="7.7" fill="#e2231a" text-anchor="middle">NIPBL</text>
<text x="326.1" y="80.6" font-size="8.3">Smc3ac</text>
<text x="325" y="142.3" font-size="8.3">Rad21</text>
<text x="325.8" y="217.1" font-size="8.3">CTCF</text>
<text x="325.8" y="267" font-size="8.3">Mau2</text>
<line x1="352.3" y1="92.5" x2="352.3" y2="181.2" stroke="#777" stroke-width="0.7"/>
<line x1="355.6" y1="188.2" x2="355.6" y2="242.8" stroke="#777" stroke-width="0.7"/>
<line x1="352.3" y1="247.7" x2="352.3" y2="280.7" stroke="#777" stroke-width="0.7"/>
<line x1="388.3" y1="77.4" x2="477.6" y2="77.4" stroke="#d4d4d4" stroke-width="0.6"/>
<path d="M388.8 83.2v-0.68M389.65 83.2v-1.26M390.42 83.2v-0.97M391.49 83.2v-0.6M392.7 83.2v-0.6M393.83 83.2v-0.6M394.62 83.2v-0.78M396.15 83.2v-0.6M397.07 83.2v-1.19M398.72 83.2v-1.06M399.82 83.2v-2.83M400.56 83.2v-2.12M401.55 83.2v-0.61M402.37 83.2v-0.67M403.89 83.2v-0.61M405.17 83.2v-1.23M406.24 83.2v-0.99M407 83.2v-0.6M407.91 83.2v-1.36M409.04 83.2v-0.67M410.32 83.2v-0.82M411.32 83.2v-1.8M412.72 83.2v-0.63M413.99 83.2v-0.95M415.57 83.2v-1.53M416.56 83.2v-2.86M417.38 83.2v-0.78M418.83 83.2v-0.61M420.02 83.2v-0.6M421.39 83.2v-1.67M422.66 83.2v-2.21M423.68 83.2v-1.41M424.97 83.2v-1.07M426.13 83.2v-2.02M427.77 83.2v-0.86M429.14 83.2v-0.6M430.54 83.2v-1.25M432.23 83.2v-1.93M433.22 83.2v-0.74M434.58 83.2v-0.6M435.75 83.2v-0.61M436.56 83.2v-0.6M438.03 83.2v-0.61M438.98 83.2v-0.74M440.55 83.2v-0.6M441.7 83.2v-1M443.28 83.2v-1.92M444.85 83.2v-0.65M445.96 83.2v-0.71M447.55 83.2v-2.71M448.4 83.2v-0.61M449.33 83.2v-0.63M450.51 83.2v-1.09M451.48 83.2v-0.6M452.6 83.2v-0.72M453.86 83.2v-2.68M455.25 83.2v-0.93M456.57 83.2v-1.34M457.32 83.2v-2.35M458.8 83.2v-2.21M460.3 83.2v-0.74M461.4 83.2v-0.6M462.74 83.2v-0.6M463.5 83.2v-0.62M464.36 83.2v-0.69M465.12 83.2v-0.6M465.97 83.2v-0.6M467.03 83.2v-0.6M468.61 83.2v-1.16M469.46 83.2v-0.64M470.5 83.2v-0.72M471.33 83.2v-2.07M473.02 83.2v-0.84M474.2 83.2v-0.6M475 83.2v-0.7M475.97 83.2v-1.97M476.83 83.2v-0.6" stroke="#b4b4b4" stroke-width="0.7" fill="none"/>
<line x1="388.3" y1="83.2" x2="477.6" y2="83.2" stroke="#9a9a9a" stroke-width="1"/>
<path d="M389.4 82.6v1.8M392.9 82.6v1.8M396.4 82.6v1.8M399.9 82.6v1.8M403.4 82.6v1.8M406.9 82.6v1.8M410.4 82.6v1.8M413.9 82.6v1.8M417.4 82.6v1.8M420.9 82.6v1.8M424.4 82.6v1.8M427.9 82.6v1.8M431.4 82.6v1.8M434.9 82.6v1.8M438.4 82.6v1.8M441.9 82.6v1.8M445.4 82.6v1.8M448.9 82.6v1.8M452.4 82.6v1.8M455.9 82.6v1.8M459.4 82.6v1.8M462.9 82.6v1.8M466.4 82.6v1.8M469.9 82.6v1.8M473.4 82.6v1.8M476.9 82.6v1.8" stroke="#666" stroke-width="0.5" fill="none"/>
<line x1="396.4" y1="80.8" x2="396.4" y2="85.8" stroke="#222" stroke-width="0.8"/>
<line x1="431.4" y1="80.8" x2="431.4" y2="85.8" stroke="#222" stroke-width="0.8"/>
<line x1="466.4" y1="80.8" x2="466.4" y2="85.8" stroke="#222" stroke-width="0.8"/>
<line x1="404.4" y1="83.2" x2="404.4" y2="69.34" stroke="#ee1c1c" stroke-width="0.97"/>
<path d="M388.3 84V70.6H477.6" fill="none" stroke="#6e6e6e" stroke-width="0.7"/>
<line x1="388.3" y1="96.96" x2="477.6" y2="96.96" stroke="#d4d4d4" stroke-width="0.6"/>
<path d="M388.8 102.76v-0.95M389.65 102.76v-0.98M390.37 102.76v-0.95M392.05 102.76v-2.14M393.45 102.76v-0.64M394.52 102.76v-0.61M395.99 102.76v-0.96M397.47 102.76v-0.69M398.39 102.76v-1.88M400.07 102.76v-2.09M401.58 102.76v-1.92M403.02 102.76v-0.63M404.24 102.76v-0.71M404.97 102.76v-0.6M405.95 102.76v-0.64M407.34 102.76v-2.7M408.49 102.76v-2.57M410.17 102.76v-2.69M411.24 102.76v-0.63M412.17 102.76v-0.62M413.07 102.76v-1.18M414.67 102.76v-2.02M415.85 102.76v-1.27M417.35 102.76v-0.6M418.71 102.76v-2.41M420.19 102.76v-1.61M421.37 102.76v-0.61M422.86 102.76v-0.69M424.36 102.76v-2.8M425.46 102.76v-0.76M427.1 102.76v-1.51M427.97 102.76v-0.6M428.82 102.76v-2.38M430.33 102.76v-0.61M431.86 102.76v-2.86M433.21 102.76v-0.7M434.46 102.76v-0.61M435.18 102.76v-2.8M436.53 102.76v-0.95M438.16 102.76v-0.8M439.73 102.76v-1.95M440.64 102.76v-0.64M441.64 102.76v-0.63M442.92 102.76v-0.64M444.04 102.76v-0.61M445.65 102.76v-0.71M446.81 102.76v-1.08M448.41 102.76v-0.78M450.03 102.76v-0.9M451.26 102.76v-0.94M451.98 102.76v-0.8M452.87 102.76v-0.6M454.36 102.76v-0.61M455.54 102.76v-1.52M456.79 102.76v-0.68M458.01 102.76v-1.01M459.5 102.76v-0.6M460.76 102.76v-0.64M461.73 102.76v-1.71M462.94 102.76v-1.03M464.4 102.76v-2.42M465.55 102.76v-1.15M466.75 102.76v-0.92M468.14 102.76v-0.82M469.38 102.76v-0.86M471.02 102.76v-1.42M472.59 102.76v-2.61M473.55 102.76v-1.02M475.2 102.76v-2.02M476.03 102.76v-0.6M477.18 102.76v-0.6" stroke="#b4b4b4" stroke-width="0.7" fill="none"/>
<line x1="388.3" y1="102.76" x2="477.6" y2="102.76" stroke="#9a9a9a" stroke-width="1"/>
<path d="M389.4 102.16v1.8M392.9 102.16v1.8M396.4 102.16v1.8M399.9 102.16v1.8M403.4 102.16v1.8M406.9 102.16v1.8M410.4 102.16v1.8M413.9 102.16v1.8M417.4 102.16v1.8M420.9 102.16v1.8M424.4 102.16v1.8M427.9 102.16v1.8M431.4 102.16v1.8M434.9 102.16v1.8M438.4 102.16v1.8M441.9 102.16v1.8M445.4 102.16v1.8M448.9 102.16v1.8M452.4 102.16v1.8M455.9 102.16v1.8M459.4 102.16v1.8M462.9 102.16v1.8M466.4 102.16v1.8M469.9 102.16v1.8M473.4 102.16v1.8M476.9 102.16v1.8" stroke="#666" stroke-width="0.5" fill="none"/>
<line x1="396.4" y1="100.36" x2="396.4" y2="105.36" stroke="#222" stroke-width="0.8"/>
<line x1="431.4" y1="100.36" x2="431.4" y2="105.36" stroke="#222" stroke-width="0.8"/>
<line x1="466.4" y1="100.36" x2="466.4" y2="105.36" stroke="#222" stroke-width="0.8"/>
<line x1="404.4" y1="102.76" x2="404.4" y2="89.53" stroke="#ee1c1c" stroke-width="1.32"/>
<line x1="406.4" y1="102.76" x2="406.4" y2="92.43" stroke="#f4777a" stroke-width="0.88"/>
<line x1="416.6" y1="102.76" x2="416.6" y2="95.2" stroke="#f4777a" stroke-width="0.79"/>
<line x1="447.8" y1="102.76" x2="447.8" y2="95.2" stroke="#f4777a" stroke-width="0.79"/>
<line x1="465.9" y1="102.76" x2="465.9" y2="93.18" stroke="#f9a9ab" stroke-width="0.79"/>
<line x1="469.4" y1="102.76" x2="469.4" y2="94.7" stroke="#ee1c1c" stroke-width="0.97"/>
<path d="M388.3 103.56V90.16H477.6" fill="none" stroke="#6e6e6e" stroke-width="0.7"/>
<line x1="388.3" y1="116.52" x2="477.6" y2="116.52" stroke="#d4d4d4" stroke-width="0.6"/>
<path d="M388.8 122.32v-0.6M390.17 122.32v-1.76M391.77 122.32v-0.61M393.18 122.32v-1.29M394.03 122.32v-2.25M395.69 122.32v-0.63M397.35 122.32v-0.75M398.53 122.32v-2.93M400.07 122.32v-0.61M401.2 122.32v-0.93M402.24 122.32v-0.62M403.25 122.32v-1.5M403.97 122.32v-1.01M405.11 122.32v-0.6M406.15 122.32v-1.18M407.36 122.32v-0.6M409.04 122.32v-1.78M410.71 122.32v-0.6M411.68 122.32v-0.6M413.16 122.32v-0.65M413.99 122.32v-0.78M415.6 122.32v-1.92M416.56 122.32v-0.61M418.18 122.32v-1.05M419.58 122.32v-0.6M420.34 122.32v-1.38M421.46 122.32v-0.6M423.1 122.32v-1.21M424.6 122.32v-0.6M426.16 122.32v-0.6M427.72 122.32v-0.82M428.76 122.32v-1.01M430.39 122.32v-0.65M431.22 122.32v-0.95M432.15 122.32v-0.6M433.02 122.32v-0.6M433.92 122.32v-0.67M434.92 122.32v-1.65M435.91 122.32v-0.9M436.79 122.32v-0.7M437.51 122.32v-0.64M438.22 122.32v-1.55M439.47 122.32v-0.62M440.65 122.32v-2.56M441.46 122.32v-1.92M442.59 122.32v-0.89M444.12 122.32v-0.75M445.33 122.32v-1.38M447.01 122.32v-0.7M448.54 122.32v-1.45M449.88 122.32v-0.76M450.93 122.32v-0.6M451.76 122.32v-0.6M453.2 122.32v-0.64M454.06 122.32v-0.6M455.6 122.32v-2.18M456.97 122.32v-0.65M457.92 122.32v-0.66M459.07 122.32v-0.61M460.22 122.32v-0.64M461.88 122.32v-2.81M463.13 122.32v-0.64M464.8 122.32v-0.67M465.85 122.32v-0.6M466.93 122.32v-0.86M468.14 122.32v-0.62M469.34 122.32v-0.6M470.31 122.32v-0.6M471.4 122.32v-0.6M472.13 122.32v-0.67M473.06 122.32v-1.08M474.29 122.32v-1.61M475.65 122.32v-1.48M477.23 122.32v-0.74" stroke="#b4b4b4" stroke-width="0.7" fill="none"/>
<line x1="388.3" y1="122.32" x2="477.6" y2="122.32" stroke="#9a9a9a" stroke-width="1"/>
<path d="M389.4 121.72v1.8M392.9 121.72v1.8M396.4 121.72v1.8M399.9 121.72v1.8M403.4 121.72v1.8M406.9 121.72v1.8M410.4 121.72v1.8M413.9 121.72v1.8M417.4 121.72v1.8M420.9 121.72v1.8M424.4 121.72v1.8M427.9 121.72v1.8M431.4 121.72v1.8M434.9 121.72v1.8M438.4 121.72v1.8M441.9 121.72v1.8M445.4 121.72v1.8M448.9 121.72v1.8M452.4 121.72v1.8M455.9 121.72v1.8M459.4 121.72v1.8M462.9 121.72v1.8M466.4 121.72v1.8M469.9 121.72v1.8M473.4 121.72v1.8M476.9 121.72v1.8" stroke="#666" stroke-width="0.5" fill="none"/>
<line x1="396.4" y1="119.92" x2="396.4" y2="124.92" stroke="#222" stroke-width="0.8"/>
<line x1="431.4" y1="119.92" x2="431.4" y2="124.92" stroke="#222" stroke-width="0.8"/>
<line x1="466.4" y1="119.92" x2="466.4" y2="124.92" stroke="#222" stroke-width="0.8"/>
<line x1="404.2" y1="122.32" x2="404.2" y2="114.76" stroke="#f4777a" stroke-width="0.88"/>
<path d="M388.3 123.12V109.72H477.6" fill="none" stroke="#6e6e6e" stroke-width="0.7"/>
<line x1="388.3" y1="136.08" x2="477.6" y2="136.08" stroke="#d4d4d4" stroke-width="0.6"/>
<path d="M388.8 141.88v-2.89M389.65 141.88v-1.51M390.99 141.88v-0.6M392.53 141.88v-2.3M393.86 141.88v-1.55M395.37 141.88v-0.61M396.59 141.88v-0.91M398.13 141.88v-1.85M399.65 141.88v-1.08M401.25 141.88v-1.36M402.64 141.88v-0.63M403.37 141.88v-0.61M404.43 141.88v-0.6M405.97 141.88v-1.02M407.29 141.88v-1.19M408.67 141.88v-0.88M409.38 141.88v-1.82M410.83 141.88v-0.91M412.06 141.88v-1.29M412.83 141.88v-1.56M413.78 141.88v-0.6M414.75 141.88v-1.53M415.65 141.88v-1.57M417.33 141.88v-0.89M418.41 141.88v-0.86M419.79 141.88v-1.68M421.11 141.88v-1.24M421.89 141.88v-0.61M422.84 141.88v-1.59M423.85 141.88v-1.04M424.56 141.88v-0.6M425.53 141.88v-1.33M426.92 141.88v-1.34M427.91 141.88v-0.93M429.07 141.88v-0.84M429.89 141.88v-2.31M430.79 141.88v-2.85M432.43 141.88v-0.6M433.59 141.88v-1.92M435.26 141.88v-0.82M436.22 141.88v-0.62M437.87 141.88v-0.62M439.15 141.88v-0.61M440.38 141.88v-2.68M441.21 141.88v-1.92M442.42 141.88v-2.27M443.82 141.88v-0.63M445.42 141.88v-0.88M446.14 141.88v-0.6M447.33 141.88v-0.82M448.34 141.88v-0.61M449.38 141.88v-0.68M450.92 141.88v-0.6M452.37 141.88v-2.02M453.19 141.88v-2.51M454.6 141.88v-2.36M455.59 141.88v-0.72M456.69 141.88v-2.99M457.98 141.88v-0.71M459.1 141.88v-0.65M459.85 141.88v-0.6M461.39 141.88v-0.66M463.02 141.88v-0.64M463.99 141.88v-0.92M464.88 141.88v-0.72M466.53 141.88v-2.26M468.05 141.88v-1.2M469.66 141.88v-2.6M470.91 141.88v-1.49M471.66 141.88v-1.54M472.81 141.88v-1.62M474.15 141.88v-0.66M474.9 141.88v-2.51M475.73 141.88v-0.85M476.77 141.88v-0.66" stroke="#b4b4b4" stroke-width="0.7" fill="none"/>
<line x1="388.3" y1="141.88" x2="477.6" y2="141.88" stroke="#9a9a9a" stroke-width="1"/>
<path d="M389.4 141.28v1.8M392.9 141.28v1.8M396.4 141.28v1.8M399.9 141.28v1.8M403.4 141.28v1.8M406.9 141.28v1.8M410.4 141.28v1.8M413.9 141.28v1.8M417.4 141.28v1.8M420.9 141.28v1.8M424.4 141.28v1.8M427.9 141.28v1.8M431.4 141.28v1.8M434.9 141.28v1.8M438.4 141.28v1.8M441.9 141.28v1.8M445.4 141.28v1.8M448.9 141.28v1.8M452.4 141.28v1.8M455.9 141.28v1.8M459.4 141.28v1.8M462.9 141.28v1.8M466.4 141.28v1.8M469.9 141.28v1.8M473.4 141.28v1.8M476.9 141.28v1.8" stroke="#666" stroke-width="0.5" fill="none"/>
<line x1="396.4" y1="139.48" x2="396.4" y2="144.48" stroke="#222" stroke-width="0.8"/>
<line x1="431.4" y1="139.48" x2="431.4" y2="144.48" stroke="#222" stroke-width="0.8"/>
<line x1="466.4" y1="139.48" x2="466.4" y2="144.48" stroke="#222" stroke-width="0.8"/>
<line x1="404.2" y1="141.88" x2="404.2" y2="129.28" stroke="#f9a9ab" stroke-width="0.88"/>
<line x1="404.2" y1="141.88" x2="404.2" y2="134.32" stroke="#ee1c1c" stroke-width="0.88"/>
<path d="M388.3 142.68V129.28H477.6" fill="none" stroke="#6e6e6e" stroke-width="0.7"/>
<line x1="388.3" y1="155.64" x2="477.6" y2="155.64" stroke="#d4d4d4" stroke-width="0.6"/>
<path d="M388.8 161.44v-2.83M389.76 161.44v-1.28M390.76 161.44v-1.02M391.86 161.44v-0.61M392.72 161.44v-0.62M394.32 161.44v-0.89M395.24 161.44v-2.39M396.94 161.44v-0.82M397.78 161.44v-0.62M398.57 161.44v-0.7M399.36 161.44v-0.63M400.32 161.44v-1.04M401.91 161.44v-1.61M403.02 161.44v-0.77M404.24 161.44v-0.73M405.28 161.44v-0.6M406.26 161.44v-2.77M407.09 161.44v-0.91M408.41 161.44v-2.14M409.33 161.44v-0.65M410.28 161.44v-0.75M411.42 161.44v-2.68M412.97 161.44v-2.2M413.7 161.44v-0.6M415.1 161.44v-2.32M416.28 161.44v-1.09M416.98 161.44v-0.74M418.61 161.44v-1.95M420.16 161.44v-2.81M421.11 161.44v-0.6M421.96 161.44v-0.94M423.35 161.44v-2.6M424.77 161.44v-1.25M426.23 161.44v-0.83M427.48 161.44v-0.6M428.97 161.44v-0.63M430.59 161.44v-1.25M431.59 161.44v-0.61M432.54 161.44v-1.22M433.94 161.44v-0.6M434.71 161.44v-0.95M435.99 161.44v-0.74M436.92 161.44v-1.12M437.63 161.44v-0.67M438.79 161.44v-2.72M440.13 161.44v-2.26M441.31 161.44v-0.63M442.25 161.44v-2.73M443.66 161.44v-0.67M444.38 161.44v-0.9M445.76 161.44v-0.78M446.71 161.44v-1.31M448.34 161.44v-0.63M449.07 161.44v-0.69M450.19 161.44v-1.36M451.09 161.44v-1.82M452.53 161.44v-0.91M453.44 161.44v-2.79M454.45 161.44v-1.92M455.38 161.44v-0.63M456.84 161.44v-0.66M458.49 161.44v-0.89M459.38 161.44v-0.63M460.49 161.44v-1.31M462.14 161.44v-0.61M463.24 161.44v-0.62M464.91 161.44v-0.61M465.66 161.44v-0.6M466.76 161.44v-2.34M468.34 161.44v-1.54M470.04 161.44v-2.54M471.07 161.44v-0.62M472.7 161.44v-1.6M473.43 161.44v-1.3M474.51 161.44v-0.73M475.54 161.44v-0.61M476.25 161.44v-0.65M477.3 161.44v-2.69" stroke="#b4b4b4" stroke-width="0.7" fill="none"/>
<line x1="388.3" y1="161.44" x2="477.6" y2="161.44" stroke="#9a9a9a" stroke-width="1"/>
<path d="M389.4 160.84v1.8M392.9 160.84v1.8M396.4 160.84v1.8M399.9 160.84v1.8M403.4 160.84v1.8M406.9 160.84v1.8M410.4 160.84v1.8M413.9 160.84v1.8M417.4 160.84v1.8M420.9 160.84v1.8M424.4 160.84v1.8M427.9 160.84v1.8M431.4 160.84v1.8M434.9 160.84v1.8M438.4 160.84v1.8M441.9 160.84v1.8M445.4 160.84v1.8M448.9 160.84v1.8M452.4 160.84v1.8M455.9 160.84v1.8M459.4 160.84v1.8M462.9 160.84v1.8M466.4 160.84v1.8M469.9 160.84v1.8M473.4 160.84v1.8M476.9 160.84v1.8" stroke="#666" stroke-width="0.5" fill="none"/>
<line x1="396.4" y1="159.04" x2="396.4" y2="164.04" stroke="#222" stroke-width="0.8"/>
<line x1="431.4" y1="159.04" x2="431.4" y2="164.04" stroke="#222" stroke-width="0.8"/>
<line x1="466.4" y1="159.04" x2="466.4" y2="164.04" stroke="#222" stroke-width="0.8"/>
<line x1="406.2" y1="161.44" x2="406.2" y2="152.37" stroke="#f4777a" stroke-width="1.5"/>
<line x1="469.4" y1="161.44" x2="469.4" y2="150.86" stroke="#ee1c1c" stroke-width="1.06"/>
<path d="M388.3 162.24V148.84H477.6" fill="none" stroke="#6e6e6e" stroke-width="0.7"/>
<line x1="388.3" y1="175.2" x2="477.6" y2="175.2" stroke="#d4d4d4" stroke-width="0.6"/>
<path d="M388.8 181v-2.75M389.71 181v-0.71M391.23 181v-1.93M392.36 181v-0.6M393.53 181v-0.72M395.15 181v-0.62M396.22 181v-2.33M396.95 181v-0.77M398.46 181v-1.68M399.2 181v-0.6M399.96 181v-2.47M400.92 181v-1.6M402.52 181v-0.69M403.49 181v-2.71M404.81 181v-0.64M406.23 181v-0.68M407.2 181v-0.6M408.66 181v-2.45M409.99 181v-2.61M410.71 181v-0.63M411.89 181v-2.7M413.54 181v-0.74M414.5 181v-0.79M415.69 181v-2.52M416.57 181v-1.84M418.01 181v-1.94M419.48 181v-1.14M420.51 181v-0.68M421.57 181v-1.75M422.35 181v-0.62M423.8 181v-0.64M424.57 181v-0.6M425.82 181v-0.68M427.5 181v-2.25M429.19 181v-0.64M429.97 181v-0.6M431.17 181v-1.46M432.32 181v-0.63M433.44 181v-1.17M434.81 181v-1.6M436.36 181v-1.3M437.18 181v-2.03M438.17 181v-1.04M439.25 181v-1.56M440.14 181v-0.64M441.09 181v-0.61M442.67 181v-1.06M443.7 181v-0.75M445.39 181v-0.91M446.32 181v-1.87M447.68 181v-2.94M448.48 181v-0.86M450 181v-2.03M451.61 181v-0.6M452.61 181v-0.6M453.5 181v-2.81M454.78 181v-2.53M455.85 181v-2.16M457 181v-0.64M458.48 181v-2.63M459.28 181v-1.11M460.6 181v-0.62M461.67 181v-0.61M462.58 181v-0.64M463.88 181v-1.26M464.78 181v-0.6M465.81 181v-1.35M466.69 181v-0.67M467.6 181v-1.81M468.84 181v-0.6M469.65 181v-0.75M470.9 181v-1.23M471.69 181v-0.61M473.08 181v-0.77M474.07 181v-0.67M475.72 181v-0.67M476.98 181v-0.71" stroke="#b4b4b4" stroke-width="0.7" fill="none"/>
<line x1="388.3" y1="181" x2="477.6" y2="181" stroke="#9a9a9a" stroke-width="1"/>
<path d="M389.4 180.4v1.8M392.9 180.4v1.8M396.4 180.4v1.8M399.9 180.4v1.8M403.4 180.4v1.8M406.9 180.4v1.8M410.4 180.4v1.8M413.9 180.4v1.8M417.4 180.4v1.8M420.9 180.4v1.8M424.4 180.4v1.8M427.9 180.4v1.8M431.4 180.4v1.8M434.9 180.4v1.8M438.4 180.4v1.8M441.9 180.4v1.8M445.4 180.4v1.8M448.9 180.4v1.8M452.4 180.4v1.8M455.9 180.4v1.8M459.4 180.4v1.8M462.9 180.4v1.8M466.4 180.4v1.8M469.9 180.4v1.8M473.4 180.4v1.8M476.9 180.4v1.8" stroke="#666" stroke-width="0.5" fill="none"/>
<line x1="396.4" y1="178.6" x2="396.4" y2="183.6" stroke="#222" stroke-width="0.8"/>
<line x1="431.4" y1="178.6" x2="431.4" y2="183.6" stroke="#222" stroke-width="0.8"/>
<line x1="466.4" y1="178.6" x2="466.4" y2="183.6" stroke="#222" stroke-width="0.8"/>
<line x1="404.3" y1="181" x2="404.3" y2="167.39" stroke="#ee1c1c" stroke-width="1.32"/>
<path d="M388.3 181.8V168.4H477.6" fill="none" stroke="#6e6e6e" stroke-width="0.7"/>
<line x1="388.3" y1="194.76" x2="477.6" y2="194.76" stroke="#d4d4d4" stroke-width="0.6"/>
<path d="M388.8 200.56v-2.15M390.5 200.56v-0.72M391.39 200.56v-1.53M392.3 200.56v-0.6M393.9 200.56v-0.78M395.42 200.56v-0.76M397 200.56v-0.83M397.86 200.56v-0.6M399.12 200.56v-1.23M400.73 200.56v-0.6M402.05 200.56v-0.72M403.25 200.56v-0.61M404.24 200.56v-0.94M405.86 200.56v-0.6M407.05 200.56v-1.85M408.72 200.56v-0.62M409.55 200.56v-2.61M411.22 200.56v-0.87M411.97 200.56v-2.51M413.06 200.56v-2.37M414.38 200.56v-1.95M415.24 200.56v-1.76M416.17 200.56v-0.76M417.71 200.56v-1.97M418.59 200.56v-0.62M419.69 200.56v-0.93M420.78 200.56v-0.6M421.72 200.56v-1.51M423.32 200.56v-0.6M424.58 200.56v-1.64M425.32 200.56v-2.01M426.14 200.56v-1.12M427.39 200.56v-1.19M428.4 200.56v-0.78M429.68 200.56v-0.79M431.04 200.56v-0.81M432.18 200.56v-0.6M433.5 200.56v-0.88M434.43 200.56v-1.67M435.91 200.56v-0.83M436.79 200.56v-0.85M437.6 200.56v-0.61M438.73 200.56v-0.6M439.87 200.56v-0.92M440.61 200.56v-1.22M441.39 200.56v-1.55M442.87 200.56v-0.92M443.62 200.56v-0.91M444.7 200.56v-2.66M445.54 200.56v-2.11M447.23 200.56v-1.54M448.75 200.56v-0.62M450.43 200.56v-0.89M452.09 200.56v-2.44M452.95 200.56v-1.78M454.58 200.56v-0.6M455.63 200.56v-1.64M456.49 200.56v-2.33M457.47 200.56v-1.9M458.31 200.56v-0.9M459.93 200.56v-0.62M460.89 200.56v-0.91M461.91 200.56v-0.6M462.8 200.56v-0.61M464.43 200.56v-1.35M466.03 200.56v-0.61M467.51 200.56v-0.6M468.74 200.56v-1.22M469.8 200.56v-2.2M471.06 200.56v-1.07M472.64 200.56v-0.6M474.33 200.56v-1.2M475.43 200.56v-1.82M476.39 200.56v-2.93" stroke="#b4b4b4" stroke-width="0.7" fill="none"/>
<line x1="388.3" y1="200.56" x2="477.6" y2="200.56" stroke="#9a9a9a" stroke-width="1"/>
<path d="M389.4 199.96v1.8M392.9 199.96v1.8M396.4 199.96v1.8M399.9 199.96v1.8M403.4 199.96v1.8M406.9 199.96v1.8M410.4 199.96v1.8M413.9 199.96v1.8M417.4 199.96v1.8M420.9 199.96v1.8M424.4 199.96v1.8M427.9 199.96v1.8M431.4 199.96v1.8M434.9 199.96v1.8M438.4 199.96v1.8M441.9 199.96v1.8M445.4 199.96v1.8M448.9 199.96v1.8M452.4 199.96v1.8M455.9 199.96v1.8M459.4 199.96v1.8M462.9 199.96v1.8M466.4 199.96v1.8M469.9 199.96v1.8M473.4 199.96v1.8M476.9 199.96v1.8" stroke="#666" stroke-width="0.5" fill="none"/>
<line x1="396.4" y1="198.16" x2="396.4" y2="203.16" stroke="#222" stroke-width="0.8"/>
<line x1="431.4" y1="198.16" x2="431.4" y2="203.16" stroke="#222" stroke-width="0.8"/>
<line x1="466.4" y1="198.16" x2="466.4" y2="203.16" stroke="#222" stroke-width="0.8"/>
<line x1="404.5" y1="200.56" x2="404.5" y2="186.95" stroke="#ee1c1c" stroke-width="1.32"/>
<line x1="406.3" y1="200.56" x2="406.3" y2="191.49" stroke="#ee1c1c" stroke-width="0.88"/>
<line x1="447.9" y1="200.56" x2="447.9" y2="193" stroke="#f4777a" stroke-width="0.79"/>
<path d="M388.3 201.36V187.96H477.6" fill="none" stroke="#6e6e6e" stroke-width="0.7"/>
<line x1="388.3" y1="214.32" x2="477.6" y2="214.32" stroke="#d4d4d4" stroke-width="0.6"/>
<path d="M388.8 220.12v-0.71M390.26 220.12v-0.81M391.14 220.12v-1.59M391.89 220.12v-1.92M392.84 220.12v-1.23M394.53 220.12v-1.08M395.89 220.12v-0.67M396.59 220.12v-0.6M397.44 220.12v-1.16M398.57 220.12v-0.92M400.17 220.12v-0.61M401.1 220.12v-1.27M401.82 220.12v-0.6M402.87 220.12v-0.6M403.93 220.12v-0.63M405.22 220.12v-1.09M406.12 220.12v-1.18M407.29 220.12v-0.61M408.93 220.12v-0.63M409.78 220.12v-0.6M411.12 220.12v-2.19M412.6 220.12v-0.76M413.56 220.12v-0.6M414.91 220.12v-1.03M415.96 220.12v-1.25M417.1 220.12v-2.58M418.54 220.12v-0.64M420.14 220.12v-0.6M421.37 220.12v-0.76M422.31 220.12v-0.6M423.79 220.12v-0.6M425.04 220.12v-2.6M425.88 220.12v-0.62M427.19 220.12v-0.91M428.53 220.12v-1.89M429.41 220.12v-0.67M430.41 220.12v-0.6M432 220.12v-1.75M433.41 220.12v-0.6M434.96 220.12v-1.59M436.12 220.12v-1.58M437.27 220.12v-0.63M438.08 220.12v-0.63M438.82 220.12v-0.69M440.27 220.12v-1.41M441.81 220.12v-1.47M442.78 220.12v-1.01M443.91 220.12v-1.78M445.14 220.12v-0.64M446.48 220.12v-2.76M447.4 220.12v-2.24M448.11 220.12v-0.64M449.05 220.12v-1.59M450.69 220.12v-1.6M451.72 220.12v-2.24M452.75 220.12v-0.63M454.36 220.12v-1.2M455.75 220.12v-1.31M457.43 220.12v-0.85M458.97 220.12v-1.41M460.53 220.12v-0.8M461.95 220.12v-1.05M462.96 220.12v-0.62M464.28 220.12v-0.6M465.89 220.12v-0.61M466.62 220.12v-0.6M468.25 220.12v-0.7M469.09 220.12v-0.6M469.83 220.12v-1.4M471.16 220.12v-1.41M472.6 220.12v-0.6M473.89 220.12v-0.72M475.41 220.12v-1.92M477 220.12v-0.6" stroke="#b4b4b4" stroke-width="0.7" fill="none"/>
<line x1="388.3" y1="220.12" x2="477.6" y2="220.12" stroke="#9a9a9a" stroke-width="1"/>
<path d="M389.4 219.52v1.8M392.9 219.52v1.8M396.4 219.52v1.8M399.9 219.52v1.8M403.4 219.52v1.8M406.9 219.52v1.8M410.4 219.52v1.8M413.9 219.52v1.8M417.4 219.52v1.8M420.9 219.52v1.8M424.4 219.52v1.8M427.9 219.52v1.8M431.4 219.52v1.8M434.9 219.52v1.8M438.4 219.52v1.8M441.9 219.52v1.8M445.4 219.52v1.8M448.9 219.52v1.8M452.4 219.52v1.8M455.9 219.52v1.8M459.4 219.52v1.8M462.9 219.52v1.8M466.4 219.52v1.8M469.9 219.52v1.8M473.4 219.52v1.8M476.9 219.52v1.8" stroke="#666" stroke-width="0.5" fill="none"/>
<line x1="396.4" y1="217.72" x2="396.4" y2="222.72" stroke="#222" stroke-width="0.8"/>
<line x1="431.4" y1="217.72" x2="431.4" y2="222.72" stroke="#222" stroke-width="0.8"/>
<line x1="466.4" y1="217.72" x2="466.4" y2="222.72" stroke="#222" stroke-width="0.8"/>
<line x1="404.5" y1="220.12" x2="404.5" y2="214.83" stroke="#bbb" stroke-width="0.7"/>
<path d="M388.3 220.92V207.52H477.6" fill="none" stroke="#6e6e6e" stroke-width="0.7"/>
<line x1="388.3" y1="233.88" x2="477.6" y2="233.88" stroke="#d4d4d4" stroke-width="0.6"/>
<path d="M388.8 239.68v-2.43M390.44 239.68v-0.6M391.35 239.68v-0.6M392.08 239.68v-2.06M393.6 239.68v-1.21M395.12 239.68v-1.2M396.11 239.68v-0.6M396.91 239.68v-1.64M397.81 239.68v-0.68M398.94 239.68v-0.6M399.89 239.68v-0.65M401.31 239.68v-0.72M402.33 239.68v-2.75M403.53 239.68v-2.08M404.85 239.68v-0.6M405.96 239.68v-0.8M407.44 239.68v-0.7M408.84 239.68v-0.97M409.76 239.68v-2.14M410.55 239.68v-1.92M411.42 239.68v-0.6M412.32 239.68v-1.66M414 239.68v-0.6M415.19 239.68v-0.88M416.69 239.68v-0.62M417.88 239.68v-0.7M419.41 239.68v-0.64M421.06 239.68v-0.65M421.97 239.68v-1.42M423.17 239.68v-0.6M424.51 239.68v-0.6M425.99 239.68v-1.41M427.48 239.68v-1.19M428.54 239.68v-0.76M429.63 239.68v-2.29M430.42 239.68v-2.28M431.14 239.68v-0.62M432.11 239.68v-2.36M433.31 239.68v-0.73M434.89 239.68v-0.63M436.05 239.68v-0.96M437.51 239.68v-1.62M438.85 239.68v-0.7M439.88 239.68v-0.61M441.42 239.68v-1.3M442.86 239.68v-0.61M444 239.68v-1.71M445.28 239.68v-0.6M446.44 239.68v-2.26M447.38 239.68v-0.62M448.38 239.68v-1.43M449.93 239.68v-0.61M450.78 239.68v-0.64M451.81 239.68v-0.94M452.67 239.68v-0.68M453.56 239.68v-2.83M454.99 239.68v-0.6M456.65 239.68v-0.6M457.74 239.68v-2.89M459.23 239.68v-1.55M460.37 239.68v-0.62M461.7 239.68v-0.6M462.61 239.68v-0.74M463.34 239.68v-0.75M464.84 239.68v-1.4M466.04 239.68v-1.21M467.2 239.68v-0.61M468.5 239.68v-0.76M469.94 239.68v-2.4M471.07 239.68v-1.05M472.52 239.68v-0.78M473.45 239.68v-1.5M475.03 239.68v-1.71M476.43 239.68v-2.09" stroke="#b4b4b4" stroke-width="0.7" fill="none"/>
<line x1="388.3" y1="239.68" x2="477.6" y2="239.68" stroke="#9a9a9a" stroke-width="1"/>
<path d="M389.4 239.08v1.8M392.9 239.08v1.8M396.4 239.08v1.8M399.9 239.08v1.8M403.4 239.08v1.8M406.9 239.08v1.8M410.4 239.08v1.8M413.9 239.08v1.8M417.4 239.08v1.8M420.9 239.08v1.8M424.4 239.08v1.8M427.9 239.08v1.8M431.4 239.08v1.8M434.9 239.08v1.8M438.4 239.08v1.8M441.9 239.08v1.8M445.4 239.08v1.8M448.9 239.08v1.8M452.4 239.08v1.8M455.9 239.08v1.8M459.4 239.08v1.8M462.9 239.08v1.8M466.4 239.08v1.8M469.9 239.08v1.8M473.4 239.08v1.8M476.9 239.08v1.8" stroke="#666" stroke-width="0.5" fill="none"/>
<line x1="396.4" y1="237.28" x2="396.4" y2="242.28" stroke="#222" stroke-width="0.8"/>
<line x1="431.4" y1="237.28" x2="431.4" y2="242.28" stroke="#222" stroke-width="0.8"/>
<line x1="466.4" y1="237.28" x2="466.4" y2="242.28" stroke="#222" stroke-width="0.8"/>
<line x1="404.5" y1="239.68" x2="404.5" y2="226.07" stroke="#ee1c1c" stroke-width="1.32"/>
<line x1="406.3" y1="239.68" x2="406.3" y2="232.12" stroke="#ee1c1c" stroke-width="0.88"/>
<line x1="447.9" y1="239.68" x2="447.9" y2="235.9" stroke="#ccc" stroke-width="0.62"/>
<path d="M388.3 240.48V227.08H477.6" fill="none" stroke="#6e6e6e" stroke-width="0.7"/>
<line x1="388.3" y1="253.44" x2="477.6" y2="253.44" stroke="#d4d4d4" stroke-width="0.6"/>
<path d="M388.8 259.24v-1.23M389.95 259.24v-0.67M391.28 259.24v-0.6M392.4 259.24v-1.75M393.81 259.24v-1.2M394.76 259.24v-0.78M395.92 259.24v-1.18M397.03 259.24v-1.34M398.66 259.24v-0.61M400.01 259.24v-1.73M401.1 259.24v-0.88M402.78 259.24v-0.6M404.02 259.24v-0.61M405.5 259.24v-2.6M406.72 259.24v-0.6M408 259.24v-0.98M409.41 259.24v-0.92M410.75 259.24v-1.97M411.97 259.24v-0.77M413.62 259.24v-0.62M415.01 259.24v-0.75M416.47 259.24v-0.6M418.15 259.24v-0.71M418.91 259.24v-0.65M420.01 259.24v-0.6M421.13 259.24v-0.78M422.53 259.24v-0.7M423.49 259.24v-0.63M424.93 259.24v-2.59M426.16 259.24v-0.63M427.66 259.24v-0.74M428.57 259.24v-0.61M430.05 259.24v-1.87M431.39 259.24v-0.85M432.65 259.24v-0.63M434.31 259.24v-0.71M435.65 259.24v-1.92M437.17 259.24v-0.85M438.16 259.24v-1M438.99 259.24v-1.99M440.04 259.24v-2.08M441.01 259.24v-0.73M441.96 259.24v-0.79M442.85 259.24v-0.6M444.27 259.24v-0.65M445.21 259.24v-0.67M446.39 259.24v-0.79M447.73 259.24v-1.29M448.79 259.24v-2.52M450.35 259.24v-0.6M451.88 259.24v-2.38M453.36 259.24v-0.61M454.89 259.24v-1.21M455.61 259.24v-0.6M457.26 259.24v-1.28M458.21 259.24v-0.6M459.05 259.24v-0.63M460.53 259.24v-0.7M461.38 259.24v-2.37M462.87 259.24v-0.61M464.46 259.24v-1.14M465.94 259.24v-1.32M467.54 259.24v-1.77M469.08 259.24v-0.62M470.47 259.24v-0.96M471.91 259.24v-0.8M473.49 259.24v-1.01M474.46 259.24v-0.63M475.3 259.24v-0.89M476.06 259.24v-0.84M476.9 259.24v-0.88" stroke="#b4b4b4" stroke-width="0.7" fill="none"/>
<line x1="388.3" y1="259.24" x2="477.6" y2="259.24" stroke="#9a9a9a" stroke-width="1"/>
<path d="M389.4 258.64v1.8M392.9 258.64v1.8M396.4 258.64v1.8M399.9 258.64v1.8M403.4 258.64v1.8M406.9 258.64v1.8M410.4 258.64v1.8M413.9 258.64v1.8M417.4 258.64v1.8M420.9 258.64v1.8M424.4 258.64v1.8M427.9 258.64v1.8M431.4 258.64v1.8M434.9 258.64v1.8M438.4 258.64v1.8M441.9 258.64v1.8M445.4 258.64v1.8M448.9 258.64v1.8M452.4 258.64v1.8M455.9 258.64v1.8M459.4 258.64v1.8M462.9 258.64v1.8M466.4 258.64v1.8M469.9 258.64v1.8M473.4 258.64v1.8M476.9 258.64v1.8" stroke="#666" stroke-width="0.5" fill="none"/>
<line x1="396.4" y1="256.84" x2="396.4" y2="261.84" stroke="#222" stroke-width="0.8"/>
<line x1="431.4" y1="256.84" x2="431.4" y2="261.84" stroke="#222" stroke-width="0.8"/>
<line x1="466.4" y1="256.84" x2="466.4" y2="261.84" stroke="#222" stroke-width="0.8"/>
<line x1="396.2" y1="259.24" x2="396.2" y2="251.18" stroke="#f4777a" stroke-width="0.79"/>
<line x1="407.4" y1="259.24" x2="407.4" y2="247.4" stroke="#ee1c1c" stroke-width="1.06"/>
<line x1="416.9" y1="259.24" x2="416.9" y2="245.38" stroke="#f9a9ab" stroke-width="0.88"/>
<line x1="420.9" y1="259.24" x2="420.9" y2="254.2" stroke="#ccc" stroke-width="0.62"/>
<line x1="433.6" y1="259.24" x2="433.6" y2="253.57" stroke="#999" stroke-width="0.62"/>
<line x1="469.5" y1="259.24" x2="469.5" y2="255.46" stroke="#ccc" stroke-width="0.62"/>
<path d="M388.3 260.04V246.64H477.6" fill="none" stroke="#6e6e6e" stroke-width="0.7"/>
<line x1="388.3" y1="273" x2="477.6" y2="273" stroke="#d4d4d4" stroke-width="0.6"/>
<path d="M388.8 278.8v-0.98M390.36 278.8v-0.6M391.9 278.8v-0.85M393.17 278.8v-1.31M394.71 278.8v-0.73M395.83 278.8v-2.73M396.6 278.8v-1.22M397.94 278.8v-0.6M399.25 278.8v-1.36M400.88 278.8v-0.69M402.56 278.8v-0.92M403.74 278.8v-2.34M404.48 278.8v-1.49M405.8 278.8v-0.69M407.37 278.8v-0.72M408.54 278.8v-0.95M410.01 278.8v-0.62M411.15 278.8v-0.78M412.4 278.8v-1.96M413.39 278.8v-1.96M414.5 278.8v-0.91M415.47 278.8v-0.91M417.14 278.8v-1.27M418.64 278.8v-0.69M419.65 278.8v-0.66M420.94 278.8v-1.21M422.42 278.8v-0.6M423.85 278.8v-2.27M425.09 278.8v-0.6M426.09 278.8v-0.6M426.98 278.8v-2.48M428.29 278.8v-1.28M429.78 278.8v-2.41M431.09 278.8v-1.16M432.42 278.8v-1.41M433.71 278.8v-1.36M434.63 278.8v-1.31M435.78 278.8v-1.66M436.59 278.8v-0.61M437.32 278.8v-1.72M438.94 278.8v-1.28M440.01 278.8v-1.94M441.49 278.8v-1.03M442.45 278.8v-0.67M443.57 278.8v-0.68M444.7 278.8v-1.23M446.34 278.8v-0.6M447.6 278.8v-0.6M448.42 278.8v-1.88M449.7 278.8v-2.46M450.84 278.8v-0.6M451.93 278.8v-1.1M453.57 278.8v-2.86M454.74 278.8v-0.77M455.55 278.8v-1.24M456.46 278.8v-0.61M457.17 278.8v-0.6M458.56 278.8v-0.6M460.22 278.8v-0.6M461.79 278.8v-0.61M462.51 278.8v-1.49M463.45 278.8v-1.55M464.34 278.8v-0.6M465.82 278.8v-1.47M467.37 278.8v-1.53M468.16 278.8v-1.2M469.56 278.8v-0.83M471.2 278.8v-0.64M472.86 278.8v-1.49M473.57 278.8v-0.6M474.92 278.8v-1.91M475.7 278.8v-0.67M477.13 278.8v-0.61" stroke="#b4b4b4" stroke-width="0.7" fill="none"/>
<line x1="388.3" y1="278.8" x2="477.6" y2="278.8" stroke="#9a9a9a" stroke-width="1"/>
<path d="M389.4 278.2v1.8M392.9 278.2v1.8M396.4 278.2v1.8M399.9 278.2v1.8M403.4 278.2v1.8M406.9 278.2v1.8M410.4 278.2v1.8M413.9 278.2v1.8M417.4 278.2v1.8M420.9 278.2v1.8M424.4 278.2v1.8M427.9 278.2v1.8M431.4 278.2v1.8M434.9 278.2v1.8M438.4 278.2v1.8M441.9 278.2v1.8M445.4 278.2v1.8M448.9 278.2v1.8M452.4 278.2v1.8M455.9 278.2v1.8M459.4 278.2v1.8M462.9 278.2v1.8M466.4 278.2v1.8M469.9 278.2v1.8M473.4 278.2v1.8M476.9 278.2v1.8" stroke="#666" stroke-width="0.5" fill="none"/>
<line x1="396.4" y1="276.4" x2="396.4" y2="281.4" stroke="#222" stroke-width="0.8"/>
<line x1="431.4" y1="276.4" x2="431.4" y2="281.4" stroke="#222" stroke-width="0.8"/>
<line x1="466.4" y1="276.4" x2="466.4" y2="281.4" stroke="#222" stroke-width="0.8"/>
<line x1="416.9" y1="278.8" x2="416.9" y2="268.47" stroke="#f9a9ab" stroke-width="0.88"/>
<line x1="420.9" y1="278.8" x2="420.9" y2="275.65" stroke="#ccc" stroke-width="0.62"/>
<line x1="433.6" y1="278.8" x2="433.6" y2="275.65" stroke="#bbb" stroke-width="0.62"/>
<path d="M388.3 279.6V266.2H477.6" fill="none" stroke="#6e6e6e" stroke-width="0.7"/>
<line x1="490.9" y1="78.4" x2="567.5" y2="78.4" stroke="#d4d4d4" stroke-width="0.6"/>
<path d="M491.4 84.2v-0.88M492.16 84.2v-0.72M493.43 84.2v-0.8M494.81 84.2v-0.61M496.31 84.2v-0.72M497.65 84.2v-1.2M498.77 84.2v-0.74M500.26 84.2v-2.62M501.74 84.2v-1.04M502.74 84.2v-0.6M504.41 84.2v-1.43M505.94 84.2v-0.69M507.24 84.2v-2.84M508.77 84.2v-1.12M509.78 84.2v-0.79M511.37 84.2v-0.73M512.76 84.2v-1.12M514.35 84.2v-1.86M515.33 84.2v-0.6M516.3 84.2v-0.78M517.58 84.2v-1.9M519.17 84.2v-0.6M520.7 84.2v-1.88M522.27 84.2v-1.05M523.25 84.2v-2.08M524.75 84.2v-1.37M526.37 84.2v-0.7M527.15 84.2v-1.01M528.65 84.2v-0.62M530.1 84.2v-2.54M531.03 84.2v-1.14M532.41 84.2v-0.84M533.32 84.2v-0.64M534.77 84.2v-1.79M535.93 84.2v-0.6M537.44 84.2v-1.7M538.37 84.2v-1.07M539.96 84.2v-2.26M541.19 84.2v-0.86M542.48 84.2v-0.62M543.37 84.2v-0.61M544.77 84.2v-0.71M546.03 84.2v-0.76M547.25 84.2v-0.61M548 84.2v-2.98M549.07 84.2v-0.6M550.4 84.2v-1.77M551.26 84.2v-1.11M552.3 84.2v-0.94M553.02 84.2v-0.6M554.71 84.2v-2.16M555.9 84.2v-1.04M556.86 84.2v-1.74M557.99 84.2v-2.64M559.46 84.2v-1.92M561.12 84.2v-0.64M561.86 84.2v-0.62M562.74 84.2v-0.6M563.49 84.2v-1.02M565.06 84.2v-0.83M566.71 84.2v-2.41M567.47 84.2v-1.11" stroke="#b4b4b4" stroke-width="0.7" fill="none"/>
<line x1="490.9" y1="84.2" x2="567.5" y2="84.2" stroke="#9a9a9a" stroke-width="1"/>
<path d="M493.9 83.6v1.8M497.4 83.6v1.8M500.9 83.6v1.8M504.4 83.6v1.8M507.9 83.6v1.8M511.4 83.6v1.8M514.9 83.6v1.8M518.4 83.6v1.8M521.9 83.6v1.8M525.4 83.6v1.8M528.9 83.6v1.8M532.4 83.6v1.8M535.9 83.6v1.8M539.4 83.6v1.8M542.9 83.6v1.8M546.4 83.6v1.8M549.9 83.6v1.8M553.4 83.6v1.8M556.9 83.6v1.8M560.4 83.6v1.8M563.9 83.6v1.8M567.4 83.6v1.8" stroke="#666" stroke-width="0.5" fill="none"/>
<line x1="497.4" y1="81.8" x2="497.4" y2="86.8" stroke="#222" stroke-width="0.8"/>
<line x1="532.4" y1="81.8" x2="532.4" y2="86.8" stroke="#222" stroke-width="0.8"/>
<line x1="567.4" y1="81.8" x2="567.4" y2="86.8" stroke="#222" stroke-width="0.8"/>
<line x1="516.6" y1="84.2" x2="516.6" y2="73.87" stroke="#ee1c1c" stroke-width="0.79"/>
<line x1="502.2" y1="84.2" x2="502.2" y2="80.42" stroke="#ccc" stroke-width="0.62"/>
<line x1="558.6" y1="84.2" x2="558.6" y2="80.42" stroke="#ccc" stroke-width="0.62"/>
<path d="M490.9 85V71.6H567.5" fill="none" stroke="#6e6e6e" stroke-width="0.7"/>
<line x1="490.9" y1="97.96" x2="567.5" y2="97.96" stroke="#d4d4d4" stroke-width="0.6"/>
<path d="M491.4 103.76v-0.6M493.06 103.76v-0.64M494.32 103.76v-1.23M495.98 103.76v-1.32M497.07 103.76v-0.82M497.93 103.76v-2.76M499.62 103.76v-0.63M500.36 103.76v-0.64M501.42 103.76v-2.37M503.02 103.76v-2.01M503.77 103.76v-1.77M505.18 103.76v-1.25M506.86 103.76v-0.6M507.71 103.76v-1.63M509.35 103.76v-1.34M510.35 103.76v-1.1M511.8 103.76v-0.6M512.83 103.76v-0.64M513.65 103.76v-0.87M514.52 103.76v-0.63M515.36 103.76v-1.35M516.08 103.76v-1.49M516.97 103.76v-0.6M518.6 103.76v-0.63M520.23 103.76v-2.16M521.82 103.76v-0.61M522.97 103.76v-0.6M524.6 103.76v-2.03M525.93 103.76v-0.82M526.96 103.76v-1.94M528.14 103.76v-1.19M528.99 103.76v-0.63M529.74 103.76v-1.47M531 103.76v-0.61M532.57 103.76v-0.65M533.68 103.76v-0.61M534.65 103.76v-2.02M535.68 103.76v-0.61M536.87 103.76v-0.68M538.48 103.76v-0.6M540.16 103.76v-0.6M541.75 103.76v-1.32M542.66 103.76v-0.86M543.65 103.76v-0.64M544.55 103.76v-0.72M546.24 103.76v-2.99M547.87 103.76v-0.6M548.86 103.76v-2.33M549.61 103.76v-1.52M550.61 103.76v-2.85M551.32 103.76v-1.86M552.36 103.76v-0.61M553.07 103.76v-1.98M554.29 103.76v-0.62M555.43 103.76v-2.42M556.35 103.76v-1.05M557.18 103.76v-0.61M558.65 103.76v-1.46M559.55 103.76v-0.6M560.34 103.76v-1.14M561.53 103.76v-0.65M562.44 103.76v-1.15M563.85 103.76v-1.88M565.13 103.76v-0.62M565.9 103.76v-1.54M567 103.76v-1.5" stroke="#b4b4b4" stroke-width="0.7" fill="none"/>
<line x1="490.9" y1="103.76" x2="567.5" y2="103.76" stroke="#9a9a9a" stroke-width="1"/>
<path d="M493.9 103.16v1.8M497.4 103.16v1.8M500.9 103.16v1.8M504.4 103.16v1.8M507.9 103.16v1.8M511.4 103.16v1.8M514.9 103.16v1.8M518.4 103.16v1.8M521.9 103.16v1.8M525.4 103.16v1.8M528.9 103.16v1.8M532.4 103.16v1.8M535.9 103.16v1.8M539.4 103.16v1.8M542.9 103.16v1.8M546.4 103.16v1.8M549.9 103.16v1.8M553.4 103.16v1.8M556.9 103.16v1.8M560.4 103.16v1.8M563.9 103.16v1.8M567.4 103.16v1.8" stroke="#666" stroke-width="0.5" fill="none"/>
<line x1="497.4" y1="101.36" x2="497.4" y2="106.36" stroke="#222" stroke-width="0.8"/>
<line x1="532.4" y1="101.36" x2="532.4" y2="106.36" stroke="#222" stroke-width="0.8"/>
<line x1="567.4" y1="101.36" x2="567.4" y2="106.36" stroke="#222" stroke-width="0.8"/>
<line x1="502.2" y1="103.76" x2="502.2" y2="90.66" stroke="#ee1c1c" stroke-width="1.14"/>
<line x1="516.1" y1="103.76" x2="516.1" y2="90.66" stroke="#ee1c1c" stroke-width="0.88"/>
<line x1="517.3" y1="103.76" x2="517.3" y2="90.66" stroke="#f4777a" stroke-width="0.88"/>
<line x1="558.6" y1="103.76" x2="558.6" y2="90.66" stroke="#ee1c1c" stroke-width="1.14"/>
<path d="M490.9 104.56V91.16H567.5" fill="none" stroke="#6e6e6e" stroke-width="0.7"/>
<line x1="490.9" y1="117.52" x2="567.5" y2="117.52" stroke="#d4d4d4" stroke-width="0.6"/>
<path d="M491.4 123.32v-1.88M492.44 123.32v-2.03M494 123.32v-0.89M494.72 123.32v-2.41M495.89 123.32v-2.19M496.86 123.32v-0.62M498.39 123.32v-0.72M499.25 123.32v-0.72M500.55 123.32v-0.6M501.77 123.32v-0.81M502.98 123.32v-0.6M504.4 123.32v-1.91M505.96 123.32v-0.68M507.37 123.32v-0.73M508.83 123.32v-0.6M510.4 123.32v-2.68M511.59 123.32v-0.92M512.82 123.32v-0.97M513.54 123.32v-2.77M514.47 123.32v-0.61M515.27 123.32v-0.64M516.79 123.32v-0.6M517.58 123.32v-1.42M518.48 123.32v-0.6M519.78 123.32v-1.06M521 123.32v-1.43M521.81 123.32v-2.18M523.22 123.32v-0.6M524.05 123.32v-0.89M525.25 123.32v-0.65M526.07 123.32v-0.76M526.91 123.32v-1.1M528.47 123.32v-0.61M529.74 123.32v-1.6M530.6 123.32v-1.95M532.24 123.32v-0.74M533.36 123.32v-2.02M534.59 123.32v-0.75M536.23 123.32v-1.73M537.27 123.32v-0.63M538.3 123.32v-0.8M539.98 123.32v-1.85M541.6 123.32v-1.9M543.14 123.32v-0.6M544.36 123.32v-2.71M546 123.32v-0.64M547.12 123.32v-1.21M548.18 123.32v-0.96M548.95 123.32v-0.79M550.16 123.32v-0.6M551 123.32v-2.79M552.47 123.32v-2.57M553.81 123.32v-1.87M555.39 123.32v-2.26M556.12 123.32v-1.23M557.09 123.32v-1.35M558.06 123.32v-0.98M559.69 123.32v-1.18M560.64 123.32v-0.94M561.77 123.32v-2.66M562.76 123.32v-0.67M564.11 123.32v-0.6M565.4 123.32v-2.7M566.61 123.32v-0.65" stroke="#b4b4b4" stroke-width="0.7" fill="none"/>
<line x1="490.9" y1="123.32" x2="567.5" y2="123.32" stroke="#9a9a9a" stroke-width="1"/>
<path d="M493.9 122.72v1.8M497.4 122.72v1.8M500.9 122.72v1.8M504.4 122.72v1.8M507.9 122.72v1.8M511.4 122.72v1.8M514.9 122.72v1.8M518.4 122.72v1.8M521.9 122.72v1.8M525.4 122.72v1.8M528.9 122.72v1.8M532.4 122.72v1.8M535.9 122.72v1.8M539.4 122.72v1.8M542.9 122.72v1.8M546.4 122.72v1.8M549.9 122.72v1.8M553.4 122.72v1.8M556.9 122.72v1.8M560.4 122.72v1.8M563.9 122.72v1.8M567.4 122.72v1.8" stroke="#666" stroke-width="0.5" fill="none"/>
<line x1="497.4" y1="120.92" x2="497.4" y2="125.92" stroke="#222" stroke-width="0.8"/>
<line x1="532.4" y1="120.92" x2="532.4" y2="125.92" stroke="#222" stroke-width="0.8"/>
<line x1="567.4" y1="120.92" x2="567.4" y2="125.92" stroke="#222" stroke-width="0.8"/>
<line x1="516.6" y1="123.32" x2="516.6" y2="114.5" stroke="#ee1c1c" stroke-width="0.79"/>
<line x1="502.2" y1="123.32" x2="502.2" y2="120.17" stroke="#ccc" stroke-width="0.62"/>
<line x1="558.6" y1="123.32" x2="558.6" y2="120.17" stroke="#ccc" stroke-width="0.62"/>
<path d="M490.9 124.12V110.72H567.5" fill="none" stroke="#6e6e6e" stroke-width="0.7"/>
<line x1="490.9" y1="137.08" x2="567.5" y2="137.08" stroke="#d4d4d4" stroke-width="0.6"/>
<path d="M491.4 142.88v-0.97M492.25 142.88v-0.6M493.08 142.88v-0.66M494.19 142.88v-0.66M495.13 142.88v-0.6M496.38 142.88v-2.02M497.69 142.88v-1.04M499.04 142.88v-0.62M500.45 142.88v-0.83M501.69 142.88v-1.15M502.86 142.88v-0.67M503.81 142.88v-0.63M505.02 142.88v-0.74M506.3 142.88v-0.6M507.36 142.88v-2.14M508.3 142.88v-1.01M509.49 142.88v-0.66M511.17 142.88v-0.66M512.65 142.88v-0.61M513.41 142.88v-2.19M514.55 142.88v-0.6M515.64 142.88v-0.8M517.08 142.88v-0.6M518 142.88v-2.72M519.44 142.88v-0.61M520.48 142.88v-0.71M521.85 142.88v-1.16M523.4 142.88v-1.93M524.62 142.88v-1.57M526.06 142.88v-1.65M527.24 142.88v-1.76M528.65 142.88v-2.44M529.47 142.88v-2.18M530.18 142.88v-1.68M531.46 142.88v-0.9M533.13 142.88v-1.05M534.25 142.88v-1.76M535.82 142.88v-1.14M536.9 142.88v-0.82M538.06 142.88v-1.51M539.05 142.88v-0.74M540.3 142.88v-0.74M541.33 142.88v-1.77M542.88 142.88v-0.9M544.02 142.88v-0.62M545.02 142.88v-0.61M546.3 142.88v-1.07M547.09 142.88v-2.47M548.11 142.88v-2.04M549.65 142.88v-2.72M550.55 142.88v-0.79M552.16 142.88v-0.6M552.91 142.88v-1.03M554.11 142.88v-2.47M555.58 142.88v-0.97M557.28 142.88v-0.93M558.5 142.88v-1.37M559.59 142.88v-0.71M560.88 142.88v-0.7M562.53 142.88v-1.34M563.76 142.88v-0.6M564.83 142.88v-0.75M566.09 142.88v-1.05" stroke="#b4b4b4" stroke-width="0.7" fill="none"/>
<line x1="490.9" y1="142.88" x2="567.5" y2="142.88" stroke="#9a9a9a" stroke-width="1"/>
<path d="M493.9 142.28v1.8M497.4 142.28v1.8M500.9 142.28v1.8M504.4 142.28v1.8M507.9 142.28v1.8M511.4 142.28v1.8M514.9 142.28v1.8M518.4 142.28v1.8M521.9 142.28v1.8M525.4 142.28v1.8M528.9 142.28v1.8M532.4 142.28v1.8M535.9 142.28v1.8M539.4 142.28v1.8M542.9 142.28v1.8M546.4 142.28v1.8M549.9 142.28v1.8M553.4 142.28v1.8M556.9 142.28v1.8M560.4 142.28v1.8M563.9 142.28v1.8M567.4 142.28v1.8" stroke="#666" stroke-width="0.5" fill="none"/>
<line x1="497.4" y1="140.48" x2="497.4" y2="145.48" stroke="#222" stroke-width="0.8"/>
<line x1="532.4" y1="140.48" x2="532.4" y2="145.48" stroke="#222" stroke-width="0.8"/>
<line x1="567.4" y1="140.48" x2="567.4" y2="145.48" stroke="#222" stroke-width="0.8"/>
<line x1="516.6" y1="142.88" x2="516.6" y2="133.81" stroke="#ee1c1c" stroke-width="0.79"/>
<line x1="502.2" y1="142.88" x2="502.2" y2="139.73" stroke="#ccc" stroke-width="0.62"/>
<line x1="558.6" y1="142.88" x2="558.6" y2="139.1" stroke="#ccc" stroke-width="0.62"/>
<path d="M490.9 143.68V130.28H567.5" fill="none" stroke="#6e6e6e" stroke-width="0.7"/>
<line x1="490.9" y1="156.64" x2="567.5" y2="156.64" stroke="#d4d4d4" stroke-width="0.6"/>
<path d="M491.4 162.44v-2.75M492.59 162.44v-0.8M493.91 162.44v-2.97M494.95 162.44v-0.96M496.47 162.44v-0.61M497.49 162.44v-2.85M499.01 162.44v-0.92M499.83 162.44v-2.32M501.21 162.44v-1.93M502.91 162.44v-2.28M504.03 162.44v-0.61M505.02 162.44v-0.92M506.22 162.44v-0.62M507.1 162.44v-1.2M508.41 162.44v-0.71M510.1 162.44v-1.22M510.84 162.44v-0.77M512.33 162.44v-0.67M513.72 162.44v-0.6M514.73 162.44v-2.03M516.01 162.44v-1.32M516.91 162.44v-0.9M518.16 162.44v-0.65M519.51 162.44v-0.96M521.21 162.44v-1.05M522.32 162.44v-0.6M523.17 162.44v-1.65M523.98 162.44v-0.6M524.85 162.44v-0.94M526.37 162.44v-1.15M527.88 162.44v-0.6M528.59 162.44v-1.7M529.62 162.44v-1.48M530.67 162.44v-0.61M531.64 162.44v-0.6M533.24 162.44v-1.07M534.29 162.44v-0.82M535.37 162.44v-0.6M536.96 162.44v-1.07M538.62 162.44v-0.8M539.94 162.44v-0.64M540.69 162.44v-2.54M542.24 162.44v-0.67M543.84 162.44v-1.9M544.85 162.44v-1.13M546.51 162.44v-0.89M548.16 162.44v-0.63M549.25 162.44v-1.49M550.17 162.44v-0.67M551.74 162.44v-0.87M553.23 162.44v-0.63M554.11 162.44v-0.71M554.99 162.44v-2.8M555.99 162.44v-1.02M556.8 162.44v-0.96M557.89 162.44v-0.76M558.65 162.44v-0.6M560.18 162.44v-0.7M561.12 162.44v-0.62M562.11 162.44v-0.63M562.84 162.44v-1.3M563.88 162.44v-0.61M565.29 162.44v-0.6M566.26 162.44v-2M567.09 162.44v-0.81" stroke="#b4b4b4" stroke-width="0.7" fill="none"/>
<line x1="490.9" y1="162.44" x2="567.5" y2="162.44" stroke="#9a9a9a" stroke-width="1"/>
<path d="M493.9 161.84v1.8M497.4 161.84v1.8M500.9 161.84v1.8M504.4 161.84v1.8M507.9 161.84v1.8M511.4 161.84v1.8M514.9 161.84v1.8M518.4 161.84v1.8M521.9 161.84v1.8M525.4 161.84v1.8M528.9 161.84v1.8M532.4 161.84v1.8M535.9 161.84v1.8M539.4 161.84v1.8M542.9 161.84v1.8M546.4 161.84v1.8M549.9 161.84v1.8M553.4 161.84v1.8M556.9 161.84v1.8M560.4 161.84v1.8M563.9 161.84v1.8M567.4 161.84v1.8" stroke="#666" stroke-width="0.5" fill="none"/>
<line x1="497.4" y1="160.04" x2="497.4" y2="165.04" stroke="#222" stroke-width="0.8"/>
<line x1="532.4" y1="160.04" x2="532.4" y2="165.04" stroke="#222" stroke-width="0.8"/>
<line x1="567.4" y1="160.04" x2="567.4" y2="165.04" stroke="#222" stroke-width="0.8"/>
<line x1="502.2" y1="162.44" x2="502.2" y2="149.34" stroke="#f4777a" stroke-width="0.97"/>
<line x1="558.6" y1="162.44" x2="558.6" y2="149.34" stroke="#ee1c1c" stroke-width="1.14"/>
<line x1="516.6" y1="162.44" x2="516.6" y2="159.29" stroke="#ccc" stroke-width="0.62"/>
<line x1="565.2" y1="162.44" x2="565.2" y2="157.4" stroke="#ccc" stroke-width="0.62"/>
<path d="M490.9 163.24V149.84H567.5" fill="none" stroke="#6e6e6e" stroke-width="0.7"/>
<line x1="490.9" y1="176.2" x2="567.5" y2="176.2" stroke="#d4d4d4" stroke-width="0.6"/>
<path d="M491.4 182v-1.85M492.26 182v-0.71M493.68 182v-0.73M495.34 182v-0.62M496.99 182v-0.91M497.92 182v-0.82M498.75 182v-1.45M499.71 182v-2.35M501 182v-0.72M501.94 182v-1.14M502.86 182v-2.19M503.68 182v-0.92M504.92 182v-0.65M506.39 182v-0.74M507.75 182v-1.04M508.76 182v-0.74M509.55 182v-0.61M511.1 182v-0.68M512.46 182v-0.6M513.72 182v-0.71M514.92 182v-0.66M515.69 182v-0.67M516.62 182v-0.6M518.03 182v-0.65M519.14 182v-2.4M520.61 182v-2.25M522.17 182v-0.61M523.15 182v-0.6M524.53 182v-1.3M525.58 182v-0.77M526.94 182v-1.42M527.89 182v-2.06M528.94 182v-1.2M529.82 182v-0.6M531.43 182v-1.55M532.85 182v-0.6M533.59 182v-0.61M534.48 182v-0.67M535.57 182v-0.6M536.58 182v-1.22M537.46 182v-2.02M538.73 182v-1.48M539.68 182v-0.8M541.07 182v-0.7M541.77 182v-1.99M543.24 182v-0.66M543.99 182v-2.1M545.29 182v-0.6M546.24 182v-0.6M547.73 182v-0.62M549.34 182v-1.61M550.13 182v-1.4M551.22 182v-1.6M552.75 182v-0.65M553.54 182v-2.63M554.67 182v-2.53M556.06 182v-1.57M557.59 182v-1.19M558.74 182v-0.6M560.14 182v-0.79M561.35 182v-2.52M562.18 182v-1.66M562.92 182v-1.43M564.43 182v-0.64M565.67 182v-2.79M567.01 182v-0.99" stroke="#b4b4b4" stroke-width="0.7" fill="none"/>
<line x1="490.9" y1="182" x2="567.5" y2="182" stroke="#9a9a9a" stroke-width="1"/>
<path d="M493.9 181.4v1.8M497.4 181.4v1.8M500.9 181.4v1.8M504.4 181.4v1.8M507.9 181.4v1.8M511.4 181.4v1.8M514.9 181.4v1.8M518.4 181.4v1.8M521.9 181.4v1.8M525.4 181.4v1.8M528.9 181.4v1.8M532.4 181.4v1.8M535.9 181.4v1.8M539.4 181.4v1.8M542.9 181.4v1.8M546.4 181.4v1.8M549.9 181.4v1.8M553.4 181.4v1.8M556.9 181.4v1.8M560.4 181.4v1.8M563.9 181.4v1.8M567.4 181.4v1.8" stroke="#666" stroke-width="0.5" fill="none"/>
<line x1="497.4" y1="179.6" x2="497.4" y2="184.6" stroke="#222" stroke-width="0.8"/>
<line x1="532.4" y1="179.6" x2="532.4" y2="184.6" stroke="#222" stroke-width="0.8"/>
<line x1="567.4" y1="179.6" x2="567.4" y2="184.6" stroke="#222" stroke-width="0.8"/>
<line x1="502.2" y1="182" x2="502.2" y2="173.18" stroke="#ee1c1c" stroke-width="0.88"/>
<line x1="516.6" y1="182" x2="516.6" y2="168.9" stroke="#ee1c1c" stroke-width="0.97"/>
<line x1="558.6" y1="182" x2="558.6" y2="168.9" stroke="#ee1c1c" stroke-width="1.14"/>
<path d="M490.9 182.8V169.4H567.5" fill="none" stroke="#6e6e6e" stroke-width="0.7"/>
<line x1="490.9" y1="195.76" x2="567.5" y2="195.76" stroke="#d4d4d4" stroke-width="0.6"/>
<path d="M491.4 201.56v-0.6M492.46 201.56v-0.77M493.36 201.56v-0.67M494.2 201.56v-1.45M495.57 201.56v-0.63M496.51 201.56v-0.93M497.65 201.56v-2.57M498.7 201.56v-0.66M500.29 201.56v-0.61M501.55 201.56v-0.69M503.07 201.56v-1M504.53 201.56v-0.61M505.89 201.56v-1.11M507.06 201.56v-1.68M508.59 201.56v-0.6M509.58 201.56v-0.71M510.48 201.56v-0.6M511.46 201.56v-0.62M512.87 201.56v-0.82M513.68 201.56v-0.68M514.85 201.56v-0.71M515.72 201.56v-0.6M516.43 201.56v-2.94M517.88 201.56v-0.6M519.29 201.56v-2.86M520.56 201.56v-0.6M521.75 201.56v-0.8M522.64 201.56v-0.98M523.34 201.56v-2.47M524.69 201.56v-1.19M526.32 201.56v-1.27M527.28 201.56v-0.64M528.11 201.56v-0.6M529.59 201.56v-2.02M530.58 201.56v-0.62M531.92 201.56v-2.05M533.55 201.56v-0.61M535.03 201.56v-1.97M536.48 201.56v-0.68M537.36 201.56v-1.95M538.38 201.56v-0.72M539.63 201.56v-0.72M541.16 201.56v-0.63M541.9 201.56v-1.04M543.23 201.56v-1.92M544.64 201.56v-2.38M546.28 201.56v-0.89M547.48 201.56v-0.61M548.48 201.56v-1.07M549.26 201.56v-1.38M550.13 201.56v-0.81M551.8 201.56v-0.6M552.54 201.56v-0.8M553.43 201.56v-1.51M554.13 201.56v-2.03M555.69 201.56v-1.77M556.81 201.56v-0.65M558.17 201.56v-0.93M559.29 201.56v-0.69M560.43 201.56v-1.31M561.96 201.56v-2.37M562.82 201.56v-0.66M563.97 201.56v-1.03M565.01 201.56v-0.62M565.8 201.56v-0.68M566.96 201.56v-2.8" stroke="#b4b4b4" stroke-width="0.7" fill="none"/>
<line x1="490.9" y1="201.56" x2="567.5" y2="201.56" stroke="#9a9a9a" stroke-width="1"/>
<path d="M493.9 200.96v1.8M497.4 200.96v1.8M500.9 200.96v1.8M504.4 200.96v1.8M507.9 200.96v1.8M511.4 200.96v1.8M514.9 200.96v1.8M518.4 200.96v1.8M521.9 200.96v1.8M525.4 200.96v1.8M528.9 200.96v1.8M532.4 200.96v1.8M535.9 200.96v1.8M539.4 200.96v1.8M542.9 200.96v1.8M546.4 200.96v1.8M549.9 200.96v1.8M553.4 200.96v1.8M556.9 200.96v1.8M560.4 200.96v1.8M563.9 200.96v1.8M567.4 200.96v1.8" stroke="#666" stroke-width="0.5" fill="none"/>
<line x1="497.4" y1="199.16" x2="497.4" y2="204.16" stroke="#222" stroke-width="0.8"/>
<line x1="532.4" y1="199.16" x2="532.4" y2="204.16" stroke="#222" stroke-width="0.8"/>
<line x1="567.4" y1="199.16" x2="567.4" y2="204.16" stroke="#222" stroke-width="0.8"/>
<line x1="502.2" y1="201.56" x2="502.2" y2="188.46" stroke="#ee1c1c" stroke-width="0.88"/>
<line x1="516.1" y1="201.56" x2="516.1" y2="188.46" stroke="#ee1c1c" stroke-width="0.88"/>
<line x1="517.3" y1="201.56" x2="517.3" y2="188.46" stroke="#f4777a" stroke-width="0.88"/>
<line x1="558.6" y1="201.56" x2="558.6" y2="197.78" stroke="#ccc" stroke-width="0.62"/>
<path d="M490.9 202.36V188.96H567.5" fill="none" stroke="#6e6e6e" stroke-width="0.7"/>
<line x1="490.9" y1="215.32" x2="567.5" y2="215.32" stroke="#d4d4d4" stroke-width="0.6"/>
<path d="M491.4 221.12v-2.16M493.07 221.12v-2.74M494.39 221.12v-1.88M495.15 221.12v-1.34M496.46 221.12v-0.66M497.73 221.12v-2.68M498.92 221.12v-1.25M499.91 221.12v-0.7M501.5 221.12v-0.6M502.39 221.12v-1.35M503.54 221.12v-0.6M504.9 221.12v-0.72M506.18 221.12v-0.77M507.41 221.12v-1.03M508.5 221.12v-0.6M509.38 221.12v-2.29M510.63 221.12v-0.6M512.19 221.12v-0.64M512.99 221.12v-0.96M513.94 221.12v-0.88M515.19 221.12v-0.63M516.47 221.12v-0.6M517.68 221.12v-1.09M518.46 221.12v-0.76M519.23 221.12v-0.8M520.8 221.12v-1M522.21 221.12v-1.64M523.03 221.12v-2.93M524.45 221.12v-0.6M525.98 221.12v-0.74M526.85 221.12v-2.72M528.11 221.12v-1.72M528.95 221.12v-1.72M529.71 221.12v-0.63M530.78 221.12v-0.6M532.07 221.12v-0.62M533.07 221.12v-1.45M534.2 221.12v-2.28M535.52 221.12v-2.19M536.78 221.12v-2.45M538.35 221.12v-0.61M539.8 221.12v-0.7M541.26 221.12v-1.36M542.79 221.12v-0.6M543.86 221.12v-1.56M545.51 221.12v-1.5M546.25 221.12v-1.13M547.05 221.12v-1M548.56 221.12v-0.6M550.18 221.12v-1.34M551.14 221.12v-0.62M552.28 221.12v-2.01M553.56 221.12v-0.6M554.29 221.12v-0.6M555.79 221.12v-0.62M557.04 221.12v-0.66M558.43 221.12v-0.73M559.27 221.12v-2.21M560.51 221.12v-1.39M562.02 221.12v-2.65M562.73 221.12v-0.7M563.58 221.12v-0.9M565.16 221.12v-1.83M565.89 221.12v-0.61M567.41 221.12v-1.35" stroke="#b4b4b4" stroke-width="0.7" fill="none"/>
<line x1="490.9" y1="221.12" x2="567.5" y2="221.12" stroke="#9a9a9a" stroke-width="1"/>
<path d="M493.9 220.52v1.8M497.4 220.52v1.8M500.9 220.52v1.8M504.4 220.52v1.8M507.9 220.52v1.8M511.4 220.52v1.8M514.9 220.52v1.8M518.4 220.52v1.8M521.9 220.52v1.8M525.4 220.52v1.8M528.9 220.52v1.8M532.4 220.52v1.8M535.9 220.52v1.8M539.4 220.52v1.8M542.9 220.52v1.8M546.4 220.52v1.8M549.9 220.52v1.8M553.4 220.52v1.8M556.9 220.52v1.8M560.4 220.52v1.8M563.9 220.52v1.8M567.4 220.52v1.8" stroke="#666" stroke-width="0.5" fill="none"/>
<line x1="497.4" y1="218.72" x2="497.4" y2="223.72" stroke="#222" stroke-width="0.8"/>
<line x1="532.4" y1="218.72" x2="532.4" y2="223.72" stroke="#222" stroke-width="0.8"/>
<line x1="567.4" y1="218.72" x2="567.4" y2="223.72" stroke="#222" stroke-width="0.8"/>
<line x1="502.2" y1="221.12" x2="502.2" y2="214.06" stroke="#ee1c1c" stroke-width="0.88"/>
<line x1="516.6" y1="221.12" x2="516.6" y2="218.6" stroke="#ccc" stroke-width="0.62"/>
<path d="M490.9 221.92V208.52H567.5" fill="none" stroke="#6e6e6e" stroke-width="0.7"/>
<line x1="490.9" y1="234.88" x2="567.5" y2="234.88" stroke="#d4d4d4" stroke-width="0.6"/>
<path d="M491.4 240.68v-0.86M492.26 240.68v-2.05M493.35 240.68v-2.2M494.66 240.68v-0.6M495.69 240.68v-0.62M497.29 240.68v-1.09M498.03 240.68v-0.61M499.09 240.68v-0.85M500.37 240.68v-0.74M501.42 240.68v-0.6M502.7 240.68v-0.69M503.42 240.68v-0.83M505.11 240.68v-0.6M505.95 240.68v-1.32M506.93 240.68v-0.65M508.13 240.68v-0.64M509.39 240.68v-0.95M511.05 240.68v-2.94M511.79 240.68v-1.02M513.26 240.68v-2.19M514.73 240.68v-1.21M516.07 240.68v-0.71M517.05 240.68v-1.81M518.62 240.68v-2.58M520 240.68v-0.67M521.46 240.68v-1.57M522.67 240.68v-1.22M523.72 240.68v-1M524.83 240.68v-0.6M525.87 240.68v-0.68M527.56 240.68v-0.87M528.62 240.68v-0.63M529.56 240.68v-0.7M530.39 240.68v-0.6M531.96 240.68v-0.82M533.11 240.68v-1.04M534.11 240.68v-0.61M534.88 240.68v-0.67M535.89 240.68v-1.52M537.14 240.68v-2.58M538.18 240.68v-2.48M539.46 240.68v-0.6M540.34 240.68v-1.07M542.03 240.68v-0.71M543.5 240.68v-0.79M545.07 240.68v-0.6M546.26 240.68v-2.34M547.23 240.68v-0.64M547.95 240.68v-0.61M548.92 240.68v-1.44M549.84 240.68v-0.75M550.74 240.68v-1.13M552.31 240.68v-1.25M553.2 240.68v-1.55M554.87 240.68v-1.12M555.64 240.68v-1.87M557.22 240.68v-0.7M558.06 240.68v-0.62M559.29 240.68v-2.21M560.63 240.68v-2.49M561.55 240.68v-0.68M563 240.68v-1.26M564.1 240.68v-1.35M565.14 240.68v-0.6M566.25 240.68v-0.6" stroke="#b4b4b4" stroke-width="0.7" fill="none"/>
<line x1="490.9" y1="240.68" x2="567.5" y2="240.68" stroke="#9a9a9a" stroke-width="1"/>
<path d="M493.9 240.08v1.8M497.4 240.08v1.8M500.9 240.08v1.8M504.4 240.08v1.8M507.9 240.08v1.8M511.4 240.08v1.8M514.9 240.08v1.8M518.4 240.08v1.8M521.9 240.08v1.8M525.4 240.08v1.8M528.9 240.08v1.8M532.4 240.08v1.8M535.9 240.08v1.8M539.4 240.08v1.8M542.9 240.08v1.8M546.4 240.08v1.8M549.9 240.08v1.8M553.4 240.08v1.8M556.9 240.08v1.8M560.4 240.08v1.8M563.9 240.08v1.8M567.4 240.08v1.8" stroke="#666" stroke-width="0.5" fill="none"/>
<line x1="497.4" y1="238.28" x2="497.4" y2="243.28" stroke="#222" stroke-width="0.8"/>
<line x1="532.4" y1="238.28" x2="532.4" y2="243.28" stroke="#222" stroke-width="0.8"/>
<line x1="567.4" y1="238.28" x2="567.4" y2="243.28" stroke="#222" stroke-width="0.8"/>
<line x1="502.2" y1="240.68" x2="502.2" y2="227.58" stroke="#ee1c1c" stroke-width="0.88"/>
<line x1="516.1" y1="240.68" x2="516.1" y2="227.58" stroke="#ee1c1c" stroke-width="0.88"/>
<line x1="517.3" y1="240.68" x2="517.3" y2="227.58" stroke="#f4777a" stroke-width="0.88"/>
<line x1="558.6" y1="240.68" x2="558.6" y2="236.9" stroke="#ccc" stroke-width="0.62"/>
<path d="M490.9 241.48V228.08H567.5" fill="none" stroke="#6e6e6e" stroke-width="0.7"/>
<line x1="490.9" y1="254.44" x2="567.5" y2="254.44" stroke="#d4d4d4" stroke-width="0.6"/>
<path d="M491.4 260.24v-0.69M492.59 260.24v-1.11M493.55 260.24v-0.84M494.26 260.24v-2.5M495.53 260.24v-2.91M496.29 260.24v-1.16M497.71 260.24v-0.69M498.5 260.24v-0.61M499.35 260.24v-1.68M500.14 260.24v-1.89M501.26 260.24v-0.98M502.55 260.24v-1.01M503.9 260.24v-1.12M504.94 260.24v-1.58M505.89 260.24v-1.46M507.36 260.24v-1.72M508.37 260.24v-1.71M510.04 260.24v-0.82M511.02 260.24v-0.94M512.66 260.24v-0.61M513.37 260.24v-0.86M514.73 260.24v-1.71M515.79 260.24v-2.93M516.72 260.24v-1.64M517.51 260.24v-0.6M518.34 260.24v-0.6M519.54 260.24v-1.01M520.42 260.24v-2.59M521.49 260.24v-0.61M522.37 260.24v-1.56M523.99 260.24v-0.61M524.72 260.24v-1.73M525.66 260.24v-2.88M526.86 260.24v-1.22M527.9 260.24v-1.83M529.06 260.24v-0.68M530.67 260.24v-0.6M532.1 260.24v-0.6M533.45 260.24v-0.76M535.01 260.24v-0.6M536.27 260.24v-0.77M537.89 260.24v-2.63M539.22 260.24v-0.63M540.17 260.24v-0.64M541.31 260.24v-0.63M542.21 260.24v-1.65M543.55 260.24v-0.66M545.25 260.24v-0.62M546.52 260.24v-0.61M548.08 260.24v-2.18M549.05 260.24v-1.62M550.57 260.24v-0.65M551.6 260.24v-0.87M553.19 260.24v-0.61M554.58 260.24v-1.11M555.73 260.24v-1.07M557.31 260.24v-0.62M558.89 260.24v-0.71M560.37 260.24v-2.14M561.26 260.24v-2.15M562.95 260.24v-0.66M563.68 260.24v-0.6M565.35 260.24v-0.6M566.96 260.24v-0.61" stroke="#b4b4b4" stroke-width="0.7" fill="none"/>
<line x1="490.9" y1="260.24" x2="567.5" y2="260.24" stroke="#9a9a9a" stroke-width="1"/>
<path d="M493.9 259.64v1.8M497.4 259.64v1.8M500.9 259.64v1.8M504.4 259.64v1.8M507.9 259.64v1.8M511.4 259.64v1.8M514.9 259.64v1.8M518.4 259.64v1.8M521.9 259.64v1.8M525.4 259.64v1.8M528.9 259.64v1.8M532.4 259.64v1.8M535.9 259.64v1.8M539.4 259.64v1.8M542.9 259.64v1.8M546.4 259.64v1.8M549.9 259.64v1.8M553.4 259.64v1.8M556.9 259.64v1.8M560.4 259.64v1.8M563.9 259.64v1.8M567.4 259.64v1.8" stroke="#666" stroke-width="0.5" fill="none"/>
<line x1="497.4" y1="257.84" x2="497.4" y2="262.84" stroke="#222" stroke-width="0.8"/>
<line x1="532.4" y1="257.84" x2="532.4" y2="262.84" stroke="#222" stroke-width="0.8"/>
<line x1="567.4" y1="257.84" x2="567.4" y2="262.84" stroke="#222" stroke-width="0.8"/>
<line x1="558.6" y1="260.24" x2="558.6" y2="246.63" stroke="#f4777a" stroke-width="0.97"/>
<line x1="502.2" y1="260.24" x2="502.2" y2="255.2" stroke="#ccc" stroke-width="0.62"/>
<line x1="537.6" y1="260.24" x2="537.6" y2="254.57" stroke="#ccc" stroke-width="0.62"/>
<line x1="562" y1="260.24" x2="562" y2="254.57" stroke="#ccc" stroke-width="0.62"/>
<path d="M490.9 261.04V247.64H567.5" fill="none" stroke="#6e6e6e" stroke-width="0.7"/>
<line x1="490.9" y1="274" x2="567.5" y2="274" stroke="#d4d4d4" stroke-width="0.6"/>
<path d="M491.4 279.8v-0.6M492.27 279.8v-1.36M493.06 279.8v-0.69M494.68 279.8v-1.48M496.26 279.8v-2.86M496.99 279.8v-0.63M498.48 279.8v-1.39M499.22 279.8v-0.91M500.15 279.8v-0.79M500.96 279.8v-0.6M502.65 279.8v-0.68M504.23 279.8v-0.6M505.42 279.8v-0.61M506.54 279.8v-0.61M507.93 279.8v-0.61M509.37 279.8v-0.9M510.18 279.8v-0.71M511.38 279.8v-2.46M512.43 279.8v-0.62M514.09 279.8v-2.25M515.52 279.8v-0.65M516.4 279.8v-0.64M517.17 279.8v-0.6M518.38 279.8v-0.76M519.64 279.8v-0.71M520.35 279.8v-1.38M521.7 279.8v-0.99M522.95 279.8v-1.39M524.63 279.8v-2.2M526.05 279.8v-0.75M527.07 279.8v-0.78M528.74 279.8v-0.74M529.83 279.8v-0.77M530.67 279.8v-2.99M531.37 279.8v-1.14M533 279.8v-0.64M534.31 279.8v-0.73M535.25 279.8v-0.62M536.07 279.8v-2.04M537.55 279.8v-2.4M538.3 279.8v-1.4M539.33 279.8v-1.25M540.57 279.8v-0.68M542.25 279.8v-0.6M543.69 279.8v-2.09M544.9 279.8v-1.1M546.6 279.8v-0.63M547.93 279.8v-1.59M549.01 279.8v-1.47M550.1 279.8v-0.95M551.41 279.8v-1.35M552.43 279.8v-1.2M553.68 279.8v-0.63M554.99 279.8v-0.64M556.6 279.8v-0.85M558.02 279.8v-0.94M559.2 279.8v-0.63M560.04 279.8v-2.51M561.27 279.8v-0.95M562.49 279.8v-1.89M563.43 279.8v-0.61M564.96 279.8v-0.83M566.3 279.8v-1.96" stroke="#b4b4b4" stroke-width="0.7" fill="none"/>
<line x1="490.9" y1="279.8" x2="567.5" y2="279.8" stroke="#9a9a9a" stroke-width="1"/>
<path d="M493.9 279.2v1.8M497.4 279.2v1.8M500.9 279.2v1.8M504.4 279.2v1.8M507.9 279.2v1.8M511.4 279.2v1.8M514.9 279.2v1.8M518.4 279.2v1.8M521.9 279.2v1.8M525.4 279.2v1.8M528.9 279.2v1.8M532.4 279.2v1.8M535.9 279.2v1.8M539.4 279.2v1.8M542.9 279.2v1.8M546.4 279.2v1.8M549.9 279.2v1.8M553.4 279.2v1.8M556.9 279.2v1.8M560.4 279.2v1.8M563.9 279.2v1.8M567.4 279.2v1.8" stroke="#666" stroke-width="0.5" fill="none"/>
<line x1="497.4" y1="277.4" x2="497.4" y2="282.4" stroke="#222" stroke-width="0.8"/>
<line x1="532.4" y1="277.4" x2="532.4" y2="282.4" stroke="#222" stroke-width="0.8"/>
<line x1="567.4" y1="277.4" x2="567.4" y2="282.4" stroke="#222" stroke-width="0.8"/>
<line x1="558.6" y1="279.8" x2="558.6" y2="266.7" stroke="#f4777a" stroke-width="0.97"/>
<line x1="502.2" y1="279.8" x2="502.2" y2="277.28" stroke="#ccc" stroke-width="0.62"/>
<path d="M490.9 280.6V267.2H567.5" fill="none" stroke="#6e6e6e" stroke-width="0.7"/>
<line x1="578.4" y1="78.4" x2="669" y2="78.4" stroke="#d4d4d4" stroke-width="0.6"/>
<path d="M578.9 84.2v-2.17M579.64 84.2v-0.73M581.18 84.2v-1.91M582 84.2v-0.61M582.95 84.2v-0.6M584.01 84.2v-1.84M585.23 84.2v-0.82M586.02 84.2v-0.75M587.71 84.2v-1.41M588.86 84.2v-0.86M590.36 84.2v-1.65M591.21 84.2v-1.36M592.28 84.2v-0.94M593.21 84.2v-0.72M594.25 84.2v-0.73M594.97 84.2v-0.62M596.24 84.2v-0.6M597.12 84.2v-1.49M598.1 84.2v-0.68M599.04 84.2v-1.99M599.83 84.2v-1.22M601.39 84.2v-0.62M602.51 84.2v-1.79M603.83 84.2v-0.72M604.57 84.2v-0.81M605.64 84.2v-1.47M606.64 84.2v-0.76M607.98 84.2v-1.88M609.04 84.2v-0.74M610.31 84.2v-2.5M611.21 84.2v-2.8M612.62 84.2v-0.72M613.98 84.2v-0.69M614.75 84.2v-1.64M615.83 84.2v-0.95M617.03 84.2v-2.36M618.49 84.2v-0.6M619.78 84.2v-0.84M620.94 84.2v-2.02M622.06 84.2v-0.85M623.65 84.2v-0.8M624.84 84.2v-0.92M626.36 84.2v-1.32M627.8 84.2v-0.76M628.55 84.2v-1.35M629.8 84.2v-1.69M631.27 84.2v-0.6M632.19 84.2v-0.6M633.71 84.2v-0.6M634.5 84.2v-1.63M635.76 84.2v-0.6M637.14 84.2v-1.46M638.32 84.2v-0.6M639.71 84.2v-0.78M641 84.2v-2.99M642.52 84.2v-2.19M643.36 84.2v-0.69M644.58 84.2v-0.6M646.27 84.2v-0.65M647.23 84.2v-0.67M648.19 84.2v-2.12M649.44 84.2v-0.92M650.56 84.2v-0.6M651.57 84.2v-2.16M653.07 84.2v-2.11M654.02 84.2v-0.62M654.78 84.2v-0.97M655.85 84.2v-0.84M657.04 84.2v-1.08M658.11 84.2v-1.84M659.01 84.2v-2.47M660.26 84.2v-0.6M661.28 84.2v-0.96M662.38 84.2v-1.03M663.41 84.2v-0.65M664.9 84.2v-0.66M666.31 84.2v-1.84M667.61 84.2v-0.83" stroke="#b4b4b4" stroke-width="0.7" fill="none"/>
<line x1="578.4" y1="84.2" x2="669" y2="84.2" stroke="#9a9a9a" stroke-width="1"/>
<path d="M578.4 83.6v1.8M581.89 83.6v1.8M585.38 83.6v1.8M588.87 83.6v1.8M592.36 83.6v1.8M595.85 83.6v1.8M599.34 83.6v1.8M602.83 83.6v1.8M606.32 83.6v1.8M609.81 83.6v1.8M613.3 83.6v1.8M616.79 83.6v1.8M620.28 83.6v1.8M623.77 83.6v1.8M627.26 83.6v1.8M630.75 83.6v1.8M634.24 83.6v1.8M637.73 83.6v1.8M641.22 83.6v1.8M644.71 83.6v1.8M648.2 83.6v1.8M651.69 83.6v1.8M655.18 83.6v1.8M658.67 83.6v1.8M662.16 83.6v1.8M665.65 83.6v1.8" stroke="#666" stroke-width="0.5" fill="none"/>
<line x1="578.4" y1="81.8" x2="578.4" y2="86.8" stroke="#222" stroke-width="0.8"/>
<line x1="613.3" y1="81.8" x2="613.3" y2="86.8" stroke="#222" stroke-width="0.8"/>
<line x1="648.1" y1="81.8" x2="648.1" y2="86.8" stroke="#222" stroke-width="0.8"/>
<line x1="605.7" y1="84.2" x2="605.7" y2="80.42" stroke="#ccc" stroke-width="0.62"/>
<line x1="651.5" y1="84.2" x2="651.5" y2="79.16" stroke="#ccc" stroke-width="0.62"/>
<path d="M578.4 85V71.6H669" fill="none" stroke="#6e6e6e" stroke-width="0.7"/>
<line x1="578.4" y1="97.96" x2="669" y2="97.96" stroke="#d4d4d4" stroke-width="0.6"/>
<path d="M578.9 103.76v-0.81M580.48 103.76v-0.6M581.61 103.76v-1.23M582.36 103.76v-2.14M583.13 103.76v-1.11M584.01 103.76v-2.48M585.27 103.76v-1.83M586.47 103.76v-1.33M587.85 103.76v-0.66M588.76 103.76v-2.01M589.6 103.76v-2.46M590.51 103.76v-0.6M591.31 103.76v-1.76M592.96 103.76v-0.77M594.32 103.76v-0.64M595.92 103.76v-1.37M596.78 103.76v-0.6M598.17 103.76v-0.6M599.71 103.76v-0.66M600.64 103.76v-1.07M601.66 103.76v-1.02M602.51 103.76v-2.42M603.54 103.76v-2.03M604.39 103.76v-1.83M606.07 103.76v-0.74M606.8 103.76v-0.73M608.14 103.76v-0.63M609.39 103.76v-0.6M610.55 103.76v-1.53M611.68 103.76v-1.35M612.5 103.76v-1.96M613.32 103.76v-2.49M615.02 103.76v-2.59M616.24 103.76v-0.66M617.29 103.76v-1.61M618.49 103.76v-2.53M619.28 103.76v-0.87M620.84 103.76v-1.11M622.09 103.76v-0.6M622.92 103.76v-0.65M624.52 103.76v-2.05M625.44 103.76v-2.5M626.18 103.76v-1.12M627.84 103.76v-0.7M629.49 103.76v-1.28M630.24 103.76v-0.69M631.39 103.76v-0.64M632.83 103.76v-0.61M634.32 103.76v-0.66M635.09 103.76v-1.02M635.88 103.76v-1M637.37 103.76v-1.11M638.53 103.76v-0.6M639.75 103.76v-0.6M641.09 103.76v-0.61M642.37 103.76v-0.71M643.45 103.76v-1.3M644.31 103.76v-0.61M645.95 103.76v-0.69M647.49 103.76v-2.2M648.67 103.76v-0.61M649.47 103.76v-2.23M650.29 103.76v-0.89M651.52 103.76v-0.6M652.69 103.76v-0.61M653.92 103.76v-0.91M654.99 103.76v-0.62M656.1 103.76v-0.62M656.92 103.76v-0.63M658.49 103.76v-0.9M660.08 103.76v-0.6M661.73 103.76v-0.88M663.22 103.76v-1.05M664.61 103.76v-0.63M666.06 103.76v-0.61M667.02 103.76v-0.6M668.12 103.76v-0.93" stroke="#b4b4b4" stroke-width="0.7" fill="none"/>
<line x1="578.4" y1="103.76" x2="669" y2="103.76" stroke="#9a9a9a" stroke-width="1"/>
<path d="M578.4 103.16v1.8M581.89 103.16v1.8M585.38 103.16v1.8M588.87 103.16v1.8M592.36 103.16v1.8M595.85 103.16v1.8M599.34 103.16v1.8M602.83 103.16v1.8M606.32 103.16v1.8M609.81 103.16v1.8M613.3 103.16v1.8M616.79 103.16v1.8M620.28 103.16v1.8M623.77 103.16v1.8M627.26 103.16v1.8M630.75 103.16v1.8M634.24 103.16v1.8M637.73 103.16v1.8M641.22 103.16v1.8M644.71 103.16v1.8M648.2 103.16v1.8M651.69 103.16v1.8M655.18 103.16v1.8M658.67 103.16v1.8M662.16 103.16v1.8M665.65 103.16v1.8" stroke="#666" stroke-width="0.5" fill="none"/>
<line x1="578.4" y1="101.36" x2="578.4" y2="106.36" stroke="#222" stroke-width="0.8"/>
<line x1="613.3" y1="101.36" x2="613.3" y2="106.36" stroke="#222" stroke-width="0.8"/>
<line x1="648.1" y1="101.36" x2="648.1" y2="106.36" stroke="#222" stroke-width="0.8"/>
<line x1="582.1" y1="103.76" x2="582.1" y2="90.66" stroke="#ee1c1c" stroke-width="1.06"/>
<line x1="605.7" y1="103.76" x2="605.7" y2="90.66" stroke="#ee1c1c" stroke-width="1.32"/>
<line x1="650.5" y1="103.76" x2="650.5" y2="90.66" stroke="#ee1c1c" stroke-width="1.41"/>
<line x1="653.3" y1="103.76" x2="653.3" y2="90.66" stroke="#ee1c1c" stroke-width="1.14"/>
<line x1="620" y1="103.76" x2="620" y2="98.72" stroke="#ccc" stroke-width="0.62"/>
<path d="M578.4 104.56V91.16H669" fill="none" stroke="#6e6e6e" stroke-width="0.7"/>
<line x1="578.4" y1="117.52" x2="669" y2="117.52" stroke="#d4d4d4" stroke-width="0.6"/>
<path d="M578.9 123.32v-2.29M579.68 123.32v-1.06M580.62 123.32v-1.11M582.1 123.32v-1.46M582.86 123.32v-0.64M584.16 123.32v-2.88M584.9 123.32v-1.17M586.3 123.32v-1.9M587.34 123.32v-1.88M588.5 123.32v-2.47M589.21 123.32v-2.6M590.32 123.32v-0.76M591.11 123.32v-0.64M592.55 123.32v-1.35M593.4 123.32v-0.7M594.24 123.32v-0.62M595.16 123.32v-0.69M596.83 123.32v-2.98M598.32 123.32v-0.86M599.52 123.32v-1.74M601.13 123.32v-1.62M602.47 123.32v-0.62M603.79 123.32v-2.05M605.28 123.32v-0.6M606.69 123.32v-0.7M607.56 123.32v-2.76M608.93 123.32v-1.59M609.76 123.32v-1.96M611.4 123.32v-2.38M612.85 123.32v-1.98M614.35 123.32v-1.09M615.48 123.32v-1.95M616.97 123.32v-2.18M617.97 123.32v-2.73M619.2 123.32v-2.63M620.02 123.32v-2.78M621.5 123.32v-0.64M623.04 123.32v-0.63M623.94 123.32v-0.83M624.88 123.32v-0.89M626.48 123.32v-1.37M627.89 123.32v-0.74M629.38 123.32v-1.8M630.76 123.32v-2.6M632.29 123.32v-0.76M633.07 123.32v-1.27M634.61 123.32v-0.69M635.9 123.32v-2M637.4 123.32v-0.6M638.59 123.32v-0.6M639.4 123.32v-1.89M640.52 123.32v-1.13M641.67 123.32v-0.69M642.59 123.32v-0.71M644.13 123.32v-1.17M645.12 123.32v-0.6M646.1 123.32v-1.43M647.24 123.32v-1.29M648.74 123.32v-0.6M650.13 123.32v-0.6M651.65 123.32v-0.61M652.62 123.32v-2.71M653.68 123.32v-0.63M655.27 123.32v-1.15M656.87 123.32v-0.75M658.07 123.32v-2.7M659.27 123.32v-2.92M660.16 123.32v-1.98M661.03 123.32v-0.95M661.73 123.32v-0.61M663.37 123.32v-0.83M664.88 123.32v-0.64M665.93 123.32v-0.6M667.19 123.32v-2.14M668.4 123.32v-0.73" stroke="#b4b4b4" stroke-width="0.7" fill="none"/>
<line x1="578.4" y1="123.32" x2="669" y2="123.32" stroke="#9a9a9a" stroke-width="1"/>
<path d="M578.4 122.72v1.8M581.89 122.72v1.8M585.38 122.72v1.8M588.87 122.72v1.8M592.36 122.72v1.8M595.85 122.72v1.8M599.34 122.72v1.8M602.83 122.72v1.8M606.32 122.72v1.8M609.81 122.72v1.8M613.3 122.72v1.8M616.79 122.72v1.8M620.28 122.72v1.8M623.77 122.72v1.8M627.26 122.72v1.8M630.75 122.72v1.8M634.24 122.72v1.8M637.73 122.72v1.8M641.22 122.72v1.8M644.71 122.72v1.8M648.2 122.72v1.8M651.69 122.72v1.8M655.18 122.72v1.8M658.67 122.72v1.8M662.16 122.72v1.8M665.65 122.72v1.8" stroke="#666" stroke-width="0.5" fill="none"/>
<line x1="578.4" y1="120.92" x2="578.4" y2="125.92" stroke="#222" stroke-width="0.8"/>
<line x1="613.3" y1="120.92" x2="613.3" y2="125.92" stroke="#222" stroke-width="0.8"/>
<line x1="648.1" y1="120.92" x2="648.1" y2="125.92" stroke="#222" stroke-width="0.8"/>
<line x1="605.7" y1="123.32" x2="605.7" y2="119.54" stroke="#ccc" stroke-width="0.62"/>
<line x1="650.5" y1="123.32" x2="650.5" y2="119.54" stroke="#ccc" stroke-width="0.62"/>
<path d="M578.4 124.12V110.72H669" fill="none" stroke="#6e6e6e" stroke-width="0.7"/>
<line x1="578.4" y1="137.08" x2="669" y2="137.08" stroke="#d4d4d4" stroke-width="0.6"/>
<path d="M578.9 142.88v-2.31M580.27 142.88v-0.6M581.59 142.88v-0.81M583.25 142.88v-0.71M584.61 142.88v-1.21M585.69 142.88v-0.94M587.06 142.88v-2.39M588.26 142.88v-0.72M589.94 142.88v-0.6M591.47 142.88v-1.37M592.73 142.88v-0.82M594.18 142.88v-2.3M595.61 142.88v-1.61M596.34 142.88v-0.68M597.18 142.88v-2.68M598.77 142.88v-0.61M600.06 142.88v-1.06M600.81 142.88v-0.74M602.25 142.88v-1.23M603.23 142.88v-1.66M604.23 142.88v-0.99M605.35 142.88v-2.85M606.69 142.88v-1.85M608.07 142.88v-0.73M609.73 142.88v-1.46M611.13 142.88v-0.65M611.99 142.88v-1.06M613.51 142.88v-1.8M614.56 142.88v-0.61M615.78 142.88v-2.22M616.64 142.88v-1.57M617.51 142.88v-0.67M618.26 142.88v-0.66M619.35 142.88v-2.77M621.01 142.88v-0.62M622.02 142.88v-2.62M622.91 142.88v-0.68M624.05 142.88v-0.6M625.01 142.88v-0.75M626.1 142.88v-2.75M627.07 142.88v-0.62M628.67 142.88v-0.82M630.21 142.88v-1.22M631.69 142.88v-0.67M632.54 142.88v-1.64M633.71 142.88v-1.02M635.08 142.88v-1.62M636.06 142.88v-0.71M637.68 142.88v-0.96M638.66 142.88v-1.2M639.62 142.88v-1.7M640.37 142.88v-1.96M641.63 142.88v-0.71M643.27 142.88v-0.64M644.21 142.88v-0.6M645.46 142.88v-1.63M646.84 142.88v-0.77M648.35 142.88v-0.6M649.36 142.88v-1.24M651.02 142.88v-1.21M652.42 142.88v-1.72M653.51 142.88v-2.6M654.95 142.88v-0.7M656.04 142.88v-1.86M657.09 142.88v-0.62M658.67 142.88v-0.96M659.89 142.88v-1.32M661.49 142.88v-0.61M662.53 142.88v-0.6M663.64 142.88v-0.9M665.19 142.88v-1.31M666.47 142.88v-0.76M667.74 142.88v-0.65" stroke="#b4b4b4" stroke-width="0.7" fill="none"/>
<line x1="578.4" y1="142.88" x2="669" y2="142.88" stroke="#9a9a9a" stroke-width="1"/>
<path d="M578.4 142.28v1.8M581.89 142.28v1.8M585.38 142.28v1.8M588.87 142.28v1.8M592.36 142.28v1.8M595.85 142.28v1.8M599.34 142.28v1.8M602.83 142.28v1.8M606.32 142.28v1.8M609.81 142.28v1.8M613.3 142.28v1.8M616.79 142.28v1.8M620.28 142.28v1.8M623.77 142.28v1.8M627.26 142.28v1.8M630.75 142.28v1.8M634.24 142.28v1.8M637.73 142.28v1.8M641.22 142.28v1.8M644.71 142.28v1.8M648.2 142.28v1.8M651.69 142.28v1.8M655.18 142.28v1.8M658.67 142.28v1.8M662.16 142.28v1.8M665.65 142.28v1.8" stroke="#666" stroke-width="0.5" fill="none"/>
<line x1="578.4" y1="140.48" x2="578.4" y2="145.48" stroke="#222" stroke-width="0.8"/>
<line x1="613.3" y1="140.48" x2="613.3" y2="145.48" stroke="#222" stroke-width="0.8"/>
<line x1="648.1" y1="140.48" x2="648.1" y2="145.48" stroke="#222" stroke-width="0.8"/>
<line x1="605.7" y1="142.88" x2="605.7" y2="134.56" stroke="#ee1c1c" stroke-width="0.88"/>
<line x1="582" y1="142.88" x2="582" y2="137.84" stroke="#ccc" stroke-width="0.62"/>
<line x1="651.5" y1="142.88" x2="651.5" y2="137.84" stroke="#ccc" stroke-width="0.62"/>
<path d="M578.4 143.68V130.28H669" fill="none" stroke="#6e6e6e" stroke-width="0.7"/>
<line x1="578.4" y1="156.64" x2="669" y2="156.64" stroke="#d4d4d4" stroke-width="0.6"/>
<path d="M578.9 162.44v-1.78M580.44 162.44v-0.61M581.81 162.44v-1.63M583.01 162.44v-2.34M584.61 162.44v-1.58M586.13 162.44v-1.26M587.71 162.44v-0.61M589.11 162.44v-1.44M590.43 162.44v-0.65M591.19 162.44v-1.13M592.72 162.44v-0.65M593.63 162.44v-0.63M594.42 162.44v-1.34M596.1 162.44v-1.84M597.16 162.44v-1.42M597.93 162.44v-2.02M598.96 162.44v-0.6M600.29 162.44v-0.61M601.26 162.44v-0.6M602.41 162.44v-1.01M603.91 162.44v-0.6M605.44 162.44v-0.6M606.37 162.44v-1.2M607.41 162.44v-0.69M608.67 162.44v-0.62M610.17 162.44v-0.62M611.71 162.44v-1.87M612.94 162.44v-0.6M614.42 162.44v-0.6M615.63 162.44v-0.78M616.39 162.44v-1.2M617.81 162.44v-1.08M618.91 162.44v-0.92M620.2 162.44v-0.63M621.77 162.44v-2.97M623.27 162.44v-2.73M624.3 162.44v-2.9M625.08 162.44v-0.86M625.91 162.44v-0.82M627.29 162.44v-1.45M628.45 162.44v-0.7M629.34 162.44v-0.76M630.32 162.44v-0.62M631.75 162.44v-0.93M632.89 162.44v-0.62M634.3 162.44v-0.62M635.26 162.44v-1.02M636.66 162.44v-2.81M638.11 162.44v-2.65M639.73 162.44v-1.51M641.15 162.44v-0.6M642.06 162.44v-0.6M643.62 162.44v-1.5M644.95 162.44v-0.64M646.01 162.44v-0.61M647.34 162.44v-2.94M648.34 162.44v-0.6M649.22 162.44v-0.71M650.82 162.44v-1.85M651.97 162.44v-0.6M652.78 162.44v-0.61M654.26 162.44v-0.85M655.95 162.44v-2.42M657.44 162.44v-0.86M658.96 162.44v-0.61M659.77 162.44v-1.03M660.98 162.44v-0.62M661.93 162.44v-0.6M663.54 162.44v-1.46M665.19 162.44v-2.86M666.32 162.44v-1.54M667.41 162.44v-1.88M668.95 162.44v-0.61" stroke="#b4b4b4" stroke-width="0.7" fill="none"/>
<line x1="578.4" y1="162.44" x2="669" y2="162.44" stroke="#9a9a9a" stroke-width="1"/>
<path d="M578.4 161.84v1.8M581.89 161.84v1.8M585.38 161.84v1.8M588.87 161.84v1.8M592.36 161.84v1.8M595.85 161.84v1.8M599.34 161.84v1.8M602.83 161.84v1.8M606.32 161.84v1.8M609.81 161.84v1.8M613.3 161.84v1.8M616.79 161.84v1.8M620.28 161.84v1.8M623.77 161.84v1.8M627.26 161.84v1.8M630.75 161.84v1.8M634.24 161.84v1.8M637.73 161.84v1.8M641.22 161.84v1.8M644.71 161.84v1.8M648.2 161.84v1.8M651.69 161.84v1.8M655.18 161.84v1.8M658.67 161.84v1.8M662.16 161.84v1.8M665.65 161.84v1.8" stroke="#666" stroke-width="0.5" fill="none"/>
<line x1="578.4" y1="160.04" x2="578.4" y2="165.04" stroke="#222" stroke-width="0.8"/>
<line x1="613.3" y1="160.04" x2="613.3" y2="165.04" stroke="#222" stroke-width="0.8"/>
<line x1="648.1" y1="160.04" x2="648.1" y2="165.04" stroke="#222" stroke-width="0.8"/>
<line x1="605.7" y1="162.44" x2="605.7" y2="149.08" stroke="#ee1c1c" stroke-width="1.67"/>
<path d="M578.4 163.24V149.84H669" fill="none" stroke="#6e6e6e" stroke-width="0.7"/>
<line x1="578.4" y1="176.2" x2="669" y2="176.2" stroke="#d4d4d4" stroke-width="0.6"/>
<path d="M578.9 182v-0.62M580.19 182v-0.73M580.89 182v-1.97M582.38 182v-0.84M583.12 182v-2.29M584.36 182v-0.6M585.38 182v-1.18M586.97 182v-0.87M588.31 182v-0.62M589.25 182v-2.38M590.33 182v-0.6M591.62 182v-0.6M592.52 182v-0.83M593.81 182v-1.22M595.22 182v-0.8M595.98 182v-1.51M596.74 182v-0.85M597.84 182v-1.33M599.25 182v-0.63M600.6 182v-1.4M601.77 182v-0.61M603.38 182v-1.12M604.14 182v-0.63M605.83 182v-0.63M606.92 182v-1.77M608.45 182v-1.21M609.89 182v-0.6M610.68 182v-2.83M612.19 182v-0.6M612.93 182v-0.63M614.56 182v-0.63M615.94 182v-2.53M617.28 182v-2.46M618.24 182v-0.61M618.96 182v-1.64M619.76 182v-2.81M621.17 182v-0.62M622.68 182v-0.61M623.89 182v-0.6M625.38 182v-2.29M626.99 182v-0.6M628.54 182v-1.01M630.07 182v-0.9M631.39 182v-1.1M632.88 182v-0.6M633.64 182v-0.99M634.63 182v-0.75M635.34 182v-1.59M636.06 182v-1.97M637.57 182v-0.83M638.4 182v-1.26M639.3 182v-0.79M640.11 182v-2.83M641.36 182v-0.71M642.15 182v-1.53M643.7 182v-2.07M644.5 182v-0.72M645.51 182v-1.66M646.35 182v-1.14M648.03 182v-1.69M648.74 182v-0.6M649.55 182v-1.4M650.85 182v-0.94M652.01 182v-0.76M653.32 182v-1.25M654.94 182v-1.54M656.43 182v-2.43M657.97 182v-1.48M658.7 182v-1.36M660.25 182v-0.79M661.83 182v-0.61M663.47 182v-0.81M664.88 182v-0.64M665.88 182v-0.7M666.9 182v-0.6M668.05 182v-2.86" stroke="#b4b4b4" stroke-width="0.7" fill="none"/>
<line x1="578.4" y1="182" x2="669" y2="182" stroke="#9a9a9a" stroke-width="1"/>
<path d="M578.4 181.4v1.8M581.89 181.4v1.8M585.38 181.4v1.8M588.87 181.4v1.8M592.36 181.4v1.8M595.85 181.4v1.8M599.34 181.4v1.8M602.83 181.4v1.8M606.32 181.4v1.8M609.81 181.4v1.8M613.3 181.4v1.8M616.79 181.4v1.8M620.28 181.4v1.8M623.77 181.4v1.8M627.26 181.4v1.8M630.75 181.4v1.8M634.24 181.4v1.8M637.73 181.4v1.8M641.22 181.4v1.8M644.71 181.4v1.8M648.2 181.4v1.8M651.69 181.4v1.8M655.18 181.4v1.8M658.67 181.4v1.8M662.16 181.4v1.8M665.65 181.4v1.8" stroke="#666" stroke-width="0.5" fill="none"/>
<line x1="578.4" y1="179.6" x2="578.4" y2="184.6" stroke="#222" stroke-width="0.8"/>
<line x1="613.3" y1="179.6" x2="613.3" y2="184.6" stroke="#222" stroke-width="0.8"/>
<line x1="648.1" y1="179.6" x2="648.1" y2="184.6" stroke="#222" stroke-width="0.8"/>
<line x1="605.7" y1="182" x2="605.7" y2="169.4" stroke="#ee1c1c" stroke-width="0.97"/>
<line x1="650.5" y1="182" x2="650.5" y2="169.4" stroke="#ee1c1c" stroke-width="1.32"/>
<line x1="653.3" y1="182" x2="653.3" y2="175.95" stroke="#888" stroke-width="0.62"/>
<line x1="582" y1="182" x2="582" y2="177.59" stroke="#ccc" stroke-width="0.62"/>
<path d="M578.4 182.8V169.4H669" fill="none" stroke="#6e6e6e" stroke-width="0.7"/>
<line x1="578.4" y1="195.76" x2="669" y2="195.76" stroke="#d4d4d4" stroke-width="0.6"/>
<path d="M578.9 201.56v-2.54M580.36 201.56v-2.01M582.06 201.56v-1.62M583.03 201.56v-0.64M584.14 201.56v-0.6M585.07 201.56v-2.27M586.69 201.56v-0.69M588.17 201.56v-1.72M589.76 201.56v-1.8M590.99 201.56v-0.6M592.51 201.56v-0.67M593.84 201.56v-0.72M595.08 201.56v-2.76M595.94 201.56v-0.96M597.29 201.56v-0.97M598.93 201.56v-0.76M600.54 201.56v-1.39M602.21 201.56v-0.6M603.12 201.56v-0.66M604.73 201.56v-0.6M605.69 201.56v-1.48M607.38 201.56v-0.61M608.51 201.56v-1.38M609.9 201.56v-1.6M611.36 201.56v-0.64M612.31 201.56v-0.6M613.71 201.56v-0.62M614.67 201.56v-2.75M616.01 201.56v-1.1M617.36 201.56v-1.11M618.76 201.56v-0.67M619.52 201.56v-0.6M620.24 201.56v-0.71M621.08 201.56v-0.6M622.27 201.56v-2.79M623.66 201.56v-0.65M625.13 201.56v-0.61M625.93 201.56v-0.67M627.04 201.56v-1.39M628.19 201.56v-1.53M628.98 201.56v-2.54M630.02 201.56v-1.98M630.75 201.56v-1.97M631.68 201.56v-2.1M633.18 201.56v-1.32M634.16 201.56v-0.6M635.05 201.56v-2.38M635.91 201.56v-1.29M637.19 201.56v-1.29M638.08 201.56v-0.61M638.87 201.56v-2.88M639.96 201.56v-1.27M641.23 201.56v-0.63M641.99 201.56v-0.6M643.54 201.56v-0.61M645.21 201.56v-0.72M646.63 201.56v-0.61M648.12 201.56v-0.64M649.18 201.56v-0.94M649.99 201.56v-0.64M651.49 201.56v-0.66M652.57 201.56v-1.67M653.49 201.56v-0.62M654.41 201.56v-0.74M655.48 201.56v-1.23M656.65 201.56v-2.18M657.4 201.56v-1.3M658.94 201.56v-0.63M659.67 201.56v-0.8M660.48 201.56v-0.83M661.89 201.56v-0.6M662.71 201.56v-0.86M663.59 201.56v-0.63M664.73 201.56v-0.6M665.49 201.56v-0.71M666.66 201.56v-2.57M667.92 201.56v-0.6M668.84 201.56v-1.59" stroke="#b4b4b4" stroke-width="0.7" fill="none"/>
<line x1="578.4" y1="201.56" x2="669" y2="201.56" stroke="#9a9a9a" stroke-width="1"/>
<path d="M578.4 200.96v1.8M581.89 200.96v1.8M585.38 200.96v1.8M588.87 200.96v1.8M592.36 200.96v1.8M595.85 200.96v1.8M599.34 200.96v1.8M602.83 200.96v1.8M606.32 200.96v1.8M609.81 200.96v1.8M613.3 200.96v1.8M616.79 200.96v1.8M620.28 200.96v1.8M623.77 200.96v1.8M627.26 200.96v1.8M630.75 200.96v1.8M634.24 200.96v1.8M637.73 200.96v1.8M641.22 200.96v1.8M644.71 200.96v1.8M648.2 200.96v1.8M651.69 200.96v1.8M655.18 200.96v1.8M658.67 200.96v1.8M662.16 200.96v1.8M665.65 200.96v1.8" stroke="#666" stroke-width="0.5" fill="none"/>
<line x1="578.4" y1="199.16" x2="578.4" y2="204.16" stroke="#222" stroke-width="0.8"/>
<line x1="613.3" y1="199.16" x2="613.3" y2="204.16" stroke="#222" stroke-width="0.8"/>
<line x1="648.1" y1="199.16" x2="648.1" y2="204.16" stroke="#222" stroke-width="0.8"/>
<line x1="582.1" y1="201.56" x2="582.1" y2="192.49" stroke="#ee1c1c" stroke-width="0.88"/>
<line x1="605.7" y1="201.56" x2="605.7" y2="188.46" stroke="#ee1c1c" stroke-width="1.06"/>
<line x1="650.5" y1="201.56" x2="650.5" y2="188.46" stroke="#ee1c1c" stroke-width="1.14"/>
<line x1="653.3" y1="201.56" x2="653.3" y2="190.72" stroke="#ee1c1c" stroke-width="0.97"/>
<line x1="662.5" y1="201.56" x2="662.5" y2="192.49" stroke="#ee1c1c" stroke-width="0.88"/>
<path d="M578.4 202.36V188.96H669" fill="none" stroke="#6e6e6e" stroke-width="0.7"/>
<line x1="578.4" y1="215.32" x2="669" y2="215.32" stroke="#d4d4d4" stroke-width="0.6"/>
<path d="M578.9 221.12v-2.18M580.56 221.12v-2.12M581.37 221.12v-2.62M582.6 221.12v-0.63M583.47 221.12v-2.15M584.38 221.12v-0.6M585.35 221.12v-2.49M586.51 221.12v-1.54M587.28 221.12v-0.82M588.3 221.12v-0.62M589.66 221.12v-0.71M590.48 221.12v-2.89M591.66 221.12v-0.61M592.37 221.12v-1.27M593.59 221.12v-0.6M594.76 221.12v-1.57M596 221.12v-0.63M597.2 221.12v-1.13M598.55 221.12v-0.61M600.05 221.12v-2.63M601.49 221.12v-2.11M602.56 221.12v-2.37M603.44 221.12v-0.63M604.74 221.12v-2.36M605.52 221.12v-0.62M606.26 221.12v-0.8M607.1 221.12v-0.62M608.54 221.12v-1.08M610.18 221.12v-0.76M611.56 221.12v-0.6M613.21 221.12v-0.63M614.39 221.12v-0.92M616.04 221.12v-0.89M617.73 221.12v-1.18M618.65 221.12v-1.99M619.55 221.12v-3M620.7 221.12v-0.63M622.37 221.12v-0.68M623.47 221.12v-0.7M624.84 221.12v-0.6M625.91 221.12v-0.61M627.44 221.12v-0.6M628.75 221.12v-0.64M629.9 221.12v-1.03M631.32 221.12v-0.61M632.26 221.12v-0.6M633.92 221.12v-0.61M634.75 221.12v-0.94M636.04 221.12v-2.27M636.79 221.12v-0.63M637.66 221.12v-1.08M638.81 221.12v-0.76M640.4 221.12v-1.3M641.96 221.12v-2.7M642.93 221.12v-2.61M644.04 221.12v-0.6M645.65 221.12v-0.6M646.37 221.12v-0.66M647.36 221.12v-2.77M648.93 221.12v-0.78M650.16 221.12v-2.07M651.67 221.12v-1.27M652.88 221.12v-0.6M653.82 221.12v-1.28M655.11 221.12v-1.83M656.71 221.12v-2.74M657.6 221.12v-0.6M659.2 221.12v-1.05M660.08 221.12v-1.4M661.03 221.12v-0.63M662.1 221.12v-0.95M663.48 221.12v-0.6M664.92 221.12v-1.18M666.09 221.12v-1.33M667.59 221.12v-0.6M668.77 221.12v-1.35" stroke="#b4b4b4" stroke-width="0.7" fill="none"/>
<line x1="578.4" y1="221.12" x2="669" y2="221.12" stroke="#9a9a9a" stroke-width="1"/>
<path d="M578.4 220.52v1.8M581.89 220.52v1.8M585.38 220.52v1.8M588.87 220.52v1.8M592.36 220.52v1.8M595.85 220.52v1.8M599.34 220.52v1.8M602.83 220.52v1.8M606.32 220.52v1.8M609.81 220.52v1.8M613.3 220.52v1.8M616.79 220.52v1.8M620.28 220.52v1.8M623.77 220.52v1.8M627.26 220.52v1.8M630.75 220.52v1.8M634.24 220.52v1.8M637.73 220.52v1.8M641.22 220.52v1.8M644.71 220.52v1.8M648.2 220.52v1.8M651.69 220.52v1.8M655.18 220.52v1.8M658.67 220.52v1.8M662.16 220.52v1.8M665.65 220.52v1.8" stroke="#666" stroke-width="0.5" fill="none"/>
<line x1="578.4" y1="218.72" x2="578.4" y2="223.72" stroke="#222" stroke-width="0.8"/>
<line x1="613.3" y1="218.72" x2="613.3" y2="223.72" stroke="#222" stroke-width="0.8"/>
<line x1="648.1" y1="218.72" x2="648.1" y2="223.72" stroke="#222" stroke-width="0.8"/>
<path d="M578.4 221.92V208.52H669" fill="none" stroke="#6e6e6e" stroke-width="0.7"/>
<line x1="578.4" y1="234.88" x2="669" y2="234.88" stroke="#d4d4d4" stroke-width="0.6"/>
<path d="M578.9 240.68v-1.25M579.78 240.68v-2.71M581.27 240.68v-0.63M582.4 240.68v-2.71M583.3 240.68v-0.76M584.97 240.68v-2.35M585.9 240.68v-1.55M586.96 240.68v-1.3M588.42 240.68v-0.6M589.35 240.68v-0.62M590.31 240.68v-0.6M591.15 240.68v-0.76M592.27 240.68v-0.6M593.55 240.68v-2.61M594.83 240.68v-0.71M596.23 240.68v-0.8M597.11 240.68v-0.87M597.83 240.68v-1.34M598.69 240.68v-0.72M600.35 240.68v-1.68M601.89 240.68v-1.24M603.22 240.68v-1.44M604.89 240.68v-0.62M606.35 240.68v-0.67M607.31 240.68v-1.93M608.61 240.68v-2.07M610.18 240.68v-1.09M611.08 240.68v-0.6M612.32 240.68v-1.52M613.29 240.68v-0.6M613.99 240.68v-0.61M615.39 240.68v-0.6M616.32 240.68v-0.64M617.73 240.68v-2.91M618.45 240.68v-0.6M620.09 240.68v-2.79M620.93 240.68v-0.69M622.16 240.68v-0.68M623.27 240.68v-0.86M624.23 240.68v-0.6M625.02 240.68v-0.61M625.81 240.68v-1.18M627.2 240.68v-0.64M628.7 240.68v-1.53M629.74 240.68v-0.89M630.63 240.68v-2.52M631.89 240.68v-0.6M632.74 240.68v-1.4M633.83 240.68v-1.48M634.76 240.68v-1.82M636.26 240.68v-0.6M637.54 240.68v-0.62M638.95 240.68v-1.85M640.44 240.68v-0.63M641.24 240.68v-1.3M642.5 240.68v-0.61M643.39 240.68v-1.07M644.2 240.68v-1.21M645.14 240.68v-0.64M646.27 240.68v-0.96M647.69 240.68v-0.6M649.11 240.68v-0.63M650.11 240.68v-1.23M651.5 240.68v-1.16M653.1 240.68v-0.62M654.11 240.68v-1.3M655.07 240.68v-0.61M656 240.68v-1.7M657.52 240.68v-1.48M659.18 240.68v-1.8M660.19 240.68v-0.68M661.61 240.68v-0.6M662.92 240.68v-0.6M663.67 240.68v-0.93M664.52 240.68v-2.54M666.1 240.68v-0.84M667 240.68v-0.6M668.2 240.68v-0.94" stroke="#b4b4b4" stroke-width="0.7" fill="none"/>
<line x1="578.4" y1="240.68" x2="669" y2="240.68" stroke="#9a9a9a" stroke-width="1"/>
<path d="M578.4 240.08v1.8M581.89 240.08v1.8M585.38 240.08v1.8M588.87 240.08v1.8M592.36 240.08v1.8M595.85 240.08v1.8M599.34 240.08v1.8M602.83 240.08v1.8M606.32 240.08v1.8M609.81 240.08v1.8M613.3 240.08v1.8M616.79 240.08v1.8M620.28 240.08v1.8M623.77 240.08v1.8M627.26 240.08v1.8M630.75 240.08v1.8M634.24 240.08v1.8M637.73 240.08v1.8M641.22 240.08v1.8M644.71 240.08v1.8M648.2 240.08v1.8M651.69 240.08v1.8M655.18 240.08v1.8M658.67 240.08v1.8M662.16 240.08v1.8M665.65 240.08v1.8" stroke="#666" stroke-width="0.5" fill="none"/>
<line x1="578.4" y1="238.28" x2="578.4" y2="243.28" stroke="#222" stroke-width="0.8"/>
<line x1="613.3" y1="238.28" x2="613.3" y2="243.28" stroke="#222" stroke-width="0.8"/>
<line x1="648.1" y1="238.28" x2="648.1" y2="243.28" stroke="#222" stroke-width="0.8"/>
<line x1="582.1" y1="240.68" x2="582.1" y2="233.75" stroke="#ee1c1c" stroke-width="0.88"/>
<line x1="605.7" y1="240.68" x2="605.7" y2="227.58" stroke="#ee1c1c" stroke-width="1.06"/>
<line x1="650.5" y1="240.68" x2="650.5" y2="227.58" stroke="#ee1c1c" stroke-width="1.14"/>
<line x1="653.3" y1="240.68" x2="653.3" y2="232.87" stroke="#f4777a" stroke-width="0.79"/>
<line x1="662.5" y1="240.68" x2="662.5" y2="227.83" stroke="#ee1c1c" stroke-width="0.97"/>
<path d="M578.4 241.48V228.08H669" fill="none" stroke="#6e6e6e" stroke-width="0.7"/>
<line x1="578.4" y1="254.44" x2="669" y2="254.44" stroke="#d4d4d4" stroke-width="0.6"/>
<path d="M578.9 260.24v-1.48M580.13 260.24v-1.72M580.94 260.24v-0.6M582.02 260.24v-0.87M582.98 260.24v-1.32M583.9 260.24v-0.68M585.07 260.24v-1.47M586.54 260.24v-0.72M587.69 260.24v-2.52M589.32 260.24v-1.17M590.13 260.24v-0.83M591.47 260.24v-0.65M592.2 260.24v-2.87M593.81 260.24v-0.61M594.98 260.24v-1.17M595.98 260.24v-0.6M597.43 260.24v-1.7M598.57 260.24v-0.6M599.66 260.24v-0.6M601.33 260.24v-0.6M602.31 260.24v-1.69M603.15 260.24v-0.6M603.92 260.24v-0.61M605.15 260.24v-1.99M606.02 260.24v-0.61M607.48 260.24v-0.79M608.52 260.24v-0.6M609.47 260.24v-2.8M610.28 260.24v-0.64M611.72 260.24v-2.3M613.33 260.24v-0.85M614.98 260.24v-1.13M615.97 260.24v-0.84M617.39 260.24v-1.55M618.22 260.24v-0.62M619.88 260.24v-0.6M621.39 260.24v-0.69M622.34 260.24v-0.64M623.51 260.24v-2.93M624.36 260.24v-2.1M625.38 260.24v-0.61M626.82 260.24v-0.7M627.71 260.24v-0.78M629.23 260.24v-2.14M630.51 260.24v-0.6M631.97 260.24v-1.14M633.57 260.24v-2.67M634.6 260.24v-2.07M636.11 260.24v-0.65M637.18 260.24v-0.73M638.23 260.24v-0.73M639.04 260.24v-0.63M640.65 260.24v-0.77M641.99 260.24v-2.28M643.44 260.24v-0.64M645.06 260.24v-1.85M646.75 260.24v-1.53M648.21 260.24v-1.89M649.16 260.24v-1.28M650.24 260.24v-2.02M651.08 260.24v-0.98M652.11 260.24v-1.93M653.16 260.24v-2.04M654.71 260.24v-2.23M655.55 260.24v-2.58M656.99 260.24v-1.34M658.34 260.24v-0.6M659.91 260.24v-0.99M661.07 260.24v-0.69M662.55 260.24v-1.75M664.12 260.24v-0.62M665.16 260.24v-0.64M665.96 260.24v-0.68M666.69 260.24v-1.81M667.61 260.24v-0.6M668.38 260.24v-1.58" stroke="#b4b4b4" stroke-width="0.7" fill="none"/>
<line x1="578.4" y1="260.24" x2="669" y2="260.24" stroke="#9a9a9a" stroke-width="1"/>
<path d="M578.4 259.64v1.8M581.89 259.64v1.8M585.38 259.64v1.8M588.87 259.64v1.8M592.36 259.64v1.8M595.85 259.64v1.8M599.34 259.64v1.8M602.83 259.64v1.8M606.32 259.64v1.8M609.81 259.64v1.8M613.3 259.64v1.8M616.79 259.64v1.8M620.28 259.64v1.8M623.77 259.64v1.8M627.26 259.64v1.8M630.75 259.64v1.8M634.24 259.64v1.8M637.73 259.64v1.8M641.22 259.64v1.8M644.71 259.64v1.8M648.2 259.64v1.8M651.69 259.64v1.8M655.18 259.64v1.8M658.67 259.64v1.8M662.16 259.64v1.8M665.65 259.64v1.8" stroke="#666" stroke-width="0.5" fill="none"/>
<line x1="578.4" y1="257.84" x2="578.4" y2="262.84" stroke="#222" stroke-width="0.8"/>
<line x1="613.3" y1="257.84" x2="613.3" y2="262.84" stroke="#222" stroke-width="0.8"/>
<line x1="648.1" y1="257.84" x2="648.1" y2="262.84" stroke="#222" stroke-width="0.8"/>
<line x1="579" y1="260.24" x2="579" y2="249.53" stroke="#ee1c1c" stroke-width="1.06"/>
<line x1="581.5" y1="260.24" x2="581.5" y2="255.83" stroke="#ccc" stroke-width="0.7"/>
<line x1="605.7" y1="260.24" x2="605.7" y2="256.46" stroke="#ccc" stroke-width="0.62"/>
<line x1="619" y1="260.24" x2="619" y2="256.46" stroke="#ccc" stroke-width="0.62"/>
<path d="M578.4 261.04V247.64H669" fill="none" stroke="#6e6e6e" stroke-width="0.7"/>
<line x1="578.4" y1="274" x2="669" y2="274" stroke="#d4d4d4" stroke-width="0.6"/>
<path d="M578.9 279.8v-0.84M580 279.8v-1.84M581.66 279.8v-0.67M582.99 279.8v-2.32M584.16 279.8v-2.35M585.59 279.8v-0.67M587.17 279.8v-1.05M587.97 279.8v-1.09M589.5 279.8v-0.93M590.69 279.8v-0.77M592.27 279.8v-1.31M593.17 279.8v-0.71M594.24 279.8v-2.71M595.63 279.8v-0.6M597.25 279.8v-0.6M598.54 279.8v-0.79M599.96 279.8v-0.79M600.75 279.8v-0.94M602.27 279.8v-1.78M603.33 279.8v-0.63M604.77 279.8v-1.84M605.69 279.8v-2.25M607.38 279.8v-0.8M608.46 279.8v-1.46M610.09 279.8v-0.62M611.09 279.8v-0.69M612.53 279.8v-0.62M613.77 279.8v-0.9M615.14 279.8v-0.61M616.8 279.8v-3M618.06 279.8v-1.81M618.94 279.8v-2.41M620.19 279.8v-1.65M621.76 279.8v-0.71M623.39 279.8v-0.62M624.11 279.8v-0.9M625.71 279.8v-2.35M627.36 279.8v-0.92M629 279.8v-1.02M629.84 279.8v-1.2M631.34 279.8v-0.78M632.64 279.8v-0.64M633.62 279.8v-0.78M634.83 279.8v-0.85M635.63 279.8v-0.6M636.67 279.8v-1.48M638.11 279.8v-0.63M639.07 279.8v-0.93M639.95 279.8v-1.13M641.55 279.8v-0.62M642.84 279.8v-1.5M644.28 279.8v-1.47M645.7 279.8v-0.65M647.23 279.8v-2.5M647.99 279.8v-2.62M649.13 279.8v-0.6M649.9 279.8v-1.81M651.28 279.8v-0.61M652.44 279.8v-1.23M654.13 279.8v-0.69M655.6 279.8v-0.64M656.5 279.8v-0.61M657.61 279.8v-1.17M658.61 279.8v-0.61M659.53 279.8v-0.6M660.42 279.8v-0.68M661.63 279.8v-0.61M662.81 279.8v-0.8M664.48 279.8v-0.88M666.13 279.8v-0.85M667.02 279.8v-1.1M667.87 279.8v-0.61M668.64 279.8v-1.43" stroke="#b4b4b4" stroke-width="0.7" fill="none"/>
<line x1="578.4" y1="279.8" x2="669" y2="279.8" stroke="#9a9a9a" stroke-width="1"/>
<path d="M578.4 279.2v1.8M581.89 279.2v1.8M585.38 279.2v1.8M588.87 279.2v1.8M592.36 279.2v1.8M595.85 279.2v1.8M599.34 279.2v1.8M602.83 279.2v1.8M606.32 279.2v1.8M609.81 279.2v1.8M613.3 279.2v1.8M616.79 279.2v1.8M620.28 279.2v1.8M623.77 279.2v1.8M627.26 279.2v1.8M630.75 279.2v1.8M634.24 279.2v1.8M637.73 279.2v1.8M641.22 279.2v1.8M644.71 279.2v1.8M648.2 279.2v1.8M651.69 279.2v1.8M655.18 279.2v1.8M658.67 279.2v1.8M662.16 279.2v1.8M665.65 279.2v1.8" stroke="#666" stroke-width="0.5" fill="none"/>
<line x1="578.4" y1="277.4" x2="578.4" y2="282.4" stroke="#222" stroke-width="0.8"/>
<line x1="613.3" y1="277.4" x2="613.3" y2="282.4" stroke="#222" stroke-width="0.8"/>
<line x1="648.1" y1="277.4" x2="648.1" y2="282.4" stroke="#222" stroke-width="0.8"/>
<line x1="619" y1="279.8" x2="619" y2="276.65" stroke="#ccc" stroke-width="0.62"/>
<path d="M578.4 280.6V267.2H669" fill="none" stroke="#6e6e6e" stroke-width="0.7"/>
<line x1="403.4" y1="291" x2="403.4" y2="301.2" stroke="#2a2a2a" stroke-width="1.1"/><path d="M403.4 283L405.9 292.4L403.4 291L400.9 292.4Z" fill="#1a1a1a"/>
<line x1="406.1" y1="291" x2="406.1" y2="301.2" stroke="#f58cb4" stroke-width="1.3"/><path d="M406.1 283L408.6 292.4L406.1 291L403.6 292.4Z" fill="#e8306f"/>
<line x1="447.6" y1="291" x2="447.6" y2="301.2" stroke="#2a2a2a" stroke-width="1.1"/><path d="M447.6 283L450.1 292.4L447.6 291L445.1 292.4Z" fill="#1a1a1a"/>
<line x1="469.8" y1="291" x2="469.8" y2="301.2" stroke="#f58cb4" stroke-width="1.3"/><path d="M469.8 283L472.3 292.4L469.8 291L467.3 292.4Z" fill="#e8306f"/>
<line x1="501.8" y1="291" x2="501.8" y2="301.2" stroke="#f58cb4" stroke-width="1.3"/><path d="M501.8 283L504.3 292.4L501.8 291L499.3 292.4Z" fill="#e8306f"/>
<line x1="517.5" y1="291" x2="517.5" y2="301.2" stroke="#2a2a2a" stroke-width="1.1"/><path d="M517.5 283L520 292.4L517.5 291L515 292.4Z" fill="#1a1a1a"/>
<line x1="558.2" y1="291" x2="558.2" y2="301.2" stroke="#f58cb4" stroke-width="1.3"/><path d="M558.2 283L560.7 292.4L558.2 291L555.7 292.4Z" fill="#e8306f"/>
<line x1="582" y1="291" x2="582" y2="301.2" stroke="#2a2a2a" stroke-width="1.1"/><path d="M582 283L584.5 292.4L582 291L579.5 292.4Z" fill="#1a1a1a"/>
<line x1="605.4" y1="291" x2="605.4" y2="301.2" stroke="#f58cb4" stroke-width="1.3"/><path d="M605.4 283L607.9 292.4L605.4 291L602.9 292.4Z" fill="#e8306f"/>
<line x1="650.1" y1="291" x2="650.1" y2="301.2" stroke="#2a2a2a" stroke-width="1.1"/><path d="M650.1 283L652.6 292.4L650.1 291L647.6 292.4Z" fill="#1a1a1a"/>
<line x1="652.9" y1="291" x2="652.9" y2="301.2" stroke="#2a2a2a" stroke-width="1.1"/><path d="M652.9 283L655.4 292.4L652.9 291L650.4 292.4Z" fill="#1a1a1a"/>
<text x="677" y="130.2" font-size="8" transform="rotate(90 677 130.2)">–log(p) (ChIP/Input)</text>
</g>
<g id="panel-e">
<text x="536" y="369" font-size="15" font-weight="bold">e</text>
<text x="616.3" y="377.8" font-size="8.2" text-anchor="middle">Relative to Control</text>
<text x="575.7" y="390.6" font-size="7" text-anchor="middle">0.0</text>
<text x="607.2" y="390.6" font-size="7" text-anchor="middle">0.5</text>
<line x1="607.5" y1="392.6" x2="607.5" y2="397.3" stroke="#000" stroke-width="1.1"/>
<text x="638.7" y="390.6" font-size="7" text-anchor="middle">1.0</text>
<line x1="639" y1="392.6" x2="639" y2="397.3" stroke="#000" stroke-width="1.1"/>
<text x="670.2" y="390.6" font-size="7" text-anchor="middle">1.5</text>
<line x1="670.5" y1="392.6" x2="670.5" y2="397.3" stroke="#000" stroke-width="1.1"/>
<line x1="576" y1="392.6" x2="576" y2="622.2" stroke="#000" stroke-width="1.3"/>
<line x1="575.35" y1="397.3" x2="671.05" y2="397.3" stroke="#000" stroke-width="1.3"/>
<rect x="576" y="399.9" width="63" height="4.2" fill="#000"/>
<rect x="576.6" y="406.9" width="50.81" height="4" fill="#ee7777" stroke="#b95555" stroke-width="0.5"/>
<text x="629.26" y="408.95" font-size="5.4" text-anchor="middle" font-weight="bold" transform="rotate(90 629.26 408.95)" letter-spacing="0.2">**</text>
<rect x="576.6" y="413.65" width="53.83" height="4" fill="#e9c0e0" stroke="#aa8aa6" stroke-width="0.5"/>
<text x="632.28" y="415.7" font-size="5.4" text-anchor="middle" font-weight="bold" transform="rotate(90 632.28 415.7)" letter-spacing="0.2">***</text>
<rect x="576.6" y="420.4" width="79.73" height="4" fill="#7db5e2" stroke="#5b8fba" stroke-width="0.5"/>
<text x="658.18" y="422.45" font-size="5.4" text-anchor="middle" font-weight="bold" transform="rotate(90 658.18 422.45)" letter-spacing="0.2">***</text>
<rect x="576.6" y="427.15" width="62.91" height="4" fill="#a98fcb" stroke="#8a72aa" stroke-width="0.5"/>
<rect x="576.6" y="433.9" width="55.03" height="4" fill="#b4b4b4" stroke="#858585" stroke-width="0.5"/>
<text x="633.48" y="435.95" font-size="5.4" text-anchor="middle" font-weight="bold" transform="rotate(90 633.48 435.95)" letter-spacing="0.2">***</text>
<line x1="571" y1="418.88" x2="576" y2="418.88" stroke="#000" stroke-width="1.1"/>
<text x="550" y="429.6" font-size="7.8" text-anchor="middle" transform="rotate(-28 550 429.6)" dy="1.2">Upstream</text>
<rect x="576" y="445.4" width="63" height="4.2" fill="#000"/>
<rect x="576.6" y="452.4" width="72.23" height="4" fill="#ee7777" stroke="#b95555" stroke-width="0.5"/>
<text x="650.68" y="454.45" font-size="5.4" text-anchor="middle" font-weight="bold" transform="rotate(90 650.68 454.45)" letter-spacing="0.2">***</text>
<rect x="576.6" y="459.15" width="68.77" height="4" fill="#e9c0e0" stroke="#aa8aa6" stroke-width="0.5"/>
<text x="647.22" y="461.2" font-size="5.4" text-anchor="middle" font-weight="bold" transform="rotate(90 647.22 461.2)" letter-spacing="0.2">***</text>
<rect x="576.6" y="465.9" width="57.74" height="4" fill="#7db5e2" stroke="#5b8fba" stroke-width="0.5"/>
<rect x="576.6" y="472.65" width="69.65" height="4" fill="#a98fcb" stroke="#8a72aa" stroke-width="0.5"/>
<text x="648.1" y="474.7" font-size="5.4" text-anchor="middle" font-weight="bold" transform="rotate(90 648.1 474.7)" letter-spacing="0.2">***</text>
<rect x="576.6" y="479.4" width="76.64" height="4" fill="#b4b4b4" stroke="#858585" stroke-width="0.5"/>
<text x="655.09" y="481.45" font-size="5.4" text-anchor="middle" font-weight="bold" transform="rotate(90 655.09 481.45)" letter-spacing="0.2">***</text>
<line x1="571" y1="464.38" x2="576" y2="464.38" stroke="#000" stroke-width="1.1"/>
<text x="550.2" y="479" font-size="7.8" text-anchor="middle" transform="rotate(-28 550.2 479)" dy="1.2">Downstream</text>
<rect x="576" y="490.8" width="63" height="4.2" fill="#000"/>
<rect x="576.6" y="497.8" width="36.32" height="4" fill="#ee7777" stroke="#b95555" stroke-width="0.5"/>
<text x="614.77" y="499.85" font-size="5.4" text-anchor="middle" font-weight="bold" transform="rotate(90 614.77 499.85)" letter-spacing="0.2">**</text>
<rect x="576.6" y="504.55" width="35.12" height="4" fill="#e9c0e0" stroke="#aa8aa6" stroke-width="0.5"/>
<text x="613.57" y="506.6" font-size="5.4" text-anchor="middle" font-weight="bold" transform="rotate(90 613.57 506.6)" letter-spacing="0.2">**</text>
<rect x="576.6" y="511.3" width="89.24" height="4" fill="#7db5e2" stroke="#5b8fba" stroke-width="0.5"/>
<text x="667.69" y="513.35" font-size="5.4" text-anchor="middle" font-weight="bold" transform="rotate(90 667.69 513.35)" letter-spacing="0.2">***</text>
<rect x="576.6" y="518.05" width="51.75" height="4" fill="#a98fcb" stroke="#8a72aa" stroke-width="0.5"/>
<text x="630.21" y="520.1" font-size="5.4" text-anchor="middle" font-weight="bold" transform="rotate(90 630.21 520.1)" letter-spacing="0.2">**</text>
<rect x="576.6" y="524.8" width="36.57" height="4" fill="#b4b4b4" stroke="#858585" stroke-width="0.5"/>
<text x="615.02" y="526.85" font-size="5.4" text-anchor="middle" font-weight="bold" transform="rotate(90 615.02 526.85)" letter-spacing="0.2">***</text>
<line x1="571" y1="509.78" x2="576" y2="509.78" stroke="#000" stroke-width="1.1"/>
<text x="550.4" y="525.2" font-size="7.8" text-anchor="middle" transform="rotate(-28 550.4 525.2)" dy="1.2">Exon</text>
<rect x="576" y="536.2" width="63" height="4.2" fill="#000"/>
<rect x="576.6" y="543.2" width="55.72" height="4" fill="#ee7777" stroke="#b95555" stroke-width="0.5"/>
<text x="634.17" y="545.25" font-size="5.4" text-anchor="middle" font-weight="bold" transform="rotate(90 634.17 545.25)" letter-spacing="0.2">***</text>
<rect x="576.6" y="549.95" width="56.86" height="4" fill="#e9c0e0" stroke="#aa8aa6" stroke-width="0.5"/>
<text x="635.31" y="552" font-size="5.4" text-anchor="middle" font-weight="bold" transform="rotate(90 635.31 552)" letter-spacing="0.2">***</text>
<rect x="576.6" y="556.7" width="53.83" height="4" fill="#7db5e2" stroke="#5b8fba" stroke-width="0.5"/>
<text x="632.28" y="558.75" font-size="5.4" text-anchor="middle" font-weight="bold" transform="rotate(90 632.28 558.75)" letter-spacing="0.2">***</text>
<rect x="576.6" y="563.45" width="58.24" height="4" fill="#a98fcb" stroke="#8a72aa" stroke-width="0.5"/>
<text x="636.69" y="565.5" font-size="5.4" text-anchor="middle" font-weight="bold" transform="rotate(90 636.69 565.5)" letter-spacing="0.2">**</text>
<rect x="576.6" y="570.2" width="53.83" height="4" fill="#b4b4b4" stroke="#858585" stroke-width="0.5"/>
<text x="632.28" y="572.25" font-size="5.4" text-anchor="middle" font-weight="bold" transform="rotate(90 632.28 572.25)" letter-spacing="0.2">***</text>
<line x1="571" y1="555.18" x2="576" y2="555.18" stroke="#000" stroke-width="1.1"/>
<text x="550.8" y="565.2" font-size="7.8" text-anchor="middle" transform="rotate(-28 550.8 565.2)" dy="1.2">Intron</text>
<rect x="576" y="581.7" width="63" height="4.2" fill="#000"/>
<rect x="576.6" y="588.7" width="70.66" height="4" fill="#ee7777" stroke="#b95555" stroke-width="0.5"/>
<text x="649.11" y="590.75" font-size="5.4" text-anchor="middle" font-weight="bold" transform="rotate(90 649.11 590.75)" letter-spacing="0.2">***</text>
<rect x="576.6" y="595.45" width="69.08" height="4" fill="#e9c0e0" stroke="#aa8aa6" stroke-width="0.5"/>
<text x="647.53" y="597.5" font-size="5.4" text-anchor="middle" font-weight="bold" transform="rotate(90 647.53 597.5)" letter-spacing="0.2">***</text>
<rect x="576.6" y="602.2" width="56.73" height="4" fill="#7db5e2" stroke="#5b8fba" stroke-width="0.5"/>
<text x="635.18" y="604.25" font-size="5.4" text-anchor="middle" font-weight="bold" transform="rotate(90 635.18 604.25)" letter-spacing="0.2">**</text>
<rect x="576.6" y="608.95" width="61.96" height="4" fill="#a98fcb" stroke="#8a72aa" stroke-width="0.5"/>
<rect x="576.6" y="615.7" width="68.01" height="4" fill="#b4b4b4" stroke="#858585" stroke-width="0.5"/>
<text x="646.46" y="617.75" font-size="5.4" text-anchor="middle" font-weight="bold" transform="rotate(90 646.46 617.75)" letter-spacing="0.2">***</text>
<line x1="571" y1="600.68" x2="576" y2="600.68" stroke="#000" stroke-width="1.1"/>
<text x="550.3" y="610" font-size="7.8" text-anchor="middle" transform="rotate(-28 550.3 610)" dy="1.2">Intergenic</text>
<rect x="563.6" y="631.4" width="103.9" height="40.9" rx="1.5" fill="#fff" stroke="#dcdcdc" stroke-width="0.8"/>
<rect x="568.9" y="640.7" width="10.4" height="3.4" fill="#000" stroke="#000" stroke-width="0.4"/>
<text x="583.9" y="645" font-size="7.3">Control</text>
<rect x="568.9" y="651.3" width="10.4" height="3.4" fill="#ee7777" stroke="#b95555" stroke-width="0.4"/>
<text x="583.9" y="655.6" font-size="7.3">siRad21</text>
<rect x="568.9" y="662.2" width="10.4" height="3.4" fill="#e9c0e0" stroke="#aa8aa6" stroke-width="0.4"/>
<text x="583.9" y="666.5" font-size="7.3">siNIPBL</text>
<rect x="616.2" y="640.7" width="10.4" height="3.4" fill="#7db5e2" stroke="#5b8fba" stroke-width="0.4"/>
<text x="631.3" y="645" font-size="7.3">siCTCF</text>
<rect x="616.2" y="651.3" width="10.4" height="3.4" fill="#a98fcb" stroke="#8a72aa" stroke-width="0.4"/>
<text x="631.3" y="655.6" font-size="7.3">siESCO1</text>
<rect x="616.2" y="662.2" width="10.4" height="3.4" fill="#b4b4b4" stroke="#858585" stroke-width="0.4"/>
<text x="631.3" y="666.5" font-size="7.3">Smc3ac</text>
</g>
</g>
</svg>
</body></html>
